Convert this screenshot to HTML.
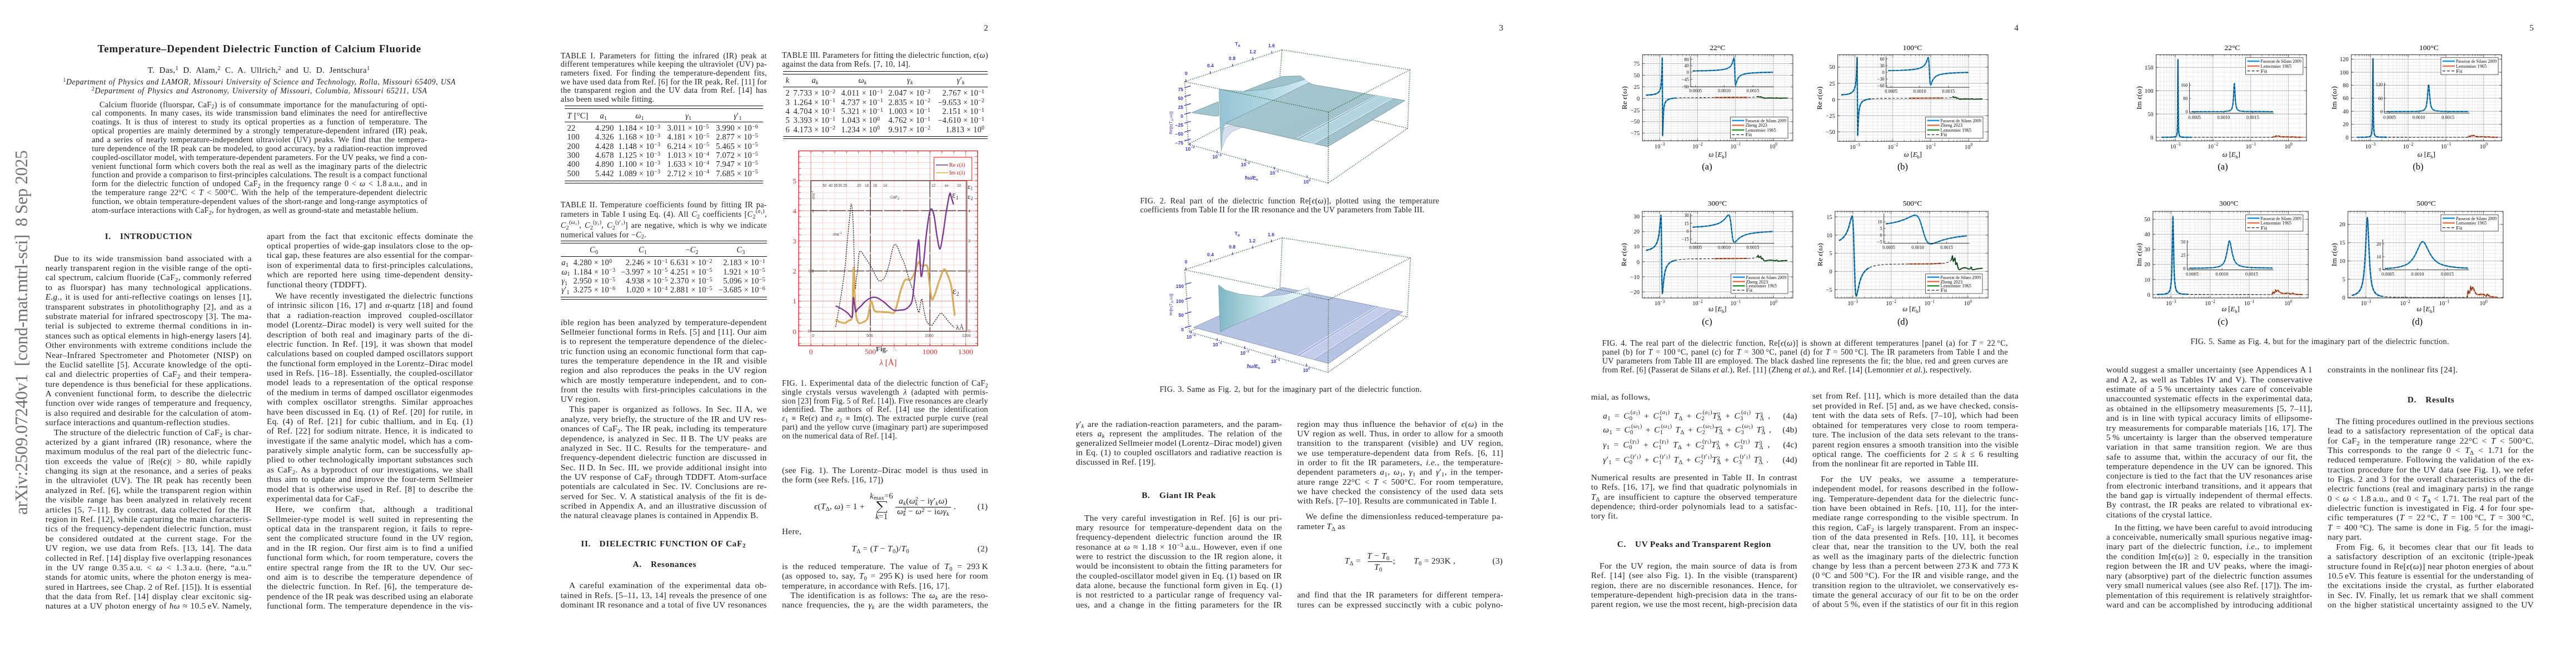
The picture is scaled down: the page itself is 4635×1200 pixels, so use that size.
<!DOCTYPE html><html><head><meta charset='utf-8'><style>
*{margin:0;padding:0}
html,body{width:4635px;height:1200px;overflow:hidden;background:#fff}
body{position:relative;font-family:"Liberation Serif",serif;color:#1e1e1e}
.x{position:absolute;white-space:nowrap;line-height:20px}
sub,sup{font-size:70%;line-height:0;position:relative;vertical-align:baseline}
sub{top:0.28em}
sup{top:-0.42em}
.ss{font-family:"Liberation Sans",sans-serif}
.b{font-size:15.3px;letter-spacing:0.3px}
.bi{font-size:15.3px;letter-spacing:0.3px;font-style:italic}
.c{font-size:14.3px;letter-spacing:0.27px}
.t{font-size:19px;font-weight:bold;letter-spacing:0.8px}
.h{font-size:15.3px;font-weight:bold;letter-spacing:0.65px}
.af{font-size:13.9px;font-style:italic;letter-spacing:0.55px}
.au{font-size:15.3px;letter-spacing:0.3px}
.tb{font-size:14.4px;letter-spacing:0.25px}
.pn{font-size:15.3px}
</style></head><body><div id='rw' style='position:absolute;left:0;top:0;width:4635px;height:1200px;will-change:transform'><div style="position:absolute;left:20.7px;top:925.6px;transform-origin:0 0;transform:rotate(-90deg);font-family:'Liberation Serif';font-size:31.5px;letter-spacing:-0.5px;line-height:normal;color:#727272;white-space:nowrap">arXiv:2509.07240v1&nbsp; [cond-mat.mtrl-sci]&nbsp; 8 Sep 2025</div>
<div style="position:absolute;left:1015.70px;top:190.15px;width:357.00px;height:0.90px;background:#111"></div>
<div style="position:absolute;left:1015.70px;top:194.75px;width:357.00px;height:0.90px;background:#111"></div>
<div style="position:absolute;left:1015.70px;top:219.15px;width:357.00px;height:0.90px;background:#111"></div>
<div style="position:absolute;left:1015.70px;top:324.65px;width:357.00px;height:0.90px;background:#111"></div>
<div style="position:absolute;left:1015.70px;top:329.05px;width:357.00px;height:0.90px;background:#111"></div>
<div style="position:absolute;left:1008.90px;top:433.15px;width:370.70px;height:0.90px;background:#111"></div>
<div style="position:absolute;left:1008.90px;top:436.95px;width:370.70px;height:0.90px;background:#111"></div>
<div style="position:absolute;left:1008.90px;top:460.75px;width:370.70px;height:0.90px;background:#111"></div>
<div style="position:absolute;left:1008.90px;top:534.45px;width:370.70px;height:0.90px;background:#111"></div>
<div style="position:absolute;left:1008.90px;top:538.45px;width:370.70px;height:0.90px;background:#111"></div>
<div style="position:absolute;left:1408.60px;top:128.35px;width:368.20px;height:0.90px;background:#111"></div>
<div style="position:absolute;left:1408.60px;top:132.55px;width:368.20px;height:0.90px;background:#111"></div>
<div style="position:absolute;left:1408.60px;top:155.75px;width:368.20px;height:0.90px;background:#111"></div>
<div style="position:absolute;left:1408.60px;top:244.85px;width:368.20px;height:0.90px;background:#111"></div>
<div style="position:absolute;left:1408.60px;top:249.25px;width:368.20px;height:0.90px;background:#111"></div>
<svg style="position:absolute;left:1420px;top:262px" width="350" height="410" viewBox="1420 262 350 410"><path d="M1437.6 271.5V622M1459.0 271.5V622M1480.4 271.5V622M1501.9 271.5V622M1523.3 271.5V622M1544.7 271.5V622M1566.2 271.5V622M1587.6 271.5V622M1609.0 271.5V622M1630.4 271.5V622M1651.9 271.5V622M1673.3 271.5V622M1694.7 271.5V622M1716.2 271.5V622M1737.6 271.5V622M1759.0 271.5V622M1437 617.7H1759M1437 606.8H1759M1437 596.0H1759M1437 585.2H1759M1437 574.3H1759M1437 563.5H1759M1437 552.6H1759M1437 541.8H1759M1437 531.0H1759M1437 520.1H1759M1437 509.3H1759M1437 498.4H1759M1437 487.6H1759M1437 476.8H1759M1437 465.9H1759M1437 455.1H1759M1437 444.2H1759M1437 433.4H1759M1437 422.6H1759M1437 411.7H1759M1437 400.9H1759M1437 390.0H1759M1437 379.2H1759M1437 368.4H1759M1437 357.5H1759M1437 346.7H1759M1437 335.8H1759M1437 325.0H1759M1437 314.2H1759M1437 303.3H1759M1437 292.5H1759M1437 281.6H1759" stroke="#f6cccc" stroke-width="0.8" fill="none"/><path d="M1437 596.0H1759M1437 541.8H1759M1437 487.6H1759M1437 433.4H1759M1437 379.2H1759M1437 325.0H1759M1459.0 271.5V622M1566.2 271.5V622M1673.3 271.5V622M1737.6 271.5V622" stroke="#ee9090" stroke-width="0.8" fill="none"/><path d="M1437 617.7h4M1759 617.7h-4M1437 606.8h4M1759 606.8h-4M1437 596.0h4M1759 596.0h-4M1437 585.2h4M1759 585.2h-4M1437 574.3h4M1759 574.3h-4M1437 563.5h4M1759 563.5h-4M1437 552.6h4M1759 552.6h-4M1437 541.8h4M1759 541.8h-4M1437 531.0h4M1759 531.0h-4M1437 520.1h4M1759 520.1h-4M1437 509.3h4M1759 509.3h-4M1437 498.4h4M1759 498.4h-4M1437 487.6h4M1759 487.6h-4M1437 476.8h4M1759 476.8h-4M1437 465.9h4M1759 465.9h-4M1437 455.1h4M1759 455.1h-4M1437 444.2h4M1759 444.2h-4M1437 433.4h4M1759 433.4h-4M1437 422.6h4M1759 422.6h-4M1437 411.7h4M1759 411.7h-4M1437 400.9h4M1759 400.9h-4M1437 390.0h4M1759 390.0h-4M1437 379.2h4M1759 379.2h-4M1437 368.4h4M1759 368.4h-4M1437 357.5h4M1759 357.5h-4M1437 346.7h4M1759 346.7h-4M1437 335.8h4M1759 335.8h-4M1437 325.0h4M1759 325.0h-4M1437 314.2h4M1759 314.2h-4M1437 303.3h4M1759 303.3h-4M1437 292.5h4M1759 292.5h-4M1437 281.6h4M1759 281.6h-4M1437.6 622v-4M1437.6 271.5v4M1459.0 622v-4M1459.0 271.5v4M1480.4 622v-4M1480.4 271.5v4M1501.9 622v-4M1501.9 271.5v4M1523.3 622v-4M1523.3 271.5v4M1544.7 622v-4M1544.7 271.5v4M1566.2 622v-4M1566.2 271.5v4M1587.6 622v-4M1587.6 271.5v4M1609.0 622v-4M1609.0 271.5v4M1630.4 622v-4M1630.4 271.5v4M1651.9 622v-4M1651.9 271.5v4M1673.3 622v-4M1673.3 271.5v4M1694.7 622v-4M1694.7 271.5v4M1716.2 622v-4M1716.2 271.5v4M1737.6 622v-4M1737.6 271.5v4M1759.0 622v-4M1759.0 271.5v4" stroke="#e03030" stroke-width="0.9" fill="none"/><rect x="1437" y="271.5" width="322" height="350.5" fill="none" stroke="#e02020" stroke-width="1.3"/><path d="M1459 325H1739.5V596H1459Z" fill="none" stroke="#6b4848" stroke-width="1.6"/><path d="M1459 379H1739.5M1459 487.5H1739.5M1566.1 325V596M1673.3 325V596" fill="none" stroke="#6b4848" stroke-width="1.5" stroke-dasharray="30 3"/><g font-family="Liberation Sans" font-size="6.5" fill="#444"><text x="1480" y="336">50</text><text x="1491" y="336">40</text><text x="1500" y="336">35</text><text x="1508" y="336">30</text><text x="1517" y="336">25</text><text x="1542" y="336">20</text><text x="1556" y="336">18</text><text x="1571" y="336">16</text><text x="1589" y="336">14</text><text x="1676" y="336">12</text><text x="1700" y="336">ev</text><text x="1722" y="336">10</text><text x="1602" y="357" font-size="7">CaF<tspan font-size="5" dy="2">2</tspan></text><text x="1497" y="424" font-size="7">-Imε<tspan font-size="5" dy="-3">-1</tspan></text><text transform="translate(1466 360) rotate(-90)" font-size="6.5">-Imε<tspan font-size="5" dy="-3">-1</tspan></text><text x="1461" y="382" font-size="7">1</text><text x="1455" y="490" font-size="7">0,5</text><text x="1454" y="598" font-size="7">0</text><text x="1461" y="606" font-size="7">0</text><text x="1559" y="606" font-size="7">500</text><text x="1664" y="606" font-size="7">1000</text><text x="1731" y="606" font-size="7">1300</text><text x="1742" y="382" font-size="7">4</text><text x="1742" y="436" font-size="7">3</text><text x="1742" y="490" font-size="7">2</text><text x="1742" y="544" font-size="7">1</text><text x="1742" y="598" font-size="7">0</text><text x="1741" y="340" font-size="13" font-family="Liberation Serif" fill="#333">ε<tspan font-size="8" dy="2">1</tspan></text><text x="1741" y="358" font-size="13" font-family="Liberation Serif" fill="#333">ε<tspan font-size="8" dy="2">2</tspan></text><text x="1713" y="356" font-size="16" font-family="Liberation Serif" fill="#333">ε<tspan font-size="10" dy="3">1</tspan></text><text x="1714" y="529" font-size="16" font-family="Liberation Serif" fill="#333">ε<tspan font-size="10" dy="3">2</tspan></text><text x="1720" y="593" font-size="12" font-family="Liberation Serif" fill="#333">λÅ</text></g><path d="M1503.6 588.1 C1505.0 580.1 1509.3 556.9 1512.0 540.0 C1514.7 523.1 1517.8 503.4 1519.8 486.7 C1521.8 470.0 1522.7 454.4 1524.0 440.0 C1525.3 425.6 1526.6 412.5 1527.9 400.3 C1529.2 388.1 1530.5 366.9 1531.7 366.9 C1532.9 366.9 1534.1 383.1 1535.0 400.3 C1535.9 417.5 1536.4 450.2 1537.0 470.0 C1537.6 489.8 1538.0 514.0 1538.7 519.0 C1539.4 524.0 1540.3 505.4 1541.0 500.0 C1541.7 494.6 1542.3 493.0 1543.0 486.7 C1543.7 480.4 1544.3 467.9 1545.0 462.0 C1545.7 456.1 1546.2 452.6 1547.4 451.6 C1548.6 450.6 1550.3 453.8 1552.0 456.0 C1553.7 458.2 1555.4 461.7 1557.6 465.0 C1559.8 468.3 1562.8 472.4 1565.0 476.0 C1567.2 479.6 1569.3 483.2 1571.1 486.7 C1572.9 490.2 1574.2 493.9 1576.0 497.0 C1577.8 500.1 1580.1 504.3 1581.9 505.5 C1583.7 506.7 1585.2 505.3 1587.0 504.0 C1588.8 502.7 1590.5 502.3 1592.7 497.5 C1594.9 492.7 1597.8 483.2 1600.0 475.0 C1602.2 466.8 1604.3 453.9 1606.0 448.0 C1607.7 442.1 1608.5 440.2 1610.0 439.7 C1611.5 439.2 1613.2 441.6 1615.0 445.0 C1616.8 448.4 1618.9 454.9 1621.0 460.0 C1623.1 465.1 1625.5 469.2 1627.8 475.9 C1630.1 482.6 1632.8 492.8 1635.0 500.0 C1637.2 507.2 1639.3 512.3 1641.3 519.0 C1643.3 525.7 1645.0 532.8 1647.0 540.0 C1649.0 547.2 1651.6 560.9 1653.1 562.2 C1654.6 563.5 1655.1 552.0 1656.0 548.0 C1656.9 544.0 1657.7 537.6 1658.5 537.9 C1659.3 538.2 1659.8 544.1 1661.0 550.0 C1662.2 555.9 1664.0 567.7 1665.5 573.0 C1667.0 578.3 1668.2 579.9 1670.0 582.0 C1671.8 584.1 1674.0 586.6 1676.3 585.4 C1678.6 584.2 1681.3 578.6 1684.0 575.0 C1686.7 571.4 1689.8 564.6 1692.5 563.8 C1695.2 563.0 1697.4 567.3 1700.0 570.0 C1702.6 572.7 1705.2 576.8 1708.0 580.0 C1710.8 583.2 1715.3 587.7 1716.8 589.2" fill="none" stroke="#2a2a2a" stroke-width="1.35" stroke-dasharray="2.4 1.7"/><path d="M1503.6 575.7 C1504.7 576.2 1507.3 578.1 1510.0 579.0 C1512.7 579.9 1517.0 581.4 1519.8 581.1 C1522.6 580.8 1524.8 578.8 1527.0 577.0 C1529.2 575.2 1532.0 578.1 1533.3 570.3 C1534.5 562.5 1534.0 544.8 1534.5 530.0 C1535.0 515.2 1535.5 483.0 1536.0 481.3 C1536.5 479.6 1536.9 506.5 1537.5 520.0 C1538.1 533.5 1539.0 553.0 1539.8 562.2 C1540.5 571.4 1541.1 571.9 1542.0 575.0 C1542.9 578.1 1543.5 580.3 1545.2 581.1 C1546.9 581.9 1549.5 581.2 1552.0 580.0 C1554.5 578.8 1558.3 577.8 1560.3 574.1 C1562.3 570.4 1562.9 563.4 1564.0 558.0 C1565.1 552.6 1565.8 543.4 1566.8 541.7 C1567.8 540.0 1568.8 545.0 1570.0 548.0 C1571.2 551.0 1571.3 557.3 1573.8 559.5 C1576.3 561.7 1580.6 560.6 1585.0 561.0 C1589.4 561.4 1596.0 561.8 1600.0 562.0 C1604.0 562.2 1606.4 565.0 1608.9 562.2 C1611.4 559.4 1613.2 551.2 1615.0 545.0 C1616.8 538.8 1617.9 531.8 1620.0 525.0 C1622.1 518.2 1625.6 508.2 1627.8 504.5 C1630.0 500.8 1631.2 503.3 1633.0 503.0 C1634.8 502.7 1636.6 504.7 1638.6 502.9 C1640.6 501.1 1642.8 497.1 1645.0 492.0 C1647.2 486.9 1650.3 474.8 1652.1 472.1 C1653.9 469.4 1654.7 474.9 1656.0 476.0 C1657.3 477.1 1658.2 478.2 1660.2 478.6 C1662.2 479.0 1666.3 474.2 1668.3 478.6 C1670.3 483.0 1670.7 495.1 1672.0 505.0 C1673.3 514.9 1674.6 533.7 1676.3 537.9 C1678.0 542.1 1679.7 535.5 1682.0 530.0 C1684.3 524.5 1687.3 512.4 1690.0 505.0 C1692.7 497.6 1695.7 488.1 1697.9 485.6 C1700.1 483.1 1700.8 485.3 1703.0 490.0 C1705.2 494.7 1709.6 506.1 1711.4 513.6 C1713.2 521.1 1712.9 526.0 1714.0 535.0 C1715.1 544.0 1717.2 562.2 1717.9 567.6" fill="none" stroke="#5a4a30" stroke-width="3.0" opacity="0.6"/><path d="M1503.6 575.7 C1504.7 576.2 1507.3 578.1 1510.0 579.0 C1512.7 579.9 1517.0 581.4 1519.8 581.1 C1522.6 580.8 1524.8 578.8 1527.0 577.0 C1529.2 575.2 1532.0 578.1 1533.3 570.3 C1534.5 562.5 1534.0 544.8 1534.5 530.0 C1535.0 515.2 1535.5 483.0 1536.0 481.3 C1536.5 479.6 1536.9 506.5 1537.5 520.0 C1538.1 533.5 1539.0 553.0 1539.8 562.2 C1540.5 571.4 1541.1 571.9 1542.0 575.0 C1542.9 578.1 1543.5 580.3 1545.2 581.1 C1546.9 581.9 1549.5 581.2 1552.0 580.0 C1554.5 578.8 1558.3 577.8 1560.3 574.1 C1562.3 570.4 1562.9 563.4 1564.0 558.0 C1565.1 552.6 1565.8 543.4 1566.8 541.7 C1567.8 540.0 1568.8 545.0 1570.0 548.0 C1571.2 551.0 1571.3 557.3 1573.8 559.5 C1576.3 561.7 1580.6 560.6 1585.0 561.0 C1589.4 561.4 1596.0 561.8 1600.0 562.0 C1604.0 562.2 1606.4 565.0 1608.9 562.2 C1611.4 559.4 1613.2 551.2 1615.0 545.0 C1616.8 538.8 1617.9 531.8 1620.0 525.0 C1622.1 518.2 1625.6 508.2 1627.8 504.5 C1630.0 500.8 1631.2 503.3 1633.0 503.0 C1634.8 502.7 1636.6 504.7 1638.6 502.9 C1640.6 501.1 1642.8 497.1 1645.0 492.0 C1647.2 486.9 1650.3 474.8 1652.1 472.1 C1653.9 469.4 1654.7 474.9 1656.0 476.0 C1657.3 477.1 1658.2 478.2 1660.2 478.6 C1662.2 479.0 1666.3 474.2 1668.3 478.6 C1670.3 483.0 1670.7 495.1 1672.0 505.0 C1673.3 514.9 1674.6 533.7 1676.3 537.9 C1678.0 542.1 1679.7 535.5 1682.0 530.0 C1684.3 524.5 1687.3 512.4 1690.0 505.0 C1692.7 497.6 1695.7 488.1 1697.9 485.6 C1700.1 483.1 1700.8 485.3 1703.0 490.0 C1705.2 494.7 1709.6 506.1 1711.4 513.6 C1713.2 521.1 1712.9 526.0 1714.0 535.0 C1715.1 544.0 1717.2 562.2 1717.9 567.6" fill="none" stroke="#e9b24a" stroke-width="2.2"/><path d="M1503.6 550.3 C1505.5 551.2 1511.4 553.9 1515.0 556.0 C1518.6 558.1 1522.0 560.6 1525.0 563.0 C1528.0 565.4 1531.7 572.5 1533.3 570.3 C1534.9 568.1 1534.1 555.9 1534.5 550.0 C1534.9 544.1 1535.0 535.5 1535.5 535.2 C1536.0 534.9 1536.8 543.7 1537.5 548.0 C1538.2 552.3 1538.9 559.8 1539.8 561.1 C1540.7 562.4 1541.6 557.6 1543.0 556.0 C1544.4 554.4 1546.2 553.6 1548.4 551.4 C1550.6 549.2 1553.1 545.5 1556.0 543.0 C1558.9 540.5 1562.3 537.6 1565.7 536.3 C1569.1 535.0 1572.5 534.1 1576.5 535.2 C1580.5 536.3 1586.1 540.2 1590.0 543.0 C1593.9 545.8 1596.8 549.4 1600.0 552.0 C1603.2 554.6 1605.9 557.4 1608.9 558.4 C1611.9 559.4 1614.8 558.3 1618.0 558.0 C1621.2 557.7 1625.0 557.8 1627.8 556.8 C1630.6 555.8 1632.8 554.7 1635.0 552.0 C1637.2 549.3 1639.5 549.3 1641.3 540.6 C1643.1 531.9 1644.5 514.3 1646.0 500.0 C1647.5 485.7 1648.8 466.4 1650.0 455.0 C1651.2 443.6 1652.3 430.8 1653.1 431.6 C1653.9 432.4 1654.3 449.0 1655.0 460.0 C1655.7 471.0 1656.3 495.8 1657.5 497.5 C1658.7 499.2 1660.4 482.9 1662.0 470.0 C1663.6 457.1 1665.1 435.2 1667.0 420.0 C1668.9 404.8 1671.4 384.5 1673.6 378.7 C1675.8 372.9 1677.9 377.3 1680.0 385.0 C1682.1 392.7 1684.1 414.5 1686.0 425.0 C1687.9 435.5 1689.6 448.6 1691.4 447.8 C1693.2 447.0 1695.2 430.5 1697.0 420.0 C1698.8 409.5 1700.0 396.8 1702.0 385.0 C1704.0 373.2 1707.0 353.8 1708.7 349.0 C1710.4 344.2 1710.8 352.9 1712.0 356.0 C1713.2 359.1 1715.1 365.9 1715.7 367.9" fill="none" stroke="#7b3b93" stroke-width="2.4"/><rect x="1680.4" y="283.1" width="68.3" height="41.3" fill="#fff" stroke="#e02020" stroke-width="1"/><path d="M1684 296.8h22" stroke="#7a3a90" stroke-width="1.6"/><path d="M1684 310.9h22" stroke="#f0b040" stroke-width="1.6"/><g font-family="Liberation Serif" font-size="10" fill="#d02020"><text x="1708" y="300">Re <tspan font-style="italic">ϵ</tspan>(<tspan font-style="italic">λ</tspan>)</text><text x="1708" y="314">Im <tspan font-style="italic">ϵ</tspan>(<tspan font-style="italic">λ</tspan>)</text></g><g font-family="Liberation Serif" font-size="13.5" fill="#d83030" text-anchor="end"><text x="1433" y="600.5">0</text><text x="1433" y="546.3">1</text><text x="1433" y="492.1">2</text><text x="1433" y="437.9">3</text><text x="1433" y="383.7">4</text><text x="1433" y="329.5">5</text></g><g font-family="Liberation Serif" font-size="13.5" fill="#d83030" text-anchor="middle"><text x="1459.0" y="637.3">0</text><text x="1566.2" y="637.3">500</text><text x="1673.3" y="637.3">1000</text><text x="1737.6" y="637.3">1300</text><text x="1598" y="656.5" font-size="15"><tspan font-style="italic">λ</tspan> [Å]</text></g><text x="1576" y="632" font-family="Liberation Serif" font-size="13" font-weight="bold" fill="#444">Fig.</text><text x="1606" y="632" font-family="Liberation Serif" font-size="13" fill="#bbb">5.</text></svg>
<svg style="position:absolute;left:1570px;top:896px" width="32" height="32" viewBox="1570 896 32 32"><path d="M1595.6 902.4H1577.4L1587 912.2L1577.2 921.8H1595.8" fill="none" stroke="#111" stroke-width="1.0"/><path d="M1577.9 902.4L1587.4 912.2" stroke="#111" stroke-width="2.1"/><path d="M1595.3 902V905M1595.6 922.3V918.5" stroke="#111" stroke-width="0.9"/></svg>
<div style="position:absolute;left:1611.40px;top:911.70px;width:99.40px;height:0.80px;background:#111"></div>
<svg style="position:absolute;left:2080px;top:60px" width="480" height="640" viewBox="2080 60 480 640"><defs><linearGradient id="gw" x1="0" y1="0" x2="1" y2="0"><stop offset="0" stop-color="#95c3d3"/><stop offset="0.5" stop-color="#aed5e1"/><stop offset="1" stop-color="#d2ecf3"/></linearGradient><linearGradient id="gw2" x1="0" y1="0" x2="1" y2="0"><stop offset="0" stop-color="#7fb7c4"/><stop offset="0.5" stop-color="#c5e2ea"/><stop offset="1" stop-color="#f2f8fb"/></linearGradient><linearGradient id="gs" x1="0" y1="0" x2="1" y2="1"><stop offset="0" stop-color="#a6c6d0"/><stop offset="1" stop-color="#a0c0ca"/></linearGradient></defs><line x1="2138.4" y1="259.5" x2="2300.0" y2="175.0" stroke="#325c32" stroke-width="1.5" stroke-dasharray="1.3 2.2"/><line x1="2300.0" y1="175.0" x2="2532.7" y2="230.9" stroke="#325c32" stroke-width="1.5" stroke-dasharray="1.3 2.2"/><line x1="2306.8" y1="89.7" x2="2300.0" y2="175.0" stroke="#325c32" stroke-width="1.5" stroke-dasharray="1.3 2.2"/><polygon points="2204.0,222.0 2388.7,264.0 2527.8,180.9 2362.6,152.2 2355.0,148.8 2300.0,176.0" fill="url(#gs)" stroke="#5d7f8a" stroke-width="0.7"/><polygon points="2144.3,202.6 2192.2,183.0 2193.0,208.0 2187.6,209.1" fill="#a2c6d1" stroke="#5d7f8a" stroke-width="0.7"/><polygon points="2237.6,164.4 2307.2,137.3 2340.0,136.5 2348.0,142.8 2312.0,153.6 2276.0,160.8" fill="#9fc3ce" stroke="#5d7f8a" stroke-width="0.6"/><polygon points="2193.2,160.8 2237.6,164.4 2276.0,160.8 2312.0,153.6 2348.0,142.8 2352.0,147.0 2355.0,148.8 2300.0,176.0 2250.0,200.0 2204.0,222.0 2199.0,240.0 2197.3,271.2 2195.0,215.0" fill="url(#gw)" stroke="#6a8c96" stroke-width="0.5"/><polygon points="2197.3,271.2 2199.0,245.0 2203.0,230.0 2210.0,226.0 2235.0,229.0 2218.0,236.0 2205.0,250.0" fill="#d6dfee" stroke="#7a92a0" stroke-width="0.5"/><polygon points="2339,251 2363,259 2505,177.3 2482,171.8" fill="#b3d6e1" opacity="0.9"/><g stroke="#e6f6fb" stroke-width="1.0" fill="none"><path d="M2333.5 249L2478.3 170.8M2338.5 250.8L2482 171.7M2363.2 258.9L2505.3 177.1"/></g><g stroke="#7d9aa5" stroke-width="0.5" fill="none"><path d="M2336 250L2480 171.2M2366 259.8L2507 178"/></g><line x1="2131.7" y1="146.8" x2="2306.8" y2="89.7" stroke="#325c32" stroke-width="1.5" stroke-dasharray="1.3 2.2"/><line x1="2306.8" y1="89.7" x2="2537.0" y2="125.6" stroke="#325c32" stroke-width="1.5" stroke-dasharray="1.3 2.2"/><line x1="2537.0" y1="125.6" x2="2390.4" y2="201.6" stroke="#325c32" stroke-width="1.5" stroke-dasharray="1.3 2.2"/><line x1="2131.7" y1="146.8" x2="2390.4" y2="201.6" stroke="#325c32" stroke-width="1.5" stroke-dasharray="1.3 2.2"/><line x1="2537.0" y1="125.6" x2="2532.7" y2="230.9" stroke="#325c32" stroke-width="1.5" stroke-dasharray="1.3 2.2"/><line x1="2390.4" y1="201.6" x2="2389.7" y2="329.5" stroke="#325c32" stroke-width="1.5" stroke-dasharray="1.3 2.2"/><line x1="2389.7" y1="329.5" x2="2532.7" y2="230.9" stroke="#325c32" stroke-width="1.5" stroke-dasharray="1.3 2.2"/><line x1="2138.4" y1="259.5" x2="2389.7" y2="329.5" stroke="#325c32" stroke-width="1.5" stroke-dasharray="1.3 2.2"/><line x1="2131.7" y1="146.8" x2="2138.4" y2="259.5" stroke="#325c32" stroke-width="1.5" stroke-dasharray="1.3 2.2"/><g stroke="#3a3ad0" stroke-width="1.4"><line x1="2131" y1="157.9" x2="2142.5" y2="154.6"/><line x1="2131" y1="173.8" x2="2142.5" y2="170.5"/><line x1="2131" y1="189.8" x2="2142.5" y2="186.5"/><line x1="2131" y1="205.7" x2="2142.5" y2="202.4"/><line x1="2131" y1="221.6" x2="2142.5" y2="218.3"/><line x1="2131" y1="237.6" x2="2142.5" y2="234.3"/><line x1="2131" y1="253.5" x2="2142.5" y2="250.2"/></g><g font-family="Liberation Sans" fill="#3a3ad0"><text x="2129.0" y="163.9" text-anchor="end" font-size="8.5" font-weight="bold">75</text><text x="2129.0" y="179.8" text-anchor="end" font-size="8.5" font-weight="bold">50</text><text x="2129.0" y="195.8" text-anchor="end" font-size="8.5" font-weight="bold">25</text><text x="2129.0" y="211.7" text-anchor="end" font-size="8.5" font-weight="bold">0</text><text x="2129.0" y="227.6" text-anchor="end" font-size="8.5" font-weight="bold">−25</text><text x="2129.0" y="243.6" text-anchor="end" font-size="8.5" font-weight="bold">−50</text><text x="2129.0" y="259.5" text-anchor="end" font-size="8.5" font-weight="bold">−75</text><text x="2134.3" y="134.8" text-anchor="middle" font-size="8.5" font-weight="bold">0</text><text x="2177.8" y="120.9" text-anchor="middle" font-size="8.5" font-weight="bold">0.4</text><text x="2217.0" y="107.8" text-anchor="middle" font-size="8.5" font-weight="bold">0.8</text><text x="2254.0" y="96.0" text-anchor="middle" font-size="8.5" font-weight="bold">1.2</text><text x="2287.8" y="85.2" text-anchor="middle" font-size="8.5" font-weight="bold">1.6</text><text x="2227.0" y="81.7" text-anchor="middle" font-size="8.5" font-weight="bold">T<tspan font-size="6" dy="2">Δ</tspan></text><text x="2140.9" y="270.9" text-anchor="middle" font-size="8.5" font-weight="bold">10<tspan font-size="6" dy="-4">−4</tspan></text><text x="2189.6" y="285.2" text-anchor="middle" font-size="8.5" font-weight="bold">10<tspan font-size="6" dy="-4">−3</tspan></text><text x="2240.9" y="299.1" text-anchor="middle" font-size="8.5" font-weight="bold">10<tspan font-size="6" dy="-4">−2</tspan></text><text x="2293.0" y="314.3" text-anchor="middle" font-size="8.5" font-weight="bold">10<tspan font-size="6" dy="-4">−1</tspan></text><text x="2351.7" y="329.6" text-anchor="middle" font-size="8.5" font-weight="bold">10<tspan font-size="6" dy="-4">0</tspan></text><text x="2251.7" y="323.0" text-anchor="middle" font-size="8.5" font-weight="bold"><tspan font-style="italic">ħω</tspan>/E<tspan font-size="6" dy="2">h</tspan></text><text transform="translate(2109 221) rotate(-90)" text-anchor="middle" font-size="8">Re[ε(T<tspan font-size="6" dy="2">Δ</tspan><tspan dy="-2">,ω)]</tspan></text></g><g stroke="#3a3ad0" stroke-width="1.3"><line x1="2133.5" y1="142.5" x2="2134.0" y2="147.5"/><line x1="2177.5" y1="128.0" x2="2178.0" y2="133.0"/><line x1="2217.5" y1="115.0" x2="2218.0" y2="120.0"/><line x1="2254.0" y1="103.0" x2="2254.5" y2="108.0"/><line x1="2288.0" y1="92.0" x2="2288.5" y2="97.0"/><line x1="2140.9" y1="257.0" x2="2140.9" y2="262.0"/><line x1="2190.0" y1="271.0" x2="2190.0" y2="276.0"/><line x1="2240.9" y1="285.5" x2="2240.9" y2="290.5"/><line x1="2293.0" y1="300.0" x2="2293.0" y2="305.0"/><line x1="2351.7" y1="315.5" x2="2351.7" y2="320.5"/></g><line x1="2139.8" y1="597.0" x2="2303.0" y2="520.0" stroke="#325c32" stroke-width="1.5" stroke-dasharray="1.3 2.2"/><line x1="2303.0" y1="520.0" x2="2532.0" y2="570.0" stroke="#325c32" stroke-width="1.5" stroke-dasharray="1.3 2.2"/><line x1="2307.2" y1="427.9" x2="2303.0" y2="520.0" stroke="#325c32" stroke-width="1.5" stroke-dasharray="1.3 2.2"/><polygon points="2147.5,589.0 2390.4,654.0 2524.4,561.0 2307.0,517.0" fill="#b6c2e2" stroke="#6f7fa6" stroke-width="0.7"/><polygon points="2192.5,512.5 2205.0,522.0 2230.0,529.0 2269.0,534.0 2310.0,530.0 2335.0,524.0 2350.0,519.0 2354.4,517.9 2357.0,526.0 2340.0,533.0 2205.0,592.0 2196.0,598.0 2194.0,560.0" fill="url(#gw2)" stroke="#6f8f9a" stroke-width="0.6"/><polygon points="2340,640 2363,646.2 2502.2,556.6 2482,552.2" fill="#c3cdea" opacity="0.9"/><g stroke="#eef2fb" stroke-width="1.0" fill="none"><path d="M2333.6 638.4L2475.9 551.7M2339.5 639.8L2481.7 552.1M2362.9 646.2L2502.2 556.6"/></g><g stroke="#8390b0" stroke-width="0.5" fill="none"><path d="M2336.5 639L2478.8 551.9M2365.5 647L2504.5 557.2"/></g><line x1="2131.7" y1="485.5" x2="2307.2" y2="427.9" stroke="#325c32" stroke-width="1.5" stroke-dasharray="1.3 2.2"/><line x1="2307.2" y1="427.9" x2="2538.0" y2="463.9" stroke="#325c32" stroke-width="1.5" stroke-dasharray="1.3 2.2"/><line x1="2538.0" y1="463.9" x2="2390.4" y2="539.4" stroke="#325c32" stroke-width="1.5" stroke-dasharray="1.3 2.2"/><line x1="2131.7" y1="485.5" x2="2390.4" y2="539.4" stroke="#325c32" stroke-width="1.5" stroke-dasharray="1.3 2.2"/><line x1="2538.0" y1="463.9" x2="2532.0" y2="570.0" stroke="#325c32" stroke-width="1.5" stroke-dasharray="1.3 2.2"/><line x1="2390.4" y1="539.4" x2="2389.5" y2="670.0" stroke="#325c32" stroke-width="1.5" stroke-dasharray="1.3 2.2"/><line x1="2389.5" y1="670.0" x2="2532.0" y2="570.0" stroke="#325c32" stroke-width="1.5" stroke-dasharray="1.3 2.2"/><line x1="2139.8" y1="597.0" x2="2389.5" y2="670.0" stroke="#325c32" stroke-width="1.5" stroke-dasharray="1.3 2.2"/><line x1="2131.7" y1="485.5" x2="2139.8" y2="597.0" stroke="#325c32" stroke-width="1.5" stroke-dasharray="1.3 2.2"/><g stroke="#3a3ad0" stroke-width="1.4"><line x1="2132" y1="511.7" x2="2143.5" y2="508.4"/><line x1="2132" y1="538.7" x2="2143.5" y2="535.4"/><line x1="2132" y1="564.3" x2="2143.5" y2="561.0"/><line x1="2132" y1="589.5" x2="2143.5" y2="586.2"/></g><g font-family="Liberation Sans" fill="#3a3ad0"><text x="2130.0" y="517.7" text-anchor="end" font-size="8.5" font-weight="bold">150</text><text x="2130.0" y="544.7" text-anchor="end" font-size="8.5" font-weight="bold">100</text><text x="2130.0" y="570.3" text-anchor="end" font-size="8.5" font-weight="bold">50</text><text x="2130.0" y="595.5" text-anchor="end" font-size="8.5" font-weight="bold">0</text><text x="2134.0" y="474.2" text-anchor="middle" font-size="8.5" font-weight="bold">0</text><text x="2178.0" y="460.7" text-anchor="middle" font-size="8.5" font-weight="bold">0.4</text><text x="2217.2" y="447.2" text-anchor="middle" font-size="8.5" font-weight="bold">0.8</text><text x="2253.2" y="436.0" text-anchor="middle" font-size="8.5" font-weight="bold">1.2</text><text x="2287.0" y="424.7" text-anchor="middle" font-size="8.5" font-weight="bold">1.6</text><text x="2226.2" y="422.5" text-anchor="middle" font-size="8.5" font-weight="bold">T<tspan font-size="6" dy="2">Δ</tspan></text><text x="2143.0" y="609.2" text-anchor="middle" font-size="8.5" font-weight="bold">10<tspan font-size="6" dy="-4">−4</tspan></text><text x="2190.2" y="622.7" text-anchor="middle" font-size="8.5" font-weight="bold">10<tspan font-size="6" dy="-4">−3</tspan></text><text x="2239.7" y="637.5" text-anchor="middle" font-size="8.5" font-weight="bold">10<tspan font-size="6" dy="-4">−2</tspan></text><text x="2295.0" y="652.8" text-anchor="middle" font-size="8.5" font-weight="bold">10<tspan font-size="6" dy="-4">−1</tspan></text><text x="2350.8" y="669.0" text-anchor="middle" font-size="8.5" font-weight="bold">10<tspan font-size="6" dy="-4">0</tspan></text><text x="2255.4" y="661.8" text-anchor="middle" font-size="8.5" font-weight="bold"><tspan font-style="italic">ħω</tspan>/E<tspan font-size="6" dy="2">h</tspan></text><text transform="translate(2109 548) rotate(-90)" text-anchor="middle" font-size="8">Im[ε(T<tspan font-size="6" dy="2">Δ</tspan><tspan dy="-2">,ω)]</tspan></text></g><g stroke="#3a3ad0" stroke-width="1.3"><line x1="2133.5" y1="481.0" x2="2134.0" y2="486.0"/><line x1="2177.5" y1="467.0" x2="2178.0" y2="472.0"/><line x1="2217.5" y1="454.0" x2="2218.0" y2="459.0"/><line x1="2253.5" y1="442.5" x2="2254.0" y2="447.5"/><line x1="2287.5" y1="431.0" x2="2288.0" y2="436.0"/><line x1="2143.0" y1="595.0" x2="2143.0" y2="600.0"/><line x1="2190.0" y1="608.5" x2="2190.0" y2="613.5"/><line x1="2239.7" y1="623.0" x2="2239.7" y2="628.0"/><line x1="2295.0" y1="638.5" x2="2295.0" y2="643.5"/><line x1="2350.8" y1="654.5" x2="2350.8" y2="659.5"/></g></svg>
<div style="position:absolute;left:2460.50px;top:1009.90px;width:44.00px;height:0.80px;background:#111"></div>
<svg style="position:absolute;left:2860px;top:70px" width="760" height="530" viewBox="2860 70 760 530"><clipPath id="clp1"><rect x="2955.3" y="98.4" width="270.6" height="154.9"/></clipPath><path d="M2959.2 98.4V253.3M2965.8 98.4V253.3M2971.2 98.4V253.3M2975.7 98.4V253.3M2979.7 98.4V253.3M2983.2 98.4V253.3M3006.8 98.4V253.3M3018.8 98.4V253.3M3027.4 98.4V253.3M3034.0 98.4V253.3M3039.4 98.4V253.3M3043.9 98.4V253.3M3047.9 98.4V253.3M3051.4 98.4V253.3M3075.0 98.4V253.3M3087.0 98.4V253.3M3095.6 98.4V253.3M3102.2 98.4V253.3M3107.6 98.4V253.3M3112.1 98.4V253.3M3116.1 98.4V253.3M3119.6 98.4V253.3M3143.2 98.4V253.3M3155.2 98.4V253.3M3163.8 98.4V253.3M3170.4 98.4V253.3M3175.8 98.4V253.3M3180.3 98.4V253.3M3184.3 98.4V253.3M3187.8 98.4V253.3M3211.4 98.4V253.3M3223.4 98.4V253.3M2955.3 252.2H3225.9M2955.3 248.0H3225.9M2955.3 243.8H3225.9M2955.3 239.6H3225.9M2955.3 235.5H3225.9M2955.3 231.3H3225.9M2955.3 227.1H3225.9M2955.3 223.0H3225.9M2955.3 218.8H3225.9M2955.3 214.6H3225.9M2955.3 210.5H3225.9M2955.3 206.3H3225.9M2955.3 202.1H3225.9M2955.3 197.9H3225.9M2955.3 193.8H3225.9M2955.3 189.6H3225.9M2955.3 185.4H3225.9M2955.3 181.3H3225.9M2955.3 177.1H3225.9M2955.3 172.9H3225.9M2955.3 168.8H3225.9M2955.3 164.6H3225.9M2955.3 160.4H3225.9M2955.3 156.2H3225.9M2955.3 152.1H3225.9M2955.3 147.9H3225.9M2955.3 143.7H3225.9M2955.3 139.6H3225.9M2955.3 135.4H3225.9M2955.3 131.2H3225.9M2955.3 127.1H3225.9M2955.3 122.9H3225.9M2955.3 118.7H3225.9M2955.3 114.5H3225.9M2955.3 110.4H3225.9M2955.3 106.2H3225.9M2955.3 102.0H3225.9" stroke="#e2e2e2" stroke-width="0.7" fill="none"/><path d="M2986.3 98.4V253.3M3054.5 98.4V253.3M3122.7 98.4V253.3M3190.9 98.4V253.3M2955.3 239.6H3225.9M2955.3 218.8H3225.9M2955.3 197.9H3225.9M2955.3 177.1H3225.9M2955.3 156.2H3225.9M2955.3 135.4H3225.9M2955.3 114.5H3225.9" stroke="#b4b4b4" stroke-width="0.9" fill="none"/><path d="M2959.2 253.3v-2.2M2959.2 98.4v2.2M2965.8 253.3v-2.2M2965.8 98.4v2.2M2971.2 253.3v-2.2M2971.2 98.4v2.2M2975.7 253.3v-2.2M2975.7 98.4v2.2M2979.7 253.3v-2.2M2979.7 98.4v2.2M2983.2 253.3v-2.2M2983.2 98.4v2.2M2986.3 253.3v-4.0M2986.3 98.4v4.0M3006.8 253.3v-2.2M3006.8 98.4v2.2M3018.8 253.3v-2.2M3018.8 98.4v2.2M3027.4 253.3v-2.2M3027.4 98.4v2.2M3034.0 253.3v-2.2M3034.0 98.4v2.2M3039.4 253.3v-2.2M3039.4 98.4v2.2M3043.9 253.3v-2.2M3043.9 98.4v2.2M3047.9 253.3v-2.2M3047.9 98.4v2.2M3051.4 253.3v-2.2M3051.4 98.4v2.2M3054.5 253.3v-4.0M3054.5 98.4v4.0M3075.0 253.3v-2.2M3075.0 98.4v2.2M3087.0 253.3v-2.2M3087.0 98.4v2.2M3095.6 253.3v-2.2M3095.6 98.4v2.2M3102.2 253.3v-2.2M3102.2 98.4v2.2M3107.6 253.3v-2.2M3107.6 98.4v2.2M3112.1 253.3v-2.2M3112.1 98.4v2.2M3116.1 253.3v-2.2M3116.1 98.4v2.2M3119.6 253.3v-2.2M3119.6 98.4v2.2M3122.7 253.3v-4.0M3122.7 98.4v4.0M3143.2 253.3v-2.2M3143.2 98.4v2.2M3155.2 253.3v-2.2M3155.2 98.4v2.2M3163.8 253.3v-2.2M3163.8 98.4v2.2M3170.4 253.3v-2.2M3170.4 98.4v2.2M3175.8 253.3v-2.2M3175.8 98.4v2.2M3180.3 253.3v-2.2M3180.3 98.4v2.2M3184.3 253.3v-2.2M3184.3 98.4v2.2M3187.8 253.3v-2.2M3187.8 98.4v2.2M3190.9 253.3v-4.0M3190.9 98.4v4.0M3211.4 253.3v-2.2M3211.4 98.4v2.2M3223.4 253.3v-2.2M3223.4 98.4v2.2M2955.3 239.6h4M3225.9 239.6h-4M2955.3 218.8h4M3225.9 218.8h-4M2955.3 197.9h4M3225.9 197.9h-4M2955.3 177.1h4M3225.9 177.1h-4M2955.3 156.2h4M3225.9 156.2h-4M2955.3 135.4h4M3225.9 135.4h-4M2955.3 114.5h4M3225.9 114.5h-4" stroke="#333" stroke-width="0.7" fill="none"/><rect x="2955.3" y="98.4" width="270.6" height="154.9" fill="none" stroke="#222" stroke-width="0.9"/><g font-family="Liberation Serif" font-size="10.5" fill="#111"><text x="2950.3" y="243.2" text-anchor="end">−75</text><text x="2950.3" y="222.4" text-anchor="end">−50</text><text x="2950.3" y="201.5" text-anchor="end">−25</text><text x="2950.3" y="180.7" text-anchor="end">0</text><text x="2950.3" y="159.8" text-anchor="end">25</text><text x="2950.3" y="139.0" text-anchor="end">50</text><text x="2950.3" y="118.1" text-anchor="end">75</text><text x="2986.3" y="266.5" text-anchor="middle">10<tspan font-size="7.5" dy="-4.5">−3</tspan></text><text x="3054.5" y="266.5" text-anchor="middle">10<tspan font-size="7.5" dy="-4.5">−2</tspan></text><text x="3122.7" y="266.5" text-anchor="middle">10<tspan font-size="7.5" dy="-4.5">−1</tspan></text><text x="3190.9" y="266.5" text-anchor="middle">10<tspan font-size="7.5" dy="-4.5">0</tspan></text></g><text x="3090.3" y="89.5" text-anchor="middle" font-family="Liberation Serif" font-size="13.5">22°C</text><text transform="translate(2927.0 175.9) rotate(-90)" text-anchor="middle" font-family="Liberation Serif" font-size="13.3">Re <tspan font-style="italic">ϵ</tspan>(<tspan font-style="italic">ω</tspan>)</text><text x="3090.6" y="281.9" text-anchor="middle" font-family="Liberation Serif" font-size="12.5"><tspan font-style="italic">ω</tspan> [<tspan font-style="italic">E</tspan><tspan font-size="8.5" dy="3">h</tspan><tspan dy="-3">]</tspan></text><text x="3071.5" y="304.5" text-anchor="middle" font-family="Liberation Serif" font-size="16.5">(a)</text><g clip-path="url(#clp1)" fill="none" stroke-linejoin="round"><path d="M2961.7 171.2 2972.6 170.4 2979.3 168.9 2981.7 167.9 2983.7 166.5 2985.2 164.8 2986.5 162.6 2987.6 159.4 2988.3 156.0 2989.4 146.5 2990.2 131.9 2990.9 104.1 2991.6 243.9 2993.1 202.0 2994.2 191.7 2995.7 185.8 2996.8 183.4 2998.0 181.6 2999.7 180.1 3001.7 178.9 3007.2 177.2 3015.6 176.2" stroke="#1f98e0" stroke-width="2.6"/><path d="M3084.4 175.4 3144.5 175.3" stroke="#e5774f" stroke-width="2.4"/><path d="M3161.4 174.4 3163.4 173.5 3164.8 174.8 3168.0 174.0 3169.2 175.5 3171.3 175.1 3173.8 176.4 3175.3 176.7 3185.0 176.2 3193.8 176.6 3196.7 176.1 3199.3 176.7 3215.8 176.4" stroke="#319a3c" stroke-width="2.2"/><path d="M3161.4 174.4 3163.4 173.5 3164.8 174.8 3168.0 174.0 3169.2 175.5 3171.3 175.1 3173.8 176.4 3175.3 176.7 3185.0 176.2 3193.8 176.6 3196.7 176.1 3199.3 176.7 3215.8 176.4" stroke="#222" stroke-width="0.9"/><path d="M2961.7 171.2 2972.6 170.4 2979.3 168.9 2981.7 167.9 2983.7 166.5 2985.2 164.8 2986.5 162.6 2987.6 159.4 2988.3 156.0 2989.4 146.5 2990.2 131.9 2990.9 104.1 2991.6 243.9 2992.7 208.5 2993.5 197.5 2994.4 190.7 2995.7 185.8 2997.7 182.0 3000.4 179.6 3004.3 177.9 3012.5 176.5 3026.3 175.8 3148.3 175.2 3159.5 174.7 3161.7 174.3 3163.4 173.5 3164.7 174.8 3168.0 174.0 3169.2 175.5 3171.3 175.1 3173.6 176.4 3175.1 176.7 3185.0 176.2 3193.8 176.6 3196.7 176.1 3199.3 176.7 3218.2 176.4" stroke="#222" stroke-width="1.1" stroke-dasharray="4.5 2.8"/></g><path d="M3045.6 127.7 3070.5 127.2 3087.3 126.5 3098.6 125.4 3106.2 123.8 3111.1 121.6 3113.1 119.9 3114.6 118.2 3116.9 113.8 3119.8 104.4 3120.3 106.2 3120.6 109.6 3122.1 146.9 3122.4 150.8 3122.9 153.1 3125.8 143.9 3127.9 139.8 3129.3 138.0 3131.3 136.2 3136.0 133.9 3142.9 132.3 3153.1 131.2 3168.1 130.5 3190.1 130.0" fill="none" stroke="#1f98e0" stroke-width="2.4"/><path d="M3045.6 127.7 3070.5 127.2 3087.3 126.5 3098.6 125.4 3106.2 123.8 3111.1 121.6 3113.1 119.9 3114.6 118.2 3116.9 113.8 3119.8 104.4 3120.3 106.2 3120.6 109.6 3122.1 146.9 3122.4 150.8 3122.9 153.1 3125.8 143.9 3127.9 139.8 3129.3 138.0 3131.3 136.2 3136.0 133.9 3142.9 132.3 3153.1 131.2 3168.1 130.5 3190.1 130.0" fill="none" stroke="#222" stroke-width="1.0" stroke-dasharray="4.5 2.8"/><path d="M3041.9 101.5V156.2H3191.5" fill="none" stroke="#222" stroke-width="0.9"/><path d="M3041.9 106.6h3M3041.9 118.1h3M3041.9 129.7h3M3041.9 142.7h3M3041.9 155.7h3M3050.8 156.2v-3M3102.4 156.2v-3M3154.0 156.2v-3" stroke="#222" stroke-width="0.7"/><g font-family="Liberation Serif" font-size="8.3" fill="#111"><text x="3038.9" y="109.6" text-anchor="end">80</text><text x="3038.9" y="121.1" text-anchor="end">40</text><text x="3038.9" y="132.7" text-anchor="end">0</text><text x="3038.9" y="145.7" text-anchor="end">−45</text><text x="3038.9" y="158.7" text-anchor="end">−90</text><text x="3050.8" y="166.2" text-anchor="middle">0.0005</text><text x="3102.4" y="166.2" text-anchor="middle">0.0010</text><text x="3154.0" y="166.2" text-anchor="middle">0.0015</text></g><rect x="3113.4" y="210.6" width="103.6" height="38.1" fill="#fff" stroke="#333" stroke-width="0.8"/><path d="M3116.4 216.9h22" stroke="#1f98e0" stroke-width="2.6"/><text x="3140.4" y="219.9" font-family="Liberation Serif" font-size="8.6" fill="#111" textLength="73.6" lengthAdjust="spacingAndGlyphs">Passerat de Silans 2009</text><path d="M3116.4 225.4h22" stroke="#e5774f" stroke-width="2.6"/><text x="3140.4" y="228.4" font-family="Liberation Serif" font-size="8.6" fill="#111" textLength="39.5" lengthAdjust="spacingAndGlyphs">Zheng 2023</text><path d="M3116.4 233.9h22" stroke="#319a3c" stroke-width="2.6"/><text x="3140.4" y="236.9" font-family="Liberation Serif" font-size="8.6" fill="#111" textLength="55.3" lengthAdjust="spacingAndGlyphs">Lemonnier 1965</text><path d="M3116.4 242.4h22" stroke="#222" stroke-width="1.3" stroke-dasharray="5 3"/><text x="3140.4" y="245.4" font-family="Liberation Serif" font-size="8.6" fill="#111" textLength="11.9" lengthAdjust="spacingAndGlyphs">Fit</text><clipPath id="clp2"><rect x="3306.7" y="98.5" width="270.4" height="155.8"/></clipPath><path d="M3310.4 98.5V254.3M3317.0 98.5V254.3M3322.4 98.5V254.3M3326.9 98.5V254.3M3330.9 98.5V254.3M3334.4 98.5V254.3M3358.0 98.5V254.3M3370.0 98.5V254.3M3378.6 98.5V254.3M3385.2 98.5V254.3M3390.6 98.5V254.3M3395.1 98.5V254.3M3399.1 98.5V254.3M3402.6 98.5V254.3M3426.2 98.5V254.3M3438.2 98.5V254.3M3446.8 98.5V254.3M3453.4 98.5V254.3M3458.8 98.5V254.3M3463.3 98.5V254.3M3467.3 98.5V254.3M3470.8 98.5V254.3M3494.4 98.5V254.3M3506.4 98.5V254.3M3515.0 98.5V254.3M3521.6 98.5V254.3M3527.0 98.5V254.3M3531.5 98.5V254.3M3535.5 98.5V254.3M3539.0 98.5V254.3M3562.6 98.5V254.3M3574.6 98.5V254.3M3306.7 248.8H3577.1M3306.7 243.0H3577.1M3306.7 237.2H3577.1M3306.7 231.4H3577.1M3306.7 225.6H3577.1M3306.7 219.7H3577.1M3306.7 213.9H3577.1M3306.7 208.1H3577.1M3306.7 202.3H3577.1M3306.7 196.5H3577.1M3306.7 190.6H3577.1M3306.7 184.8H3577.1M3306.7 179.0H3577.1M3306.7 173.2H3577.1M3306.7 167.4H3577.1M3306.7 161.5H3577.1M3306.7 155.7H3577.1M3306.7 149.9H3577.1M3306.7 144.1H3577.1M3306.7 138.3H3577.1M3306.7 132.4H3577.1M3306.7 126.6H3577.1M3306.7 120.8H3577.1M3306.7 115.0H3577.1M3306.7 109.2H3577.1M3306.7 103.3H3577.1" stroke="#e2e2e2" stroke-width="0.7" fill="none"/><path d="M3337.5 98.5V254.3M3405.7 98.5V254.3M3473.9 98.5V254.3M3542.1 98.5V254.3M3306.7 237.2H3577.1M3306.7 208.1H3577.1M3306.7 179.0H3577.1M3306.7 149.9H3577.1M3306.7 120.8H3577.1" stroke="#b4b4b4" stroke-width="0.9" fill="none"/><path d="M3310.4 254.3v-2.2M3310.4 98.5v2.2M3317.0 254.3v-2.2M3317.0 98.5v2.2M3322.4 254.3v-2.2M3322.4 98.5v2.2M3326.9 254.3v-2.2M3326.9 98.5v2.2M3330.9 254.3v-2.2M3330.9 98.5v2.2M3334.4 254.3v-2.2M3334.4 98.5v2.2M3337.5 254.3v-4.0M3337.5 98.5v4.0M3358.0 254.3v-2.2M3358.0 98.5v2.2M3370.0 254.3v-2.2M3370.0 98.5v2.2M3378.6 254.3v-2.2M3378.6 98.5v2.2M3385.2 254.3v-2.2M3385.2 98.5v2.2M3390.6 254.3v-2.2M3390.6 98.5v2.2M3395.1 254.3v-2.2M3395.1 98.5v2.2M3399.1 254.3v-2.2M3399.1 98.5v2.2M3402.6 254.3v-2.2M3402.6 98.5v2.2M3405.7 254.3v-4.0M3405.7 98.5v4.0M3426.2 254.3v-2.2M3426.2 98.5v2.2M3438.2 254.3v-2.2M3438.2 98.5v2.2M3446.8 254.3v-2.2M3446.8 98.5v2.2M3453.4 254.3v-2.2M3453.4 98.5v2.2M3458.8 254.3v-2.2M3458.8 98.5v2.2M3463.3 254.3v-2.2M3463.3 98.5v2.2M3467.3 254.3v-2.2M3467.3 98.5v2.2M3470.8 254.3v-2.2M3470.8 98.5v2.2M3473.9 254.3v-4.0M3473.9 98.5v4.0M3494.4 254.3v-2.2M3494.4 98.5v2.2M3506.4 254.3v-2.2M3506.4 98.5v2.2M3515.0 254.3v-2.2M3515.0 98.5v2.2M3521.6 254.3v-2.2M3521.6 98.5v2.2M3527.0 254.3v-2.2M3527.0 98.5v2.2M3531.5 254.3v-2.2M3531.5 98.5v2.2M3535.5 254.3v-2.2M3535.5 98.5v2.2M3539.0 254.3v-2.2M3539.0 98.5v2.2M3542.1 254.3v-4.0M3542.1 98.5v4.0M3562.6 254.3v-2.2M3562.6 98.5v2.2M3574.6 254.3v-2.2M3574.6 98.5v2.2M3306.7 237.2h4M3577.1 237.2h-4M3306.7 208.1h4M3577.1 208.1h-4M3306.7 179.0h4M3577.1 179.0h-4M3306.7 149.9h4M3577.1 149.9h-4M3306.7 120.8h4M3577.1 120.8h-4" stroke="#333" stroke-width="0.7" fill="none"/><rect x="3306.7" y="98.5" width="270.4" height="155.8" fill="none" stroke="#222" stroke-width="0.9"/><g font-family="Liberation Serif" font-size="10.5" fill="#111"><text x="3301.7" y="240.8" text-anchor="end">−50</text><text x="3301.7" y="211.7" text-anchor="end">−25</text><text x="3301.7" y="182.6" text-anchor="end">0</text><text x="3301.7" y="153.5" text-anchor="end">25</text><text x="3301.7" y="124.4" text-anchor="end">50</text><text x="3337.5" y="267.5" text-anchor="middle">10<tspan font-size="7.5" dy="-4.5">−3</tspan></text><text x="3405.7" y="267.5" text-anchor="middle">10<tspan font-size="7.5" dy="-4.5">−2</tspan></text><text x="3473.9" y="267.5" text-anchor="middle">10<tspan font-size="7.5" dy="-4.5">−1</tspan></text><text x="3542.1" y="267.5" text-anchor="middle">10<tspan font-size="7.5" dy="-4.5">0</tspan></text></g><text x="3441.0" y="89.5" text-anchor="middle" font-family="Liberation Serif" font-size="13.5">100°C</text><text transform="translate(3278.0 176.4) rotate(-90)" text-anchor="middle" font-family="Liberation Serif" font-size="13.3">Re <tspan font-style="italic">ϵ</tspan>(<tspan font-style="italic">ω</tspan>)</text><text x="3441.9" y="281.9" text-anchor="middle" font-family="Liberation Serif" font-size="12.5"><tspan font-style="italic">ω</tspan> [<tspan font-style="italic">E</tspan><tspan font-size="8.5" dy="3">h</tspan><tspan dy="-3">]</tspan></text><text x="3423.5" y="304.5" text-anchor="middle" font-family="Liberation Serif" font-size="16.5">(b)</text><g clip-path="url(#clp2)" fill="none" stroke-linejoin="round"><path d="M3312.9 170.8 3322.8 169.7 3326.5 168.9 3329.4 167.9 3331.8 166.6 3333.7 165.0 3335.3 163.0 3336.6 160.5 3338.4 154.1 3339.7 144.2 3340.6 129.1 3341.5 103.4 3342.6 244.0 3343.7 215.2 3344.5 204.0 3345.6 195.1 3347.2 188.6 3348.3 186.2 3349.8 184.0 3351.4 182.3 3353.5 181.0 3358.8 179.0 3366.8 177.8" stroke="#1f98e0" stroke-width="2.6"/><path d="M3435.6 176.6 3495.7 176.4" stroke="#e5774f" stroke-width="2.4"/><path d="M3512.6 175.3 3514.6 174.0 3516.0 175.8 3519.2 174.7 3520.4 176.8 3522.5 176.3 3525.0 178.1 3526.5 178.4 3536.2 177.8 3545.0 178.3 3547.9 177.6 3550.5 178.5 3567.0 178.0" stroke="#319a3c" stroke-width="2.2"/><path d="M3512.6 175.3 3514.6 174.0 3516.0 175.8 3519.2 174.7 3520.4 176.8 3522.5 176.3 3525.0 178.1 3526.5 178.4 3536.2 177.8 3545.0 178.3 3547.9 177.6 3550.5 178.5 3567.0 178.0" stroke="#222" stroke-width="0.9"/><path d="M3312.9 170.8 3322.8 169.7 3326.5 168.9 3329.4 167.9 3331.8 166.6 3333.7 165.0 3335.3 163.0 3336.6 160.5 3338.4 154.1 3339.7 144.2 3340.6 129.1 3341.5 103.4 3342.6 244.0 3344.1 208.8 3345.0 198.8 3346.1 192.4 3347.8 187.3 3350.0 183.7 3353.1 181.2 3357.3 179.4 3361.7 178.4 3367.4 177.7 3384.6 176.9 3503.0 176.3 3511.5 175.6 3513.1 175.1 3514.6 174.0 3515.9 175.7 3519.2 174.7 3520.4 176.8 3522.5 176.3 3524.8 178.0 3526.3 178.4 3536.2 177.8 3545.0 178.3 3547.9 177.6 3550.5 178.5 3569.4 178.0" stroke="#222" stroke-width="1.1" stroke-dasharray="4.5 2.8"/></g><path d="M3397.4 127.1 3419.4 126.6 3435.1 125.8 3446.1 124.5 3453.9 122.8 3459.1 120.4 3462.9 117.1 3465.5 113.1 3468.7 104.7 3469.2 103.7 3469.5 103.7 3470.1 105.5 3470.7 111.4 3472.4 145.3 3473.0 150.8 3473.6 152.6 3473.9 152.6 3474.5 151.7 3477.6 143.9 3480.2 140.1 3484.0 136.9 3488.9 134.7 3496.2 133.0 3506.6 131.8 3521.4 130.9 3541.9 130.3" fill="none" stroke="#1f98e0" stroke-width="2.4"/><path d="M3397.4 127.1 3419.4 126.6 3435.1 125.8 3446.1 124.5 3453.9 122.8 3459.1 120.4 3462.9 117.1 3465.5 113.1 3468.7 104.7 3469.2 103.7 3469.5 103.7 3470.1 105.5 3470.7 111.4 3472.4 145.3 3473.0 150.8 3473.6 152.6 3473.9 152.6 3474.5 151.7 3477.6 143.9 3480.2 140.1 3484.0 136.9 3488.9 134.7 3496.2 133.0 3506.6 131.8 3521.4 130.9 3541.9 130.3" fill="none" stroke="#222" stroke-width="1.0" stroke-dasharray="4.5 2.8"/><path d="M3393.7 101.7V157.2H3543.5" fill="none" stroke="#222" stroke-width="0.9"/><path d="M3393.7 105.7h3M3393.7 117.8h3M3393.7 130.0h3M3393.7 142.2h3M3393.7 154.3h3M3402.6 157.2v-3M3454.2 157.2v-3M3505.8 157.2v-3" stroke="#222" stroke-width="0.7"/><g font-family="Liberation Serif" font-size="8.3" fill="#111"><text x="3390.7" y="108.7" text-anchor="end">60</text><text x="3390.7" y="120.8" text-anchor="end">30</text><text x="3390.7" y="133.0" text-anchor="end">0</text><text x="3390.7" y="145.2" text-anchor="end">−30</text><text x="3390.7" y="157.3" text-anchor="end">−60</text><text x="3402.6" y="167.2" text-anchor="middle">0.0005</text><text x="3454.2" y="167.2" text-anchor="middle">0.0010</text><text x="3505.8" y="167.2" text-anchor="middle">0.0015</text></g><rect x="3464.6" y="210.6" width="103.4" height="38.1" fill="#fff" stroke="#333" stroke-width="0.8"/><path d="M3467.6 216.9h22" stroke="#1f98e0" stroke-width="2.6"/><text x="3491.6" y="219.9" font-family="Liberation Serif" font-size="8.6" fill="#111" textLength="73.4" lengthAdjust="spacingAndGlyphs">Passerat de Silans 2009</text><path d="M3467.6 225.4h22" stroke="#e5774f" stroke-width="2.6"/><text x="3491.6" y="228.4" font-family="Liberation Serif" font-size="8.6" fill="#111" textLength="39.5" lengthAdjust="spacingAndGlyphs">Zheng 2023</text><path d="M3467.6 233.9h22" stroke="#319a3c" stroke-width="2.6"/><text x="3491.6" y="236.9" font-family="Liberation Serif" font-size="8.6" fill="#111" textLength="55.3" lengthAdjust="spacingAndGlyphs">Lemonnier 1965</text><path d="M3467.6 242.4h22" stroke="#222" stroke-width="1.3" stroke-dasharray="5 3"/><text x="3491.6" y="245.4" font-family="Liberation Serif" font-size="8.6" fill="#111" textLength="11.9" lengthAdjust="spacingAndGlyphs">Fit</text><clipPath id="clp3"><rect x="2955.0" y="380.2" width="270.9" height="155.9"/></clipPath><path d="M2959.2 380.2V536.1M2965.8 380.2V536.1M2971.2 380.2V536.1M2975.7 380.2V536.1M2979.7 380.2V536.1M2983.2 380.2V536.1M3006.8 380.2V536.1M3018.8 380.2V536.1M3027.4 380.2V536.1M3034.0 380.2V536.1M3039.4 380.2V536.1M3043.9 380.2V536.1M3047.9 380.2V536.1M3051.4 380.2V536.1M3075.0 380.2V536.1M3087.0 380.2V536.1M3095.6 380.2V536.1M3102.2 380.2V536.1M3107.6 380.2V536.1M3112.1 380.2V536.1M3116.1 380.2V536.1M3119.6 380.2V536.1M3143.2 380.2V536.1M3155.2 380.2V536.1M3163.8 380.2V536.1M3170.4 380.2V536.1M3175.8 380.2V536.1M3180.3 380.2V536.1M3184.3 380.2V536.1M3187.8 380.2V536.1M3211.4 380.2V536.1M3223.4 380.2V536.1M2955.0 535.9H3225.9M2955.0 530.5H3225.9M2955.0 525.1H3225.9M2955.0 519.7H3225.9M2955.0 514.3H3225.9M2955.0 508.8H3225.9M2955.0 503.4H3225.9M2955.0 498.0H3225.9M2955.0 492.6H3225.9M2955.0 487.2H3225.9M2955.0 481.7H3225.9M2955.0 476.3H3225.9M2955.0 470.9H3225.9M2955.0 465.5H3225.9M2955.0 460.1H3225.9M2955.0 454.6H3225.9M2955.0 449.2H3225.9M2955.0 443.8H3225.9M2955.0 438.4H3225.9M2955.0 433.0H3225.9M2955.0 427.5H3225.9M2955.0 422.1H3225.9M2955.0 416.7H3225.9M2955.0 411.3H3225.9M2955.0 405.9H3225.9M2955.0 400.4H3225.9M2955.0 395.0H3225.9M2955.0 389.6H3225.9M2955.0 384.2H3225.9" stroke="#e2e2e2" stroke-width="0.7" fill="none"/><path d="M2986.3 380.2V536.1M3054.5 380.2V536.1M3122.7 380.2V536.1M3190.9 380.2V536.1M2955.0 525.1H3225.9M2955.0 498.0H3225.9M2955.0 470.9H3225.9M2955.0 443.8H3225.9M2955.0 416.7H3225.9M2955.0 389.6H3225.9" stroke="#b4b4b4" stroke-width="0.9" fill="none"/><path d="M2959.2 536.1v-2.2M2959.2 380.2v2.2M2965.8 536.1v-2.2M2965.8 380.2v2.2M2971.2 536.1v-2.2M2971.2 380.2v2.2M2975.7 536.1v-2.2M2975.7 380.2v2.2M2979.7 536.1v-2.2M2979.7 380.2v2.2M2983.2 536.1v-2.2M2983.2 380.2v2.2M2986.3 536.1v-4.0M2986.3 380.2v4.0M3006.8 536.1v-2.2M3006.8 380.2v2.2M3018.8 536.1v-2.2M3018.8 380.2v2.2M3027.4 536.1v-2.2M3027.4 380.2v2.2M3034.0 536.1v-2.2M3034.0 380.2v2.2M3039.4 536.1v-2.2M3039.4 380.2v2.2M3043.9 536.1v-2.2M3043.9 380.2v2.2M3047.9 536.1v-2.2M3047.9 380.2v2.2M3051.4 536.1v-2.2M3051.4 380.2v2.2M3054.5 536.1v-4.0M3054.5 380.2v4.0M3075.0 536.1v-2.2M3075.0 380.2v2.2M3087.0 536.1v-2.2M3087.0 380.2v2.2M3095.6 536.1v-2.2M3095.6 380.2v2.2M3102.2 536.1v-2.2M3102.2 380.2v2.2M3107.6 536.1v-2.2M3107.6 380.2v2.2M3112.1 536.1v-2.2M3112.1 380.2v2.2M3116.1 536.1v-2.2M3116.1 380.2v2.2M3119.6 536.1v-2.2M3119.6 380.2v2.2M3122.7 536.1v-4.0M3122.7 380.2v4.0M3143.2 536.1v-2.2M3143.2 380.2v2.2M3155.2 536.1v-2.2M3155.2 380.2v2.2M3163.8 536.1v-2.2M3163.8 380.2v2.2M3170.4 536.1v-2.2M3170.4 380.2v2.2M3175.8 536.1v-2.2M3175.8 380.2v2.2M3180.3 536.1v-2.2M3180.3 380.2v2.2M3184.3 536.1v-2.2M3184.3 380.2v2.2M3187.8 536.1v-2.2M3187.8 380.2v2.2M3190.9 536.1v-4.0M3190.9 380.2v4.0M3211.4 536.1v-2.2M3211.4 380.2v2.2M3223.4 536.1v-2.2M3223.4 380.2v2.2M2955.0 525.1h4M3225.9 525.1h-4M2955.0 498.0h4M3225.9 498.0h-4M2955.0 470.9h4M3225.9 470.9h-4M2955.0 443.8h4M3225.9 443.8h-4M2955.0 416.7h4M3225.9 416.7h-4M2955.0 389.6h4M3225.9 389.6h-4" stroke="#333" stroke-width="0.7" fill="none"/><rect x="2955.0" y="380.2" width="270.9" height="155.9" fill="none" stroke="#222" stroke-width="0.9"/><g font-family="Liberation Serif" font-size="10.5" fill="#111"><text x="2950.0" y="528.7" text-anchor="end">−20</text><text x="2950.0" y="501.6" text-anchor="end">−10</text><text x="2950.0" y="474.5" text-anchor="end">0</text><text x="2950.0" y="447.4" text-anchor="end">10</text><text x="2950.0" y="420.3" text-anchor="end">20</text><text x="2950.0" y="393.2" text-anchor="end">30</text><text x="2986.3" y="549.3" text-anchor="middle">10<tspan font-size="7.5" dy="-4.5">−3</tspan></text><text x="3054.5" y="549.3" text-anchor="middle">10<tspan font-size="7.5" dy="-4.5">−2</tspan></text><text x="3122.7" y="549.3" text-anchor="middle">10<tspan font-size="7.5" dy="-4.5">−1</tspan></text><text x="3190.9" y="549.3" text-anchor="middle">10<tspan font-size="7.5" dy="-4.5">0</tspan></text></g><text x="3090.0" y="370.4" text-anchor="middle" font-family="Liberation Serif" font-size="13.5">300°C</text><text transform="translate(2926.0 458.1) rotate(-90)" text-anchor="middle" font-family="Liberation Serif" font-size="13.3">Re <tspan font-style="italic">ϵ</tspan>(<tspan font-style="italic">ω</tspan>)</text><text x="3090.4" y="560.4" text-anchor="middle" font-family="Liberation Serif" font-size="12.5"><tspan font-style="italic">ω</tspan> [<tspan font-style="italic">E</tspan><tspan font-size="8.5" dy="3">h</tspan><tspan dy="-3">]</tspan></text><text x="3071.5" y="583.5" text-anchor="middle" font-family="Liberation Serif" font-size="16.5">(c)</text><g clip-path="url(#clp3)" fill="none" stroke-linejoin="round"><path d="M2961.7 450.4 2969.1 448.5 2974.4 445.8 2976.6 444.0 2978.4 441.9 2981.4 436.6 2983.6 429.6 2985.2 420.7 2988.5 387.3 2988.9 391.6 2989.2 407.5 2990.3 506.7 2991.1 528.1 2991.6 525.2 2993.1 507.7 2994.4 496.9 2996.0 488.1 2998.0 481.7 3000.8 476.6 3004.5 472.7 3009.2 469.9 3015.6 468.0" stroke="#1f98e0" stroke-width="2.6"/><path d="M3084.4 465.3 3144.5 464.9" stroke="#e5774f" stroke-width="2.4"/><path d="M3161.4 462.3 3162.3 461.3 3163.4 459.3 3163.7 459.7 3164.5 463.0 3164.8 463.4 3168.0 460.9 3169.2 465.7 3169.6 465.7 3170.7 464.5 3171.3 464.5 3173.8 468.8 3175.3 469.6 3181.5 468.4 3185.0 468.1 3187.8 468.2 3193.8 469.2 3195.1 468.8 3196.7 467.7 3198.2 469.3 3199.3 469.8 3215.8 468.6" stroke="#319a3c" stroke-width="2.2"/><path d="M3161.4 462.3 3162.3 461.3 3163.4 459.3 3163.7 459.7 3164.5 463.0 3164.8 463.4 3168.0 460.9 3169.2 465.7 3169.6 465.7 3170.7 464.5 3171.3 464.5 3173.8 468.8 3175.3 469.6 3181.5 468.4 3185.0 468.1 3187.8 468.2 3193.8 469.2 3195.1 468.8 3196.7 467.7 3198.2 469.3 3199.3 469.8 3215.8 468.6" stroke="#222" stroke-width="0.9"/><path d="M2961.7 450.4 2969.1 448.5 2974.4 445.8 2976.6 444.0 2978.4 441.9 2981.4 436.6 2983.6 429.6 2985.2 420.7 2988.5 387.3 2988.9 391.6 2989.2 407.5 2990.3 506.7 2991.1 528.1 2991.6 525.2 2993.1 507.7 2994.4 496.9 2995.8 488.9 2997.7 482.6 3000.2 477.4 3003.5 473.5 3007.9 470.5 3013.6 468.5 3018.6 467.4 3024.6 466.7 3041.3 465.7 3129.5 465.2 3149.6 464.7 3155.9 464.1 3159.7 463.2 3161.7 462.0 3163.6 459.3 3164.7 463.3 3165.4 463.2 3168.0 460.9 3169.2 465.7 3169.6 465.7 3170.7 464.5 3171.3 464.5 3173.6 468.5 3175.1 469.5 3185.0 468.1 3187.8 468.2 3193.8 469.2 3195.1 468.8 3196.7 467.7 3198.2 469.3 3199.3 469.8 3208.5 468.9 3218.2 468.5" stroke="#222" stroke-width="1.1" stroke-dasharray="4.5 2.8"/></g><path d="M3045.6 408.7 3060.7 407.8 3072.6 406.6 3081.8 405.0 3089.4 403.0 3094.9 400.7 3099.5 397.7 3103.3 394.2 3108.8 387.4 3110.2 386.6 3111.1 387.0 3111.7 387.8 3112.8 391.7 3114.0 399.1 3117.4 428.2 3118.9 434.0 3119.5 435.2 3120.3 435.9 3121.2 435.9 3122.4 435.2 3128.4 429.3 3132.8 426.1 3137.7 423.6 3143.5 421.6 3151.6 419.9 3161.5 418.5 3174.2 417.4 3190.1 416.5" fill="none" stroke="#1f98e0" stroke-width="2.4"/><path d="M3045.6 408.7 3060.7 407.8 3072.6 406.6 3081.8 405.0 3089.4 403.0 3094.9 400.7 3099.5 397.7 3103.3 394.2 3108.8 387.4 3110.2 386.6 3111.1 387.0 3111.7 387.8 3112.8 391.7 3114.0 399.1 3117.4 428.2 3118.9 434.0 3119.5 435.2 3120.3 435.9 3121.2 435.9 3122.4 435.2 3128.4 429.3 3132.8 426.1 3137.7 423.6 3143.5 421.6 3151.6 419.9 3161.5 418.5 3174.2 417.4 3190.1 416.5" fill="none" stroke="#222" stroke-width="1.0" stroke-dasharray="4.5 2.8"/><path d="M3041.7 383.5V437.7H3192.3" fill="none" stroke="#222" stroke-width="0.9"/><path d="M3041.7 387.4h3M3041.7 401.6h3M3041.7 415.9h3M3041.7 430.1h3M3050.8 437.7v-3M3102.4 437.7v-3M3154.0 437.7v-3" stroke="#222" stroke-width="0.7"/><g font-family="Liberation Serif" font-size="8.3" fill="#111"><text x="3038.7" y="390.4" text-anchor="end">30</text><text x="3038.7" y="404.6" text-anchor="end">15</text><text x="3038.7" y="418.9" text-anchor="end">0</text><text x="3038.7" y="433.1" text-anchor="end">−15</text><text x="3050.8" y="447.7" text-anchor="middle">0.0005</text><text x="3102.4" y="447.7" text-anchor="middle">0.0010</text><text x="3154.0" y="447.7" text-anchor="middle">0.0015</text></g><rect x="3114.6" y="492.8" width="102.4" height="35.2" fill="#fff" stroke="#333" stroke-width="0.8"/><path d="M3117.6 498.7h22" stroke="#1f98e0" stroke-width="2.6"/><text x="3141.6" y="501.7" font-family="Liberation Serif" font-size="8.6" fill="#111" textLength="72.4" lengthAdjust="spacingAndGlyphs">Passerat de Silans 2009</text><path d="M3117.6 506.5h22" stroke="#e5774f" stroke-width="2.6"/><text x="3141.6" y="509.5" font-family="Liberation Serif" font-size="8.6" fill="#111" textLength="39.5" lengthAdjust="spacingAndGlyphs">Zheng 2023</text><path d="M3117.6 514.3h22" stroke="#319a3c" stroke-width="2.6"/><text x="3141.6" y="517.3" font-family="Liberation Serif" font-size="8.6" fill="#111" textLength="55.3" lengthAdjust="spacingAndGlyphs">Lemonnier 1965</text><path d="M3117.6 522.1h22" stroke="#222" stroke-width="1.3" stroke-dasharray="5 3"/><text x="3141.6" y="525.1" font-family="Liberation Serif" font-size="8.6" fill="#111" textLength="11.9" lengthAdjust="spacingAndGlyphs">Fit</text><clipPath id="clp4"><rect x="3301.8" y="380.2" width="275.3" height="155.9"/></clipPath><path d="M3306.3 380.2V536.1M3313.0 380.2V536.1M3318.5 380.2V536.1M3323.1 380.2V536.1M3327.1 380.2V536.1M3330.6 380.2V536.1M3354.6 380.2V536.1M3366.7 380.2V536.1M3375.3 380.2V536.1M3382.0 380.2V536.1M3387.5 380.2V536.1M3392.1 380.2V536.1M3396.1 380.2V536.1M3399.6 380.2V536.1M3423.6 380.2V536.1M3435.7 380.2V536.1M3444.3 380.2V536.1M3451.0 380.2V536.1M3456.5 380.2V536.1M3461.1 380.2V536.1M3465.1 380.2V536.1M3468.6 380.2V536.1M3492.6 380.2V536.1M3504.7 380.2V536.1M3513.3 380.2V536.1M3520.0 380.2V536.1M3525.5 380.2V536.1M3530.1 380.2V536.1M3534.1 380.2V536.1M3537.6 380.2V536.1M3561.6 380.2V536.1M3573.7 380.2V536.1M3301.8 534.1H3577.1M3301.8 527.5H3577.1M3301.8 521.0H3577.1M3301.8 514.5H3577.1M3301.8 507.9H3577.1M3301.8 501.4H3577.1M3301.8 494.8H3577.1M3301.8 488.3H3577.1M3301.8 481.8H3577.1M3301.8 475.2H3577.1M3301.8 468.7H3577.1M3301.8 462.1H3577.1M3301.8 455.6H3577.1M3301.8 449.1H3577.1M3301.8 442.5H3577.1M3301.8 436.0H3577.1M3301.8 429.4H3577.1M3301.8 422.9H3577.1M3301.8 416.4H3577.1M3301.8 409.8H3577.1M3301.8 403.3H3577.1M3301.8 396.7H3577.1M3301.8 390.2H3577.1M3301.8 383.7H3577.1" stroke="#e2e2e2" stroke-width="0.7" fill="none"/><path d="M3333.8 380.2V536.1M3402.8 380.2V536.1M3471.8 380.2V536.1M3540.8 380.2V536.1M3301.8 521.0H3577.1M3301.8 488.3H3577.1M3301.8 455.6H3577.1M3301.8 422.9H3577.1M3301.8 390.2H3577.1" stroke="#b4b4b4" stroke-width="0.9" fill="none"/><path d="M3306.3 536.1v-2.2M3306.3 380.2v2.2M3313.0 536.1v-2.2M3313.0 380.2v2.2M3318.5 536.1v-2.2M3318.5 380.2v2.2M3323.1 536.1v-2.2M3323.1 380.2v2.2M3327.1 536.1v-2.2M3327.1 380.2v2.2M3330.6 536.1v-2.2M3330.6 380.2v2.2M3333.8 536.1v-4.0M3333.8 380.2v4.0M3354.6 536.1v-2.2M3354.6 380.2v2.2M3366.7 536.1v-2.2M3366.7 380.2v2.2M3375.3 536.1v-2.2M3375.3 380.2v2.2M3382.0 536.1v-2.2M3382.0 380.2v2.2M3387.5 536.1v-2.2M3387.5 380.2v2.2M3392.1 536.1v-2.2M3392.1 380.2v2.2M3396.1 536.1v-2.2M3396.1 380.2v2.2M3399.6 536.1v-2.2M3399.6 380.2v2.2M3402.8 536.1v-4.0M3402.8 380.2v4.0M3423.6 536.1v-2.2M3423.6 380.2v2.2M3435.7 536.1v-2.2M3435.7 380.2v2.2M3444.3 536.1v-2.2M3444.3 380.2v2.2M3451.0 536.1v-2.2M3451.0 380.2v2.2M3456.5 536.1v-2.2M3456.5 380.2v2.2M3461.1 536.1v-2.2M3461.1 380.2v2.2M3465.1 536.1v-2.2M3465.1 380.2v2.2M3468.6 536.1v-2.2M3468.6 380.2v2.2M3471.8 536.1v-4.0M3471.8 380.2v4.0M3492.6 536.1v-2.2M3492.6 380.2v2.2M3504.7 536.1v-2.2M3504.7 380.2v2.2M3513.3 536.1v-2.2M3513.3 380.2v2.2M3520.0 536.1v-2.2M3520.0 380.2v2.2M3525.5 536.1v-2.2M3525.5 380.2v2.2M3530.1 536.1v-2.2M3530.1 380.2v2.2M3534.1 536.1v-2.2M3534.1 380.2v2.2M3537.6 536.1v-2.2M3537.6 380.2v2.2M3540.8 536.1v-4.0M3540.8 380.2v4.0M3561.6 536.1v-2.2M3561.6 380.2v2.2M3573.7 536.1v-2.2M3573.7 380.2v2.2M3301.8 521.0h4M3577.1 521.0h-4M3301.8 488.3h4M3577.1 488.3h-4M3301.8 455.6h4M3577.1 455.6h-4M3301.8 422.9h4M3577.1 422.9h-4M3301.8 390.2h4M3577.1 390.2h-4" stroke="#333" stroke-width="0.7" fill="none"/><rect x="3301.8" y="380.2" width="275.3" height="155.9" fill="none" stroke="#222" stroke-width="0.9"/><g font-family="Liberation Serif" font-size="10.5" fill="#111"><text x="3296.8" y="524.6" text-anchor="end">−5</text><text x="3296.8" y="491.9" text-anchor="end">0</text><text x="3296.8" y="459.2" text-anchor="end">5</text><text x="3296.8" y="426.5" text-anchor="end">10</text><text x="3296.8" y="393.8" text-anchor="end">15</text><text x="3333.8" y="549.3" text-anchor="middle">10<tspan font-size="7.5" dy="-4.5">−3</tspan></text><text x="3402.8" y="549.3" text-anchor="middle">10<tspan font-size="7.5" dy="-4.5">−2</tspan></text><text x="3471.8" y="549.3" text-anchor="middle">10<tspan font-size="7.5" dy="-4.5">−1</tspan></text><text x="3540.8" y="549.3" text-anchor="middle">10<tspan font-size="7.5" dy="-4.5">0</tspan></text></g><text x="3441.0" y="370.4" text-anchor="middle" font-family="Liberation Serif" font-size="13.5">500°C</text><text transform="translate(3279.0 458.1) rotate(-90)" text-anchor="middle" font-family="Liberation Serif" font-size="13.3">Re <tspan font-style="italic">ϵ</tspan>(<tspan font-style="italic">ω</tspan>)</text><text x="3439.4" y="560.4" text-anchor="middle" font-family="Liberation Serif" font-size="12.5"><tspan font-style="italic">ω</tspan> [<tspan font-style="italic">E</tspan><tspan font-size="8.5" dy="3">h</tspan><tspan dy="-3">]</tspan></text><text x="3423.5" y="583.5" text-anchor="middle" font-family="Liberation Serif" font-size="16.5">(d)</text><g clip-path="url(#clp4)" fill="none" stroke-linejoin="round"><path d="M3309.0 432.9 3312.9 430.6 3316.2 427.8 3319.2 424.4 3321.8 420.4 3324.2 415.3 3326.2 409.7 3331.4 390.3 3332.1 388.8 3332.5 388.8 3332.9 389.4 3334.0 397.8 3334.9 415.9 3337.9 514.0 3338.8 528.4 3339.7 532.9 3340.3 532.6 3341.0 530.5 3346.2 507.1 3348.1 501.3 3350.1 496.3 3352.7 491.6 3355.9 487.4 3359.4 484.2 3363.5 481.6" stroke="#1f98e0" stroke-width="2.6"/><path d="M3433.0 474.9 3474.6 474.6 3493.9 473.8" stroke="#e5774f" stroke-width="2.4"/><path d="M3510.9 467.5 3511.8 465.1 3513.0 460.2 3513.3 461.3 3514.1 469.3 3514.4 470.2 3515.2 469.4 3517.0 464.7 3517.6 464.1 3518.9 475.7 3519.1 475.9 3519.3 475.6 3520.4 472.8 3520.9 472.9 3523.5 483.1 3524.3 484.6 3525.0 485.1 3526.1 484.9 3531.3 482.3 3534.8 481.6 3537.6 481.9 3542.1 484.0 3543.7 484.2 3545.0 483.3 3546.7 480.5 3547.1 480.9 3548.2 484.6 3549.3 485.5 3557.8 483.7 3566.0 482.7" stroke="#319a3c" stroke-width="2.2"/><path d="M3510.9 467.5 3511.8 465.1 3513.0 460.2 3513.3 461.3 3514.1 469.3 3514.4 470.2 3515.2 469.4 3517.0 464.7 3517.6 464.1 3518.9 475.7 3519.1 475.9 3519.3 475.6 3520.4 472.8 3520.9 472.9 3523.5 483.1 3524.3 484.6 3525.0 485.1 3526.1 484.9 3531.3 482.3 3534.8 481.6 3537.6 481.9 3542.1 484.0 3543.7 484.2 3545.0 483.3 3546.7 480.5 3547.1 480.9 3548.2 484.6 3549.3 485.5 3557.8 483.7 3566.0 482.7" stroke="#222" stroke-width="0.9"/><path d="M3309.0 432.9 3312.9 430.6 3316.2 427.8 3319.2 424.4 3321.8 420.4 3324.2 415.3 3326.2 409.7 3331.4 390.3 3332.1 388.8 3332.5 388.8 3332.9 389.4 3333.8 395.5 3334.7 411.3 3338.1 517.9 3339.0 529.9 3339.4 532.0 3339.9 533.0 3340.5 532.3 3341.2 529.7 3344.6 513.8 3346.8 505.2 3349.4 498.0 3352.4 492.1 3356.2 487.0 3361.1 483.0 3366.8 480.1 3374.1 477.9 3384.6 476.3 3399.1 475.4 3476.4 474.6 3489.2 474.1 3497.9 473.4 3504.8 472.0 3507.2 471.0 3509.1 469.8 3510.4 468.4 3511.3 466.7 3513.1 460.2 3514.2 470.0 3514.6 470.2 3515.0 469.7 3517.0 464.7 3517.6 464.1 3518.9 475.7 3519.1 475.9 3519.3 475.6 3520.4 472.8 3520.9 472.9 3521.7 475.0 3523.3 482.6 3524.1 484.3 3524.8 485.0 3526.1 484.9 3531.5 482.3 3534.8 481.6 3537.6 481.9 3542.1 484.0 3543.7 484.2 3545.0 483.3 3546.7 480.5 3547.1 480.9 3548.2 484.6 3549.3 485.5 3558.6 483.5 3568.4 482.6" stroke="#222" stroke-width="1.1" stroke-dasharray="4.5 2.8"/></g><path d="M3393.4 402.7 3405.4 400.9 3415.9 398.5 3426.7 394.8 3442.4 387.6 3445.6 387.0 3448.3 387.6 3450.0 388.8 3451.5 390.5 3454.4 396.3 3457.0 404.2 3462.6 423.6 3465.8 431.9 3467.5 434.9 3469.3 437.0 3471.0 438.1 3473.1 438.8 3475.4 438.8 3478.3 438.2 3494.9 432.1 3507.2 428.9 3521.5 426.3 3539.0 424.3" fill="none" stroke="#1f98e0" stroke-width="2.4"/><path d="M3393.4 402.7 3405.4 400.9 3415.9 398.5 3426.7 394.8 3442.4 387.6 3445.6 387.0 3448.3 387.6 3450.0 388.8 3451.5 390.5 3454.4 396.3 3457.0 404.2 3462.6 423.6 3465.8 431.9 3467.5 434.9 3469.3 437.0 3471.0 438.1 3473.1 438.8 3475.4 438.8 3478.3 438.2 3494.9 432.1 3507.2 428.9 3521.5 426.3 3539.0 424.3" fill="none" stroke="#222" stroke-width="1.0" stroke-dasharray="4.5 2.8"/><path d="M3389.7 384.3V437.7H3543.5" fill="none" stroke="#222" stroke-width="0.9"/><path d="M3389.7 399.3h3M3389.7 411.1h3M3389.7 422.8h3M3389.7 434.6h3M3398.6 437.7v-3M3450.6 437.7v-3M3502.6 437.7v-3" stroke="#222" stroke-width="0.7"/><g font-family="Liberation Serif" font-size="8.3" fill="#111"><text x="3386.7" y="402.3" text-anchor="end">10</text><text x="3386.7" y="414.1" text-anchor="end">5</text><text x="3386.7" y="425.8" text-anchor="end">0</text><text x="3386.7" y="437.6" text-anchor="end">−5</text><text x="3398.6" y="447.7" text-anchor="middle">0.0005</text><text x="3450.6" y="447.7" text-anchor="middle">0.0010</text><text x="3502.6" y="447.7" text-anchor="middle">0.0015</text></g><rect x="3464.6" y="492.8" width="102.4" height="35.2" fill="#fff" stroke="#333" stroke-width="0.8"/><path d="M3467.6 498.7h22" stroke="#1f98e0" stroke-width="2.6"/><text x="3491.6" y="501.7" font-family="Liberation Serif" font-size="8.6" fill="#111" textLength="72.4" lengthAdjust="spacingAndGlyphs">Passerat de Silans 2009</text><path d="M3467.6 506.5h22" stroke="#e5774f" stroke-width="2.6"/><text x="3491.6" y="509.5" font-family="Liberation Serif" font-size="8.6" fill="#111" textLength="39.5" lengthAdjust="spacingAndGlyphs">Zheng 2023</text><path d="M3467.6 514.3h22" stroke="#319a3c" stroke-width="2.6"/><text x="3491.6" y="517.3" font-family="Liberation Serif" font-size="8.6" fill="#111" textLength="55.3" lengthAdjust="spacingAndGlyphs">Lemonnier 1965</text><path d="M3467.6 522.1h22" stroke="#222" stroke-width="1.3" stroke-dasharray="5 3"/><text x="3491.6" y="525.1" font-family="Liberation Serif" font-size="8.6" fill="#111" textLength="11.9" lengthAdjust="spacingAndGlyphs">Fit</text></svg>
<svg style="position:absolute;left:3790px;top:70px" width="760" height="530" viewBox="3790 70 760 530"><clipPath id="clp5"><rect x="3879.5" y="98.5" width="270.5" height="155.0"/></clipPath><path d="M3886.9 98.5V253.5M3893.5 98.5V253.5M3898.8 98.5V253.5M3903.4 98.5V253.5M3907.3 98.5V253.5M3910.8 98.5V253.5M3934.3 98.5V253.5M3946.3 98.5V253.5M3954.8 98.5V253.5M3961.4 98.5V253.5M3966.7 98.5V253.5M3971.3 98.5V253.5M3975.2 98.5V253.5M3978.7 98.5V253.5M4002.2 98.5V253.5M4014.2 98.5V253.5M4022.7 98.5V253.5M4029.3 98.5V253.5M4034.6 98.5V253.5M4039.2 98.5V253.5M4043.1 98.5V253.5M4046.6 98.5V253.5M4070.1 98.5V253.5M4082.1 98.5V253.5M4090.6 98.5V253.5M4097.2 98.5V253.5M4102.5 98.5V253.5M4107.1 98.5V253.5M4111.0 98.5V253.5M4114.5 98.5V253.5M4138.0 98.5V253.5M4150.0 98.5V253.5M3879.5 247.0H4150.0M3879.5 238.6H4150.0M3879.5 230.2H4150.0M3879.5 221.9H4150.0M3879.5 213.5H4150.0M3879.5 205.1H4150.0M3879.5 196.7H4150.0M3879.5 188.3H4150.0M3879.5 180.0H4150.0M3879.5 171.6H4150.0M3879.5 163.2H4150.0M3879.5 154.8H4150.0M3879.5 146.4H4150.0M3879.5 138.1H4150.0M3879.5 129.7H4150.0M3879.5 121.3H4150.0M3879.5 112.9H4150.0M3879.5 104.5H4150.0" stroke="#e2e2e2" stroke-width="0.7" fill="none"/><path d="M3913.9 98.5V253.5M3981.8 98.5V253.5M4049.7 98.5V253.5M4117.6 98.5V253.5M3879.5 247.0H4150.0M3879.5 205.1H4150.0M3879.5 163.2H4150.0M3879.5 121.3H4150.0" stroke="#b4b4b4" stroke-width="0.9" fill="none"/><path d="M3886.9 253.5v-2.2M3886.9 98.5v2.2M3893.5 253.5v-2.2M3893.5 98.5v2.2M3898.8 253.5v-2.2M3898.8 98.5v2.2M3903.4 253.5v-2.2M3903.4 98.5v2.2M3907.3 253.5v-2.2M3907.3 98.5v2.2M3910.8 253.5v-2.2M3910.8 98.5v2.2M3913.9 253.5v-4.0M3913.9 98.5v4.0M3934.3 253.5v-2.2M3934.3 98.5v2.2M3946.3 253.5v-2.2M3946.3 98.5v2.2M3954.8 253.5v-2.2M3954.8 98.5v2.2M3961.4 253.5v-2.2M3961.4 98.5v2.2M3966.7 253.5v-2.2M3966.7 98.5v2.2M3971.3 253.5v-2.2M3971.3 98.5v2.2M3975.2 253.5v-2.2M3975.2 98.5v2.2M3978.7 253.5v-2.2M3978.7 98.5v2.2M3981.8 253.5v-4.0M3981.8 98.5v4.0M4002.2 253.5v-2.2M4002.2 98.5v2.2M4014.2 253.5v-2.2M4014.2 98.5v2.2M4022.7 253.5v-2.2M4022.7 98.5v2.2M4029.3 253.5v-2.2M4029.3 98.5v2.2M4034.6 253.5v-2.2M4034.6 98.5v2.2M4039.2 253.5v-2.2M4039.2 98.5v2.2M4043.1 253.5v-2.2M4043.1 98.5v2.2M4046.6 253.5v-2.2M4046.6 98.5v2.2M4049.7 253.5v-4.0M4049.7 98.5v4.0M4070.1 253.5v-2.2M4070.1 98.5v2.2M4082.1 253.5v-2.2M4082.1 98.5v2.2M4090.6 253.5v-2.2M4090.6 98.5v2.2M4097.2 253.5v-2.2M4097.2 98.5v2.2M4102.5 253.5v-2.2M4102.5 98.5v2.2M4107.1 253.5v-2.2M4107.1 98.5v2.2M4111.0 253.5v-2.2M4111.0 98.5v2.2M4114.5 253.5v-2.2M4114.5 98.5v2.2M4117.6 253.5v-4.0M4117.6 98.5v4.0M4138.0 253.5v-2.2M4138.0 98.5v2.2M4150.0 253.5v-2.2M4150.0 98.5v2.2M3879.5 247.0h4M4150.0 247.0h-4M3879.5 205.1h4M4150.0 205.1h-4M3879.5 163.2h4M4150.0 163.2h-4M3879.5 121.3h4M4150.0 121.3h-4" stroke="#333" stroke-width="0.7" fill="none"/><rect x="3879.5" y="98.5" width="270.5" height="155.0" fill="none" stroke="#222" stroke-width="0.9"/><g font-family="Liberation Serif" font-size="10.5" fill="#111"><text x="3874.5" y="250.6" text-anchor="end">0</text><text x="3874.5" y="208.7" text-anchor="end">50</text><text x="3874.5" y="166.8" text-anchor="end">100</text><text x="3874.5" y="124.9" text-anchor="end">150</text><text x="3913.9" y="266.7" text-anchor="middle">10<tspan font-size="7.5" dy="-4.5">−3</tspan></text><text x="3981.8" y="266.7" text-anchor="middle">10<tspan font-size="7.5" dy="-4.5">−2</tspan></text><text x="4049.7" y="266.7" text-anchor="middle">10<tspan font-size="7.5" dy="-4.5">−1</tspan></text><text x="4117.6" y="266.7" text-anchor="middle">10<tspan font-size="7.5" dy="-4.5">0</tspan></text></g><text x="4016.4" y="89.5" text-anchor="middle" font-family="Liberation Serif" font-size="13.5">22°C</text><text transform="translate(3853.0 176.0) rotate(-90)" text-anchor="middle" font-family="Liberation Serif" font-size="13.3">Im <tspan font-style="italic">ϵ</tspan>(<tspan font-style="italic">ω</tspan>)</text><text x="4014.8" y="281.9" text-anchor="middle" font-family="Liberation Serif" font-size="12.5"><tspan font-style="italic">ω</tspan> [<tspan font-style="italic">E</tspan><tspan font-size="8.5" dy="3">h</tspan><tspan dy="-3">]</tspan></text><text x="3999.5" y="304.5" text-anchor="middle" font-family="Liberation Serif" font-size="16.5">(a)</text><g clip-path="url(#clp5)" fill="none" stroke-linejoin="round"><path d="M3889.5 247.0 3906.4 246.8 3912.6 246.4 3914.3 246.0 3915.4 245.3 3916.3 243.9 3916.8 242.2 3917.6 236.1 3918.1 219.6 3918.8 107.4 3919.6 215.1 3919.9 231.5 3920.7 241.3 3921.8 244.8 3922.7 245.8 3924.1 246.4 3929.1 246.9 3943.1 247.0" stroke="#1f98e0" stroke-width="2.6"/><path d="M4088.2 247.0 4089.6 246.8 4090.9 245.4 4092.2 246.2 4093.7 246.0 4095.5 244.4 4096.6 245.2 4099.7 244.6 4102.8 245.7 4106.8 246.3 4117.4 246.1 4122.5 246.7 4124.1 246.2 4125.8 246.2 4130.9 247.0 4138.4 246.7 4142.4 247.0" stroke="#e5774f" stroke-width="2.4"/><path d="M3889.5 247.0 3906.4 246.8 3912.6 246.4 3914.3 246.0 3915.4 245.3 3916.3 243.9 3916.8 242.2 3917.6 236.1 3918.1 219.6 3918.8 107.4 3919.7 225.3 3920.1 235.4 3920.7 241.3 3921.4 244.1 3922.9 245.9 3926.3 246.7 3935.4 247.0 4087.5 247.0 4089.6 246.8 4090.9 245.3 4092.2 246.0 4093.7 245.9 4095.5 244.4 4096.8 245.4 4099.5 244.6 4103.2 245.8 4106.8 246.2 4117.0 246.3 4122.3 246.7 4124.3 246.1 4129.8 246.8 4144.8 247.0" stroke="#222" stroke-width="1.1" stroke-dasharray="4.5 2.8"/></g><path d="M3943.4 200.9 4001.3 200.6 4009.2 199.9 4011.6 199.3 4013.3 198.5 4014.8 197.1 4016.0 194.9 4017.5 188.9 4018.6 176.8 4019.8 154.6 4020.1 151.1 4020.4 150.8 4022.2 180.1 4023.0 188.5 4024.5 194.7 4025.7 196.9 4027.2 198.3 4028.9 199.2 4031.3 199.9 4038.6 200.5 4090.1 200.9" fill="none" stroke="#1f98e0" stroke-width="2.4"/><path d="M3943.4 200.9 4001.3 200.6 4009.2 199.9 4011.6 199.3 4013.3 198.5 4014.8 197.1 4016.0 194.9 4017.5 188.9 4018.6 176.8 4019.8 154.6 4020.1 151.1 4020.4 150.8 4022.2 180.1 4023.0 188.5 4024.5 194.7 4025.7 196.9 4027.2 198.3 4028.9 199.2 4031.3 199.9 4038.6 200.5 4090.1 200.9" fill="none" stroke="#222" stroke-width="1.0" stroke-dasharray="4.5 2.8"/><path d="M3939.4 148.3V203.7H4091.3" fill="none" stroke="#222" stroke-width="0.9"/><path d="M3939.4 153.1h3M3939.4 177.0h3M3939.4 200.9h3M3948.6 203.7v-3M4001.0 203.7v-3M4053.4 203.7v-3" stroke="#222" stroke-width="0.7"/><g font-family="Liberation Serif" font-size="8.3" fill="#111"><text x="3936.4" y="156.1" text-anchor="end">160</text><text x="3936.4" y="180.0" text-anchor="end">80</text><text x="3936.4" y="203.9" text-anchor="end">0</text><text x="3948.6" y="213.7" text-anchor="middle">0.0005</text><text x="4001.0" y="213.7" text-anchor="middle">0.0010</text><text x="4053.4" y="213.7" text-anchor="middle">0.0015</text></g><rect x="4040.6" y="103.7" width="103.3" height="30.4" fill="#fff" stroke="#333" stroke-width="0.8"/><path d="M4043.6 110.1h22" stroke="#1f98e0" stroke-width="2.6"/><text x="4067.6" y="113.1" font-family="Liberation Serif" font-size="8.6" fill="#111" textLength="73.3" lengthAdjust="spacingAndGlyphs">Passerat de Silans 2009</text><path d="M4043.6 118.9h22" stroke="#e5774f" stroke-width="2.6"/><text x="4067.6" y="121.9" font-family="Liberation Serif" font-size="8.6" fill="#111" textLength="55.3" lengthAdjust="spacingAndGlyphs">Lemonnier 1965</text><path d="M4043.6 127.7h22" stroke="#222" stroke-width="1.3" stroke-dasharray="5 3"/><text x="4067.6" y="130.7" font-family="Liberation Serif" font-size="8.6" fill="#111" textLength="11.9" lengthAdjust="spacingAndGlyphs">Fit</text><clipPath id="clp6"><rect x="4230.7" y="98.5" width="270.5" height="155.0"/></clipPath><path d="M4238.1 98.5V253.5M4244.7 98.5V253.5M4250.0 98.5V253.5M4254.6 98.5V253.5M4258.5 98.5V253.5M4262.0 98.5V253.5M4285.5 98.5V253.5M4297.5 98.5V253.5M4306.0 98.5V253.5M4312.6 98.5V253.5M4317.9 98.5V253.5M4322.5 98.5V253.5M4326.4 98.5V253.5M4329.9 98.5V253.5M4353.4 98.5V253.5M4365.4 98.5V253.5M4373.9 98.5V253.5M4380.5 98.5V253.5M4385.8 98.5V253.5M4390.4 98.5V253.5M4394.3 98.5V253.5M4397.8 98.5V253.5M4421.3 98.5V253.5M4433.3 98.5V253.5M4441.8 98.5V253.5M4448.4 98.5V253.5M4453.7 98.5V253.5M4458.3 98.5V253.5M4462.2 98.5V253.5M4465.7 98.5V253.5M4489.2 98.5V253.5M4501.2 98.5V253.5M4230.7 252.8H4501.2M4230.7 247.0H4501.2M4230.7 241.2H4501.2M4230.7 235.3H4501.2M4230.7 229.4H4501.2M4230.7 223.6H4501.2M4230.7 217.8H4501.2M4230.7 211.9H4501.2M4230.7 206.1H4501.2M4230.7 200.2H4501.2M4230.7 194.3H4501.2M4230.7 188.5H4501.2M4230.7 182.7H4501.2M4230.7 176.8H4501.2M4230.7 170.9H4501.2M4230.7 165.1H4501.2M4230.7 159.2H4501.2M4230.7 153.4H4501.2M4230.7 147.6H4501.2M4230.7 141.7H4501.2M4230.7 135.9H4501.2M4230.7 130.0H4501.2M4230.7 124.2H4501.2M4230.7 118.3H4501.2M4230.7 112.5H4501.2M4230.7 106.6H4501.2M4230.7 100.8H4501.2" stroke="#e2e2e2" stroke-width="0.7" fill="none"/><path d="M4265.1 98.5V253.5M4333.0 98.5V253.5M4400.9 98.5V253.5M4468.8 98.5V253.5M4230.7 247.0H4501.2M4230.7 223.6H4501.2M4230.7 200.2H4501.2M4230.7 176.8H4501.2M4230.7 153.4H4501.2M4230.7 130.0H4501.2M4230.7 106.6H4501.2" stroke="#b4b4b4" stroke-width="0.9" fill="none"/><path d="M4238.1 253.5v-2.2M4238.1 98.5v2.2M4244.7 253.5v-2.2M4244.7 98.5v2.2M4250.0 253.5v-2.2M4250.0 98.5v2.2M4254.6 253.5v-2.2M4254.6 98.5v2.2M4258.5 253.5v-2.2M4258.5 98.5v2.2M4262.0 253.5v-2.2M4262.0 98.5v2.2M4265.1 253.5v-4.0M4265.1 98.5v4.0M4285.5 253.5v-2.2M4285.5 98.5v2.2M4297.5 253.5v-2.2M4297.5 98.5v2.2M4306.0 253.5v-2.2M4306.0 98.5v2.2M4312.6 253.5v-2.2M4312.6 98.5v2.2M4317.9 253.5v-2.2M4317.9 98.5v2.2M4322.5 253.5v-2.2M4322.5 98.5v2.2M4326.4 253.5v-2.2M4326.4 98.5v2.2M4329.9 253.5v-2.2M4329.9 98.5v2.2M4333.0 253.5v-4.0M4333.0 98.5v4.0M4353.4 253.5v-2.2M4353.4 98.5v2.2M4365.4 253.5v-2.2M4365.4 98.5v2.2M4373.9 253.5v-2.2M4373.9 98.5v2.2M4380.5 253.5v-2.2M4380.5 98.5v2.2M4385.8 253.5v-2.2M4385.8 98.5v2.2M4390.4 253.5v-2.2M4390.4 98.5v2.2M4394.3 253.5v-2.2M4394.3 98.5v2.2M4397.8 253.5v-2.2M4397.8 98.5v2.2M4400.9 253.5v-4.0M4400.9 98.5v4.0M4421.3 253.5v-2.2M4421.3 98.5v2.2M4433.3 253.5v-2.2M4433.3 98.5v2.2M4441.8 253.5v-2.2M4441.8 98.5v2.2M4448.4 253.5v-2.2M4448.4 98.5v2.2M4453.7 253.5v-2.2M4453.7 98.5v2.2M4458.3 253.5v-2.2M4458.3 98.5v2.2M4462.2 253.5v-2.2M4462.2 98.5v2.2M4465.7 253.5v-2.2M4465.7 98.5v2.2M4468.8 253.5v-4.0M4468.8 98.5v4.0M4489.2 253.5v-2.2M4489.2 98.5v2.2M4501.2 253.5v-2.2M4501.2 98.5v2.2M4230.7 247.0h4M4501.2 247.0h-4M4230.7 223.6h4M4501.2 223.6h-4M4230.7 200.2h4M4501.2 200.2h-4M4230.7 176.8h4M4501.2 176.8h-4M4230.7 153.4h4M4501.2 153.4h-4M4230.7 130.0h4M4501.2 130.0h-4M4230.7 106.6h4M4501.2 106.6h-4" stroke="#333" stroke-width="0.7" fill="none"/><rect x="4230.7" y="98.5" width="270.5" height="155.0" fill="none" stroke="#222" stroke-width="0.9"/><g font-family="Liberation Serif" font-size="10.5" fill="#111"><text x="4225.7" y="250.6" text-anchor="end">0</text><text x="4225.7" y="227.2" text-anchor="end">20</text><text x="4225.7" y="203.8" text-anchor="end">40</text><text x="4225.7" y="180.4" text-anchor="end">60</text><text x="4225.7" y="157.0" text-anchor="end">80</text><text x="4225.7" y="133.6" text-anchor="end">100</text><text x="4225.7" y="110.2" text-anchor="end">120</text><text x="4265.1" y="266.7" text-anchor="middle">10<tspan font-size="7.5" dy="-4.5">−3</tspan></text><text x="4333.0" y="266.7" text-anchor="middle">10<tspan font-size="7.5" dy="-4.5">−2</tspan></text><text x="4400.9" y="266.7" text-anchor="middle">10<tspan font-size="7.5" dy="-4.5">−1</tspan></text><text x="4468.8" y="266.7" text-anchor="middle">10<tspan font-size="7.5" dy="-4.5">0</tspan></text></g><text x="4370.4" y="89.5" text-anchor="middle" font-family="Liberation Serif" font-size="13.5">100°C</text><text transform="translate(4204.0 176.0) rotate(-90)" text-anchor="middle" font-family="Liberation Serif" font-size="13.3">Im <tspan font-style="italic">ϵ</tspan>(<tspan font-style="italic">ω</tspan>)</text><text x="4365.9" y="281.9" text-anchor="middle" font-family="Liberation Serif" font-size="12.5"><tspan font-style="italic">ω</tspan> [<tspan font-style="italic">E</tspan><tspan font-size="8.5" dy="3">h</tspan><tspan dy="-3">]</tspan></text><text x="4350.9" y="304.5" text-anchor="middle" font-family="Liberation Serif" font-size="16.5">(b)</text><g clip-path="url(#clp6)" fill="none" stroke-linejoin="round"><path d="M4240.7 247.0 4256.9 246.8 4262.9 246.2 4264.6 245.6 4265.8 244.5 4266.8 242.7 4267.3 240.6 4268.2 231.1 4268.8 212.4 4269.7 105.6 4270.6 210.7 4271.1 230.2 4272.0 240.1 4272.6 242.3 4273.5 244.2 4274.6 245.3 4276.1 246.0 4281.4 246.7 4294.3 246.9" stroke="#1f98e0" stroke-width="2.6"/><path d="M4439.4 246.9 4441.0 246.4 4442.1 244.6 4444.1 245.9 4444.9 245.8 4446.7 243.5 4448.1 244.6 4449.8 243.9 4451.2 243.7 4454.4 245.4 4456.7 246.0 4461.5 245.9 4463.7 246.1 4465.5 245.8 4469.3 245.9 4471.1 246.5 4473.7 246.7 4475.9 245.8 4480.8 246.9 4481.9 246.7 4484.8 247.0 4487.0 246.7 4490.5 247.1 4493.6 247.0" stroke="#e5774f" stroke-width="2.4"/><path d="M4240.7 247.0 4256.9 246.8 4262.9 246.2 4264.6 245.6 4265.8 244.5 4266.8 242.7 4267.3 240.6 4268.2 231.1 4268.8 212.4 4269.7 105.6 4270.4 197.3 4270.9 225.8 4271.3 233.4 4272.0 240.1 4273.1 243.6 4274.8 245.4 4276.6 246.1 4279.3 246.5 4290.8 246.9 4438.7 247.0 4440.8 246.7 4442.1 244.7 4443.4 245.6 4444.9 245.5 4446.7 243.4 4448.0 244.7 4450.7 243.7 4454.4 245.3 4458.0 245.9 4468.2 246.0 4473.5 246.6 4475.5 245.8 4478.1 246.4 4481.0 246.7 4496.0 247.0" stroke="#222" stroke-width="1.1" stroke-dasharray="4.5 2.8"/></g><path d="M4294.2 200.9 4348.3 200.5 4356.5 199.8 4359.2 199.1 4361.2 198.1 4363.0 196.5 4364.2 194.7 4365.4 191.5 4366.3 187.6 4367.4 178.3 4369.2 155.1 4369.8 152.0 4370.4 155.4 4372.2 178.0 4373.3 187.0 4374.2 190.9 4375.4 194.1 4376.6 195.9 4378.4 197.6 4380.4 198.7 4383.1 199.4 4391.3 200.3 4407.3 200.7 4441.5 200.8" fill="none" stroke="#1f98e0" stroke-width="2.4"/><path d="M4294.2 200.9 4348.3 200.5 4356.5 199.8 4359.2 199.1 4361.2 198.1 4363.0 196.5 4364.2 194.7 4365.4 191.5 4366.3 187.6 4367.4 178.3 4369.2 155.1 4369.8 152.0 4370.4 155.4 4372.2 178.0 4373.3 187.0 4374.2 190.9 4375.4 194.1 4376.6 195.9 4378.4 197.6 4380.4 198.7 4383.1 199.4 4391.3 200.3 4407.3 200.7 4441.5 200.8" fill="none" stroke="#222" stroke-width="1.0" stroke-dasharray="4.5 2.8"/><path d="M4290.2 148.3V203.7H4443.3" fill="none" stroke="#222" stroke-width="0.9"/><path d="M4290.2 152.3h3M4290.2 176.6h3M4290.2 200.9h3M4299.5 203.7v-3M4352.1 203.7v-3M4404.7 203.7v-3" stroke="#222" stroke-width="0.7"/><g font-family="Liberation Serif" font-size="8.3" fill="#111"><text x="4287.2" y="155.3" text-anchor="end">120</text><text x="4287.2" y="179.6" text-anchor="end">60</text><text x="4287.2" y="203.9" text-anchor="end">0</text><text x="4299.5" y="213.7" text-anchor="middle">0.0005</text><text x="4352.1" y="213.7" text-anchor="middle">0.0010</text><text x="4404.7" y="213.7" text-anchor="middle">0.0015</text></g><rect x="4391.9" y="103.7" width="103.2" height="30.4" fill="#fff" stroke="#333" stroke-width="0.8"/><path d="M4394.9 110.1h22" stroke="#1f98e0" stroke-width="2.6"/><text x="4418.9" y="113.1" font-family="Liberation Serif" font-size="8.6" fill="#111" textLength="73.2" lengthAdjust="spacingAndGlyphs">Passerat de Silans 2009</text><path d="M4394.9 118.9h22" stroke="#e5774f" stroke-width="2.6"/><text x="4418.9" y="121.9" font-family="Liberation Serif" font-size="8.6" fill="#111" textLength="55.3" lengthAdjust="spacingAndGlyphs">Lemonnier 1965</text><path d="M4394.9 127.7h22" stroke="#222" stroke-width="1.3" stroke-dasharray="5 3"/><text x="4418.9" y="130.7" font-family="Liberation Serif" font-size="8.6" fill="#111" textLength="11.9" lengthAdjust="spacingAndGlyphs">Fit</text><clipPath id="clp7"><rect x="3873.8" y="380.2" width="279.4" height="155.9"/></clipPath><path d="M3878.2 380.2V536.1M3885.0 380.2V536.1M3890.6 380.2V536.1M3895.3 380.2V536.1M3899.4 380.2V536.1M3903.0 380.2V536.1M3927.4 380.2V536.1M3939.8 380.2V536.1M3948.6 380.2V536.1M3955.4 380.2V536.1M3961.0 380.2V536.1M3965.7 380.2V536.1M3969.8 380.2V536.1M3973.4 380.2V536.1M3997.8 380.2V536.1M4010.2 380.2V536.1M4019.0 380.2V536.1M4025.8 380.2V536.1M4031.4 380.2V536.1M4036.1 380.2V536.1M4040.2 380.2V536.1M4043.8 380.2V536.1M4068.2 380.2V536.1M4080.6 380.2V536.1M4089.4 380.2V536.1M4096.2 380.2V536.1M4101.8 380.2V536.1M4106.5 380.2V536.1M4110.6 380.2V536.1M4114.2 380.2V536.1M4138.6 380.2V536.1M4151.0 380.2V536.1M3873.8 535.4H4153.2M3873.8 530.0H4153.2M3873.8 524.6H4153.2M3873.8 519.2H4153.2M3873.8 513.7H4153.2M3873.8 508.3H4153.2M3873.8 502.9H4153.2M3873.8 497.5H4153.2M3873.8 492.1H4153.2M3873.8 486.6H4153.2M3873.8 481.2H4153.2M3873.8 475.8H4153.2M3873.8 470.4H4153.2M3873.8 465.0H4153.2M3873.8 459.5H4153.2M3873.8 454.1H4153.2M3873.8 448.7H4153.2M3873.8 443.3H4153.2M3873.8 437.9H4153.2M3873.8 432.4H4153.2M3873.8 427.0H4153.2M3873.8 421.6H4153.2M3873.8 416.2H4153.2M3873.8 410.8H4153.2M3873.8 405.3H4153.2M3873.8 399.9H4153.2M3873.8 394.5H4153.2M3873.8 389.1H4153.2M3873.8 383.7H4153.2" stroke="#e2e2e2" stroke-width="0.7" fill="none"/><path d="M3906.2 380.2V536.1M3976.6 380.2V536.1M4047.0 380.2V536.1M4117.4 380.2V536.1M3873.8 530.0H4153.2M3873.8 502.9H4153.2M3873.8 475.8H4153.2M3873.8 448.7H4153.2M3873.8 421.6H4153.2M3873.8 394.5H4153.2" stroke="#b4b4b4" stroke-width="0.9" fill="none"/><path d="M3878.2 536.1v-2.2M3878.2 380.2v2.2M3885.0 536.1v-2.2M3885.0 380.2v2.2M3890.6 536.1v-2.2M3890.6 380.2v2.2M3895.3 536.1v-2.2M3895.3 380.2v2.2M3899.4 536.1v-2.2M3899.4 380.2v2.2M3903.0 536.1v-2.2M3903.0 380.2v2.2M3906.2 536.1v-4.0M3906.2 380.2v4.0M3927.4 536.1v-2.2M3927.4 380.2v2.2M3939.8 536.1v-2.2M3939.8 380.2v2.2M3948.6 536.1v-2.2M3948.6 380.2v2.2M3955.4 536.1v-2.2M3955.4 380.2v2.2M3961.0 536.1v-2.2M3961.0 380.2v2.2M3965.7 536.1v-2.2M3965.7 380.2v2.2M3969.8 536.1v-2.2M3969.8 380.2v2.2M3973.4 536.1v-2.2M3973.4 380.2v2.2M3976.6 536.1v-4.0M3976.6 380.2v4.0M3997.8 536.1v-2.2M3997.8 380.2v2.2M4010.2 536.1v-2.2M4010.2 380.2v2.2M4019.0 536.1v-2.2M4019.0 380.2v2.2M4025.8 536.1v-2.2M4025.8 380.2v2.2M4031.4 536.1v-2.2M4031.4 380.2v2.2M4036.1 536.1v-2.2M4036.1 380.2v2.2M4040.2 536.1v-2.2M4040.2 380.2v2.2M4043.8 536.1v-2.2M4043.8 380.2v2.2M4047.0 536.1v-4.0M4047.0 380.2v4.0M4068.2 536.1v-2.2M4068.2 380.2v2.2M4080.6 536.1v-2.2M4080.6 380.2v2.2M4089.4 536.1v-2.2M4089.4 380.2v2.2M4096.2 536.1v-2.2M4096.2 380.2v2.2M4101.8 536.1v-2.2M4101.8 380.2v2.2M4106.5 536.1v-2.2M4106.5 380.2v2.2M4110.6 536.1v-2.2M4110.6 380.2v2.2M4114.2 536.1v-2.2M4114.2 380.2v2.2M4117.4 536.1v-4.0M4117.4 380.2v4.0M4138.6 536.1v-2.2M4138.6 380.2v2.2M4151.0 536.1v-2.2M4151.0 380.2v2.2M3873.8 530.0h4M4153.2 530.0h-4M3873.8 502.9h4M4153.2 502.9h-4M3873.8 475.8h4M4153.2 475.8h-4M3873.8 448.7h4M4153.2 448.7h-4M3873.8 421.6h4M4153.2 421.6h-4M3873.8 394.5h4M4153.2 394.5h-4" stroke="#333" stroke-width="0.7" fill="none"/><rect x="3873.8" y="380.2" width="279.4" height="155.9" fill="none" stroke="#222" stroke-width="0.9"/><g font-family="Liberation Serif" font-size="10.5" fill="#111"><text x="3868.8" y="533.6" text-anchor="end">0</text><text x="3868.8" y="506.5" text-anchor="end">10</text><text x="3868.8" y="479.4" text-anchor="end">20</text><text x="3868.8" y="452.3" text-anchor="end">30</text><text x="3868.8" y="425.2" text-anchor="end">40</text><text x="3868.8" y="398.1" text-anchor="end">50</text><text x="3906.2" y="549.3" text-anchor="middle">10<tspan font-size="7.5" dy="-4.5">−3</tspan></text><text x="3976.6" y="549.3" text-anchor="middle">10<tspan font-size="7.5" dy="-4.5">−2</tspan></text><text x="4047.0" y="549.3" text-anchor="middle">10<tspan font-size="7.5" dy="-4.5">−1</tspan></text><text x="4117.4" y="549.3" text-anchor="middle">10<tspan font-size="7.5" dy="-4.5">0</tspan></text></g><text x="4010.3" y="370.4" text-anchor="middle" font-family="Liberation Serif" font-size="13.5">300°C</text><text transform="translate(3853.0 458.1) rotate(-90)" text-anchor="middle" font-family="Liberation Serif" font-size="13.3">Im <tspan font-style="italic">ϵ</tspan>(<tspan font-style="italic">ω</tspan>)</text><text x="4013.5" y="560.4" text-anchor="middle" font-family="Liberation Serif" font-size="12.5"><tspan font-style="italic">ω</tspan> [<tspan font-style="italic">E</tspan><tspan font-size="8.5" dy="3">h</tspan><tspan dy="-3">]</tspan></text><text x="3999.5" y="583.5" text-anchor="middle" font-family="Liberation Serif" font-size="16.5">(c)</text><g clip-path="url(#clp7)" fill="none" stroke-linejoin="round"><path d="M3880.9 529.8 3893.3 529.2 3896.9 528.6 3899.6 527.8 3901.7 526.4 3903.2 524.6 3904.3 522.2 3905.3 518.8 3906.8 506.7 3907.7 488.1 3909.8 389.2 3911.9 486.1 3912.8 504.9 3914.2 516.4 3915.1 520.5 3916.2 523.3 3917.8 525.4 3919.6 526.9 3922.1 527.9 3925.5 528.7 3936.5 529.5" stroke="#1f98e0" stroke-width="2.6"/><path d="M4086.9 529.6 4087.9 529.5 4088.6 528.9 4089.7 524.6 4091.3 527.2 4091.8 527.5 4092.6 527.2 4094.5 521.4 4095.4 524.4 4096.0 524.9 4096.4 524.9 4098.1 522.4 4098.8 522.4 4101.7 525.7 4102.8 526.4 4103.7 526.3 4105.4 527.6 4107.5 527.4 4108.7 528.0 4110.4 527.8 4110.9 528.2 4116.0 527.2 4117.6 527.5 4118.3 528.1 4118.9 527.9 4120.6 528.7 4122.5 529.2 4123.2 529.0 4124.2 527.5 4124.4 527.7 4124.9 527.4 4128.5 529.1 4129.5 529.3 4130.6 529.0 4132.1 529.8 4133.5 529.4 4135.3 530.1 4137.4 529.5 4139.1 530.2 4139.9 529.8 4141.2 530.1 4143.1 529.8" stroke="#e5774f" stroke-width="2.4"/><path d="M3880.9 529.8 3893.3 529.2 3896.9 528.6 3899.6 527.8 3901.7 526.4 3903.2 524.6 3904.3 522.2 3905.3 518.8 3906.8 506.7 3907.7 488.1 3909.8 389.2 3911.5 473.2 3912.8 504.9 3913.8 514.1 3915.1 520.5 3916.8 524.2 3917.9 525.6 3919.5 526.8 3922.5 528.1 3926.8 528.9 3942.9 529.6 4086.1 530.0 4087.7 529.8 4088.4 529.2 4089.7 524.6 4091.1 526.8 4091.8 527.0 4092.6 526.6 4093.3 525.3 4094.5 521.7 4095.8 524.7 4096.4 524.5 4097.9 522.6 4098.6 522.3 4102.4 526.1 4104.1 527.0 4106.2 527.6 4109.4 527.8 4116.8 527.6 4122.3 529.0 4123.0 528.7 4124.4 527.2 4127.0 528.7 4130.0 529.4 4145.6 529.9" stroke="#222" stroke-width="1.1" stroke-dasharray="4.5 2.8"/></g><path d="M3939.2 482.6 3966.5 482.3 3981.5 481.6 3990.8 480.2 3994.1 479.1 3996.8 477.6 3999.2 475.5 4001.0 473.2 4002.5 470.4 4004.0 466.5 4006.4 456.9 4010.0 436.6 4010.9 433.8 4011.5 433.4 4012.1 434.1 4013.0 437.1 4016.6 456.1 4019.3 465.9 4020.8 469.3 4022.6 472.3 4024.7 474.7 4027.1 476.6 4030.1 478.1 4033.7 479.2 4038.2 480.1 4044.2 480.9 4060.7 481.7 4088.9 482.2" fill="none" stroke="#1f98e0" stroke-width="2.4"/><path d="M3939.2 482.6 3966.5 482.3 3981.5 481.6 3990.8 480.2 3994.1 479.1 3996.8 477.6 3999.2 475.5 4001.0 473.2 4002.5 470.4 4004.0 466.5 4006.4 456.9 4010.0 436.6 4010.9 433.8 4011.5 433.4 4012.1 434.1 4013.0 437.1 4016.6 456.1 4019.3 465.9 4020.8 469.3 4022.6 472.3 4024.7 474.7 4027.1 476.6 4030.1 478.1 4033.7 479.2 4038.2 480.1 4044.2 480.9 4060.7 481.7 4088.9 482.2" fill="none" stroke="#222" stroke-width="1.0" stroke-dasharray="4.5 2.8"/><path d="M3935.4 432.0V485.5H4090.4" fill="none" stroke="#222" stroke-width="0.9"/><path d="M3935.4 435.2h3M3935.4 458.9h3M3935.4 482.7h3M3944.5 485.5v-3M3998.0 485.5v-3M4051.5 485.5v-3" stroke="#222" stroke-width="0.7"/><g font-family="Liberation Serif" font-size="8.3" fill="#111"><text x="3932.4" y="438.2" text-anchor="end">50</text><text x="3932.4" y="461.9" text-anchor="end">25</text><text x="3932.4" y="485.7" text-anchor="end">0</text><text x="3944.5" y="495.5" text-anchor="middle">0.0005</text><text x="3998.0" y="495.5" text-anchor="middle">0.0010</text><text x="4051.5" y="495.5" text-anchor="middle">0.0015</text></g><rect x="4040.6" y="386.3" width="103.3" height="29.6" fill="#fff" stroke="#333" stroke-width="0.8"/><path d="M4043.6 392.6h22" stroke="#1f98e0" stroke-width="2.6"/><text x="4067.6" y="395.6" font-family="Liberation Serif" font-size="8.6" fill="#111" textLength="73.3" lengthAdjust="spacingAndGlyphs">Passerat de Silans 2009</text><path d="M4043.6 401.1h22" stroke="#e5774f" stroke-width="2.6"/><text x="4067.6" y="404.1" font-family="Liberation Serif" font-size="8.6" fill="#111" textLength="55.3" lengthAdjust="spacingAndGlyphs">Lemonnier 1965</text><path d="M4043.6 409.6h22" stroke="#222" stroke-width="1.3" stroke-dasharray="5 3"/><text x="4067.6" y="412.6" font-family="Liberation Serif" font-size="8.6" fill="#111" textLength="11.9" lengthAdjust="spacingAndGlyphs">Fit</text><clipPath id="clp8"><rect x="4224.7" y="380.2" width="279.3" height="155.9"/></clipPath><path d="M4228.9 380.2V536.1M4235.8 380.2V536.1M4241.4 380.2V536.1M4246.1 380.2V536.1M4250.2 380.2V536.1M4253.8 380.2V536.1M4278.2 380.2V536.1M4290.6 380.2V536.1M4299.4 380.2V536.1M4306.3 380.2V536.1M4311.9 380.2V536.1M4316.6 380.2V536.1M4320.7 380.2V536.1M4324.3 380.2V536.1M4348.7 380.2V536.1M4361.1 380.2V536.1M4369.9 380.2V536.1M4376.8 380.2V536.1M4382.4 380.2V536.1M4387.1 380.2V536.1M4391.2 380.2V536.1M4394.8 380.2V536.1M4419.2 380.2V536.1M4431.6 380.2V536.1M4440.4 380.2V536.1M4447.3 380.2V536.1M4452.9 380.2V536.1M4457.6 380.2V536.1M4461.7 380.2V536.1M4465.3 380.2V536.1M4489.7 380.2V536.1M4502.1 380.2V536.1M4224.7 535.3H4504.0M4224.7 528.7H4504.0M4224.7 522.1H4504.0M4224.7 515.6H4504.0M4224.7 509.0H4504.0M4224.7 502.4H4504.0M4224.7 495.8H4504.0M4224.7 489.2H4504.0M4224.7 482.7H4504.0M4224.7 476.1H4504.0M4224.7 469.5H4504.0M4224.7 462.9H4504.0M4224.7 456.3H4504.0M4224.7 449.8H4504.0M4224.7 443.2H4504.0M4224.7 436.6H4504.0M4224.7 430.0H4504.0M4224.7 423.4H4504.0M4224.7 416.9H4504.0M4224.7 410.3H4504.0M4224.7 403.7H4504.0M4224.7 397.1H4504.0M4224.7 390.5H4504.0M4224.7 384.0H4504.0" stroke="#e2e2e2" stroke-width="0.7" fill="none"/><path d="M4257.0 380.2V536.1M4327.5 380.2V536.1M4398.0 380.2V536.1M4468.5 380.2V536.1M4224.7 535.3H4504.0M4224.7 502.4H4504.0M4224.7 469.5H4504.0M4224.7 436.6H4504.0M4224.7 403.7H4504.0" stroke="#b4b4b4" stroke-width="0.9" fill="none"/><path d="M4228.9 536.1v-2.2M4228.9 380.2v2.2M4235.8 536.1v-2.2M4235.8 380.2v2.2M4241.4 536.1v-2.2M4241.4 380.2v2.2M4246.1 536.1v-2.2M4246.1 380.2v2.2M4250.2 536.1v-2.2M4250.2 380.2v2.2M4253.8 536.1v-2.2M4253.8 380.2v2.2M4257.0 536.1v-4.0M4257.0 380.2v4.0M4278.2 536.1v-2.2M4278.2 380.2v2.2M4290.6 536.1v-2.2M4290.6 380.2v2.2M4299.4 536.1v-2.2M4299.4 380.2v2.2M4306.3 536.1v-2.2M4306.3 380.2v2.2M4311.9 536.1v-2.2M4311.9 380.2v2.2M4316.6 536.1v-2.2M4316.6 380.2v2.2M4320.7 536.1v-2.2M4320.7 380.2v2.2M4324.3 536.1v-2.2M4324.3 380.2v2.2M4327.5 536.1v-4.0M4327.5 380.2v4.0M4348.7 536.1v-2.2M4348.7 380.2v2.2M4361.1 536.1v-2.2M4361.1 380.2v2.2M4369.9 536.1v-2.2M4369.9 380.2v2.2M4376.8 536.1v-2.2M4376.8 380.2v2.2M4382.4 536.1v-2.2M4382.4 380.2v2.2M4387.1 536.1v-2.2M4387.1 380.2v2.2M4391.2 536.1v-2.2M4391.2 380.2v2.2M4394.8 536.1v-2.2M4394.8 380.2v2.2M4398.0 536.1v-4.0M4398.0 380.2v4.0M4419.2 536.1v-2.2M4419.2 380.2v2.2M4431.6 536.1v-2.2M4431.6 380.2v2.2M4440.4 536.1v-2.2M4440.4 380.2v2.2M4447.3 536.1v-2.2M4447.3 380.2v2.2M4452.9 536.1v-2.2M4452.9 380.2v2.2M4457.6 536.1v-2.2M4457.6 380.2v2.2M4461.7 536.1v-2.2M4461.7 380.2v2.2M4465.3 536.1v-2.2M4465.3 380.2v2.2M4468.5 536.1v-4.0M4468.5 380.2v4.0M4489.7 536.1v-2.2M4489.7 380.2v2.2M4502.1 536.1v-2.2M4502.1 380.2v2.2M4224.7 535.3h4M4504.0 535.3h-4M4224.7 502.4h4M4504.0 502.4h-4M4224.7 469.5h4M4504.0 469.5h-4M4224.7 436.6h4M4504.0 436.6h-4M4224.7 403.7h4M4504.0 403.7h-4" stroke="#333" stroke-width="0.7" fill="none"/><rect x="4224.7" y="380.2" width="279.3" height="155.9" fill="none" stroke="#222" stroke-width="0.9"/><g font-family="Liberation Serif" font-size="10.5" fill="#111"><text x="4219.7" y="538.9" text-anchor="end">0</text><text x="4219.7" y="506.0" text-anchor="end">5</text><text x="4219.7" y="473.1" text-anchor="end">10</text><text x="4219.7" y="440.2" text-anchor="end">15</text><text x="4219.7" y="407.3" text-anchor="end">20</text><text x="4257.0" y="549.3" text-anchor="middle">10<tspan font-size="7.5" dy="-4.5">−3</tspan></text><text x="4327.5" y="549.3" text-anchor="middle">10<tspan font-size="7.5" dy="-4.5">−2</tspan></text><text x="4398.0" y="549.3" text-anchor="middle">10<tspan font-size="7.5" dy="-4.5">−1</tspan></text><text x="4468.5" y="549.3" text-anchor="middle">10<tspan font-size="7.5" dy="-4.5">0</tspan></text></g><text x="4365.5" y="370.4" text-anchor="middle" font-family="Liberation Serif" font-size="13.5">500°C</text><text transform="translate(4204.0 458.1) rotate(-90)" text-anchor="middle" font-family="Liberation Serif" font-size="13.3">Im <tspan font-style="italic">ϵ</tspan>(<tspan font-style="italic">ω</tspan>)</text><text x="4364.4" y="560.4" text-anchor="middle" font-family="Liberation Serif" font-size="12.5"><tspan font-style="italic">ω</tspan> [<tspan font-style="italic">E</tspan><tspan font-size="8.5" dy="3">h</tspan><tspan dy="-3">]</tspan></text><text x="4349.5" y="583.5" text-anchor="middle" font-family="Liberation Serif" font-size="16.5">(d)</text><g clip-path="url(#clp8)" fill="none" stroke-linejoin="round"><path d="M4231.6 531.5 4236.0 530.2 4239.4 528.7 4242.2 526.8 4244.7 524.3 4246.8 521.2 4248.5 517.5 4249.8 513.4 4251.1 507.8 4253.0 495.4 4254.7 476.6 4256.1 454.0 4258.3 403.5 4258.9 394.8 4259.5 391.4 4260.0 394.2 4260.6 402.6 4262.9 456.0 4264.2 480.2 4265.7 498.1 4267.6 511.3 4268.8 516.3 4270.3 521.0 4272.0 524.6 4274.1 527.4 4276.5 529.6 4279.4 531.2 4283.0 532.4 4287.3 533.3" stroke="#1f98e0" stroke-width="2.6"/><path d="M4438.0 535.1 4438.5 534.3 4438.9 534.4 4439.5 533.1 4440.8 522.5 4441.6 526.3 4442.3 527.9 4442.9 528.1 4443.6 527.1 4444.8 521.3 4445.5 515.0 4446.9 522.3 4447.4 522.0 4448.8 517.5 4449.5 516.8 4450.7 518.9 4451.4 521.4 4451.8 521.6 4452.0 522.7 4452.7 523.8 4453.5 526.2 4453.9 526.3 4454.3 527.8 4455.4 529.4 4456.3 529.1 4456.9 530.0 4458.2 530.1 4458.4 529.7 4459.6 530.4 4460.7 529.5 4461.6 530.5 4462.0 530.1 4462.4 530.5 4462.8 529.0 4463.4 528.5 4464.5 530.4 4465.1 530.4 4465.8 529.1 4467.3 530.3 4468.1 529.8 4468.3 529.2 4469.8 530.2 4470.0 531.0 4470.7 530.6 4471.3 531.3 4471.7 531.2 4472.8 533.5 4473.0 533.2 4473.2 533.5 4474.0 532.8 4474.9 529.2 4475.5 528.7 4477.2 531.3 4477.4 531.2 4478.1 531.9 4478.5 531.9 4479.5 533.2 4479.8 532.6 4480.2 533.3 4480.6 532.8 4481.7 534.2 4481.9 533.8 4482.3 534.1 4482.9 533.4 4483.6 534.1 4484.0 533.9 4484.8 534.6 4485.9 533.6 4486.1 533.8 4486.5 533.6 4487.6 534.9 4487.8 534.6 4488.0 534.9 4488.4 534.9 4489.1 534.4 4489.5 534.6 4489.9 534.4 4490.4 534.6 4491.0 535.6 4491.6 535.9 4491.8 535.4 4492.2 536.0 4493.1 534.9 4493.5 535.3 4494.2 534.9" stroke="#e5774f" stroke-width="2.4"/><path d="M4231.6 531.5 4236.0 530.2 4239.4 528.7 4242.2 526.8 4244.7 524.3 4246.8 521.2 4248.5 517.5 4249.8 513.4 4251.1 507.8 4253.0 495.4 4254.7 476.6 4256.1 454.0 4258.3 403.5 4258.9 394.8 4259.5 391.4 4260.0 394.2 4260.6 402.6 4263.8 474.2 4265.0 490.2 4266.3 502.9 4268.2 514.0 4270.5 521.5 4273.3 526.5 4275.2 528.5 4277.3 530.1 4281.5 531.9 4287.1 533.2 4294.7 534.1 4305.7 534.6 4348.1 535.2 4437.4 535.2 4438.7 534.8 4439.5 533.4 4440.8 522.2 4442.1 527.6 4442.9 528.1 4443.6 527.0 4444.4 523.9 4445.5 515.1 4446.9 522.4 4447.4 522.0 4449.0 517.3 4449.7 516.6 4450.5 517.8 4452.2 522.9 4453.5 525.9 4455.2 528.1 4457.3 529.4 4460.5 529.9 4466.0 529.3 4467.9 529.4 4469.6 530.1 4473.4 532.9 4474.2 532.2 4475.5 528.5 4478.1 532.1 4481.2 533.7 4486.7 534.7 4496.7 535.1" stroke="#222" stroke-width="1.1" stroke-dasharray="4.5 2.8"/></g><path d="M4291.1 483.3 4306.5 482.1 4317.9 480.2 4326.6 477.5 4330.2 475.8 4333.5 473.7 4338.3 469.5 4342.5 464.1 4346.7 456.6 4354.8 438.8 4356.9 435.8 4358.1 434.9 4359.0 434.6 4359.9 434.8 4361.1 435.5 4363.2 438.2 4371.9 455.7 4376.7 463.4 4381.8 469.0 4387.5 473.2 4391.4 475.2 4395.9 476.9 4406.7 479.5 4421.1 481.3 4440.9 482.5" fill="none" stroke="#1f98e0" stroke-width="2.4"/><path d="M4291.1 483.3 4306.5 482.1 4317.9 480.2 4326.6 477.5 4330.2 475.8 4333.5 473.7 4338.3 469.5 4342.5 464.1 4346.7 456.6 4354.8 438.8 4356.9 435.8 4358.1 434.9 4359.0 434.6 4359.9 434.8 4361.1 435.5 4363.2 438.2 4371.9 455.7 4376.7 463.4 4381.8 469.0 4387.5 473.2 4391.4 475.2 4395.9 476.9 4406.7 479.5 4421.1 481.3 4440.9 482.5" fill="none" stroke="#222" stroke-width="1.0" stroke-dasharray="4.5 2.8"/><path d="M4287.4 430.9V485.5H4442.1" fill="none" stroke="#222" stroke-width="0.9"/><path d="M4287.4 438.9h3M4287.4 461.8h3M4287.4 484.7h3M4296.5 485.5v-3M4350.0 485.5v-3M4403.5 485.5v-3" stroke="#222" stroke-width="0.7"/><g font-family="Liberation Serif" font-size="8.3" fill="#111"><text x="4284.4" y="441.9" text-anchor="end">20</text><text x="4284.4" y="464.8" text-anchor="end">10</text><text x="4284.4" y="487.7" text-anchor="end">0</text><text x="4296.5" y="495.5" text-anchor="middle">0.0005</text><text x="4350.0" y="495.5" text-anchor="middle">0.0010</text><text x="4403.5" y="495.5" text-anchor="middle">0.0015</text></g><rect x="4391.9" y="386.3" width="103.2" height="29.6" fill="#fff" stroke="#333" stroke-width="0.8"/><path d="M4394.9 392.6h22" stroke="#1f98e0" stroke-width="2.6"/><text x="4418.9" y="395.6" font-family="Liberation Serif" font-size="8.6" fill="#111" textLength="73.2" lengthAdjust="spacingAndGlyphs">Passerat de Silans 2009</text><path d="M4394.9 401.1h22" stroke="#e5774f" stroke-width="2.6"/><text x="4418.9" y="404.1" font-family="Liberation Serif" font-size="8.6" fill="#111" textLength="55.3" lengthAdjust="spacingAndGlyphs">Lemonnier 1965</text><path d="M4394.9 409.6h22" stroke="#222" stroke-width="1.3" stroke-dasharray="5 3"/><text x="4418.9" y="412.6" font-family="Liberation Serif" font-size="8.6" fill="#111" textLength="11.9" lengthAdjust="spacingAndGlyphs">Fit</text></svg></div>
<div id='tx' style='position:absolute;left:0;top:0;width:4635px;height:1200px;will-change:transform'><div class="x t" style="left:175.60px;top:78.00px;width:582.40px;word-spacing:0.439px"><span id="s0">Temperature–Dependent Dielectric Function of Calcium Fluoride</span></div>
<div class="x au" style="left:265.80px;top:115.70px;width:399.90px;word-spacing:4.032px"><span id="s1">T. Das,<sup>1</sup> D. Alam,<sup>2</sup> C. A. Ullrich,<sup>2</sup> and U. D. Jentschura<sup>1</sup></span></div>
<div class="x af" style="left:113.60px;top:137.50px;width:706.40px;word-spacing:0.692px"><span id="s2"><sup style="font-style:normal">1</sup>Department of Physics and LAMOR, Missouri University of Science and Technology, Rolla, Missouri 65409, USA</span></div>
<div class="x af" style="left:165.00px;top:153.50px;width:603.60px;word-spacing:1.462px"><span id="s3"><sup style="font-style:normal">2</sup>Department of Physics and Astronomy, University of Missouri, Columbia, Missouri 65211, USA</span></div>
<div class="x c" style="left:165.30px;top:177.60px;width:603.70px;padding-left:13.80px;width:589.90px;word-spacing:1.733px"><span id="s4">Calcium fluoride (fluorspar, CaF<sub>2</sub>) is of consummate importance for the manufacturing of opti-</span></div>
<div class="x c" style="left:165.30px;top:193.46px;width:603.70px;word-spacing:2.146px"><span id="s5">cal components. In many cases, its wide transmission band eliminates the need for antireflective</span></div>
<div class="x c" style="left:165.30px;top:209.32px;width:603.70px;word-spacing:3.090px"><span id="s6">coatings. It is thus of interest to study its optical properties as a function of temperature. The</span></div>
<div class="x c" style="left:165.30px;top:225.18px;width:603.70px;word-spacing:2.001px"><span id="s7">optical properties are mainly determined by a strongly temperature-dependent infrared (IR) peak,</span></div>
<div class="x c" style="left:165.30px;top:241.04px;width:603.70px;word-spacing:1.924px"><span id="s8">and a series of nearly temperature-independent ultraviolet (UV) peaks. We find that the tempera-</span></div>
<div class="x c" style="left:165.30px;top:256.90px;width:603.70px;word-spacing:0.480px"><span id="s9">ture dependence of the IR peak can be modeled, to good accuracy, by a radiation-reaction improved</span></div>
<div class="x c" style="left:165.30px;top:272.76px;width:603.70px;word-spacing:0.276px"><span id="s10">coupled-oscillator model, with temperature-dependent parameters. For the UV peaks, we find a con-</span></div>
<div class="x c" style="left:165.30px;top:288.62px;width:603.70px;word-spacing:1.323px"><span id="s11">venient functional form which covers both the real as well as the imaginary parts of the dielectric</span></div>
<div class="x c" style="left:165.30px;top:304.48px;width:603.70px;word-spacing:0.118px"><span id="s12">function and provide a comparison to first-principles calculations. The result is a compact functional</span></div>
<div class="x c" style="left:165.30px;top:320.34px;width:603.70px;word-spacing:1.839px"><span id="s13">form for the dielectric function of undoped CaF<sub>2</sub> in the frequency range 0 &lt; <i>ω</i> &lt; 1.8 a.u., and in</span></div>
<div class="x c" style="left:165.30px;top:336.20px;width:603.70px;word-spacing:2.356px"><span id="s14">the temperature range 22°C &lt; <i>T</i> &lt; 500°C. With the help of the temperature-dependent dielectric</span></div>
<div class="x c" style="left:165.30px;top:352.06px;width:603.70px;word-spacing:0.818px"><span id="s15">function, we obtain temperature-dependent values of the short-range and long-range asymptotics of</span></div>
<div class="x c" style="left:165.30px;top:367.92px;width:603.70px"><span id="s16">atom-surface interactions with CaF<sub>2</sub>, for hydrogen, as well as ground-state and metastable helium.</span></div>
<div class="x h" style="left:188.80px;top:414.90px;width:157.40px"><span id="s17"><span style="display:inline-block;width:27.1px">I.</span>INTRODUCTION</span></div>
<div class="x b" style="left:81.80px;top:454.70px;width:371.00px;padding-left:15.30px;width:355.70px;word-spacing:3.039px"><span id="s18">Due to its wide transmission band associated with a</span></div>
<div class="x b" style="left:81.80px;top:472.08px;width:371.00px;word-spacing:0.884px"><span id="s19">nearly transparent region in the visible range of the opti-</span></div>
<div class="x b" style="left:81.80px;top:489.46px;width:371.00px;word-spacing:0.565px"><span id="s20">cal spectrum, calcium fluoride (CaF<sub>2</sub>, commonly referred</span></div>
<div class="x b" style="left:81.80px;top:506.84px;width:371.00px;word-spacing:5.445px"><span id="s21">to as fluorspar) has many technological applications.</span></div>
<div class="x b" style="left:81.80px;top:524.22px;width:371.00px;word-spacing:1.604px"><span id="s22"><i>E.g.</i>, it is used for anti-reflective coatings on lenses [1],</span></div>
<div class="x b" style="left:81.80px;top:541.60px;width:371.00px;word-spacing:2.656px"><span id="s23">transparent substrates in photolithography [2], and as a</span></div>
<div class="x b" style="left:81.80px;top:558.99px;width:371.00px;word-spacing:1.083px"><span id="s24">substrate material for infrared spectroscopy [3]. The ma-</span></div>
<div class="x b" style="left:81.80px;top:576.37px;width:371.00px;word-spacing:2.963px"><span id="s25">terial is subjected to extreme thermal conditions in in-</span></div>
<div class="x b" style="left:81.80px;top:593.75px;width:371.00px;word-spacing:-0.033px"><span id="s26">stances such as optical elements in high-energy lasers [4].</span></div>
<div class="x b" style="left:81.80px;top:611.13px;width:371.00px;word-spacing:1.641px"><span id="s27">Other environments with extreme conditions include the</span></div>
<div class="x b" style="left:81.80px;top:628.51px;width:371.00px;word-spacing:3.431px"><span id="s28">Near–Infrared Spectrometer and Photometer (NISP) on</span></div>
<div class="x b" style="left:81.80px;top:645.89px;width:371.00px;word-spacing:1.707px"><span id="s29">the Euclid satellite [5]. Accurate knowledge of the opti-</span></div>
<div class="x b" style="left:81.80px;top:663.27px;width:371.00px;word-spacing:2.191px"><span id="s30">cal and dielectric properties of CaF<sub>2</sub> and their tempera-</span></div>
<div class="x b" style="left:81.80px;top:680.65px;width:371.00px;word-spacing:1.121px"><span id="s31">ture dependence is thus beneficial for these applications.</span></div>
<div class="x b" style="left:81.80px;top:698.03px;width:371.00px;word-spacing:2.297px"><span id="s32">A convenient functional form, to describe the dielectric</span></div>
<div class="x b" style="left:81.80px;top:715.41px;width:371.00px;word-spacing:1.152px"><span id="s33">function over wide ranges of temperature and frequency,</span></div>
<div class="x b" style="left:81.80px;top:732.80px;width:371.00px;word-spacing:0.413px"><span id="s34">is also required and desirable for the calculation of atom-</span></div>
<div class="x b" style="left:81.80px;top:750.18px;width:371.00px"><span id="s35">surface interactions and quantum-reflection studies.</span></div>
<div class="x b" style="left:81.80px;top:767.56px;width:371.00px;padding-left:15.30px;width:355.70px;word-spacing:0.295px"><span id="s36">The structure of the dielectric function of CaF<sub>2</sub> is char-</span></div>
<div class="x b" style="left:81.80px;top:784.94px;width:371.00px;word-spacing:2.639px"><span id="s37">acterized by a giant infrared (IR) resonance, where the</span></div>
<div class="x b" style="left:81.80px;top:802.32px;width:371.00px;word-spacing:0.701px"><span id="s38">maximum modulus of the real part of the dielectric func-</span></div>
<div class="x b" style="left:81.80px;top:819.70px;width:371.00px;word-spacing:4.375px"><span id="s39">tion exceeds the value of |Re(<i>ϵ</i>)| &gt; 80, while rapidly</span></div>
<div class="x b" style="left:81.80px;top:837.08px;width:371.00px;word-spacing:1.366px"><span id="s40">changing its sign at the resonance, and a series of peaks</span></div>
<div class="x b" style="left:81.80px;top:854.46px;width:371.00px;word-spacing:2.734px"><span id="s41">in the ultraviolet (UV). The IR peak has recently been</span></div>
<div class="x b" style="left:81.80px;top:871.84px;width:371.00px;word-spacing:1.334px"><span id="s42">analyzed in Ref. [6], while the transparent region within</span></div>
<div class="x b" style="left:81.80px;top:889.22px;width:371.00px;word-spacing:2.439px"><span id="s43">the visible range has been analyzed in relatively recent</span></div>
<div class="x b" style="left:81.80px;top:906.61px;width:371.00px;word-spacing:1.877px"><span id="s44">articles [5, 7–11]. By contrast, data collected for the IR</span></div>
<div class="x b" style="left:81.80px;top:923.99px;width:371.00px;word-spacing:0.557px"><span id="s45">region in Ref. [12], while capturing the main characteris-</span></div>
<div class="x b" style="left:81.80px;top:941.37px;width:371.00px;word-spacing:1.286px"><span id="s46">tics of the frequency-dependent dielectric function, must</span></div>
<div class="x b" style="left:81.80px;top:958.75px;width:371.00px;word-spacing:5.400px"><span id="s47">be considered outdated at the current stage. For the</span></div>
<div class="x b" style="left:81.80px;top:976.13px;width:371.00px;word-spacing:2.972px"><span id="s48">UV region, we use data from Refs. [13, 14]. The data</span></div>
<div class="x b" style="left:81.80px;top:993.51px;width:371.00px;word-spacing:0.027px"><span id="s49">collected in Ref. [14] display five overlapping resonances</span></div>
<div class="x b" style="left:81.80px;top:1010.89px;width:371.00px;word-spacing:3.502px"><span id="s50">in the UV range 0.35 a.u. &lt; <i>ω</i> &lt; 1.3 a.u. (here, “a.u.”</span></div>
<div class="x b" style="left:81.80px;top:1028.27px;width:371.00px;word-spacing:0.870px"><span id="s51">stands for atomic units, where the photon energy is mea-</span></div>
<div class="x b" style="left:81.80px;top:1045.65px;width:371.00px;word-spacing:0.126px"><span id="s52">sured in Hartrees, see Chap. 2 of Ref. [15]). It is essential</span></div>
<div class="x b" style="left:81.80px;top:1063.03px;width:371.00px;word-spacing:2.036px"><span id="s53">that the data from Ref. [14] display clear excitonic sig-</span></div>
<div class="x b" style="left:81.80px;top:1080.42px;width:371.00px;word-spacing:0.852px"><span id="s54">natures at a UV photon energy of <i>ħω</i> ≈ 10.5 eV. Namely,</span></div>
<div class="x b" style="left:480.00px;top:414.70px;width:371.00px;word-spacing:3.361px"><span id="s55">apart from the fact that excitonic effects dominate the</span></div>
<div class="x b" style="left:480.00px;top:432.08px;width:371.00px;word-spacing:1.082px"><span id="s56">optical properties of wide-gap insulators close to the op-</span></div>
<div class="x b" style="left:480.00px;top:449.46px;width:371.00px;word-spacing:0.370px"><span id="s57">tical gap, these features are also essential for the compar-</span></div>
<div class="x b" style="left:480.00px;top:466.84px;width:371.00px;word-spacing:1.326px"><span id="s58">ison of experimental data to first-principles calculations,</span></div>
<div class="x b" style="left:480.00px;top:484.22px;width:371.00px;word-spacing:3.539px"><span id="s59">which are reported here using time-dependent density-</span></div>
<div class="x b" style="left:480.00px;top:501.60px;width:371.00px"><span id="s60">functional theory (TDDFT).</span></div>
<div class="x b" style="left:480.00px;top:521.98px;width:371.00px;padding-left:15.30px;width:355.70px;word-spacing:1.997px"><span id="s61">We have recently investigated the dielectric functions</span></div>
<div class="x b" style="left:480.00px;top:539.36px;width:371.00px;word-spacing:1.609px"><span id="s62">of intrinsic silicon [16, 17] and <i>α</i>-quartz [18] and found</span></div>
<div class="x b" style="left:480.00px;top:556.74px;width:371.00px;word-spacing:8.070px"><span id="s63">that a radiation-reaction improved coupled-oscillator</span></div>
<div class="x b" style="left:480.00px;top:574.12px;width:371.00px;word-spacing:1.410px"><span id="s64">model (Lorentz–Dirac model) is very well suited for the</span></div>
<div class="x b" style="left:480.00px;top:591.50px;width:371.00px;word-spacing:2.998px"><span id="s65">description of both real and imaginary parts of the di-</span></div>
<div class="x b" style="left:480.00px;top:608.88px;width:371.00px;word-spacing:2.068px"><span id="s66">electric function. In Ref. [19], it was shown that model</span></div>
<div class="x b" style="left:480.00px;top:626.26px;width:371.00px;word-spacing:0.409px"><span id="s67">calculations based on coupled damped oscillators support</span></div>
<div class="x b" style="left:480.00px;top:643.64px;width:371.00px;word-spacing:-0.150px"><span id="s68">the functional form employed in the Lorentz–Dirac model</span></div>
<div class="x b" style="left:480.00px;top:661.02px;width:371.00px;word-spacing:1.253px"><span id="s69">used in Refs. [16–18]. Essentially, the coupled-oscillator</span></div>
<div class="x b" style="left:480.00px;top:678.40px;width:371.00px;word-spacing:2.791px"><span id="s70">model leads to a representation of the optical response</span></div>
<div class="x b" style="left:480.00px;top:695.78px;width:371.00px;word-spacing:0.699px"><span id="s71">of the medium in terms of damped oscillator eigenmodes</span></div>
<div class="x b" style="left:480.00px;top:713.16px;width:371.00px;word-spacing:5.256px"><span id="s72">with complex oscillator strengths. Similar approaches</span></div>
<div class="x b" style="left:480.00px;top:730.54px;width:371.00px;word-spacing:1.328px"><span id="s73">have been discussed in Eq. (1) of Ref. [20] for rutile, in</span></div>
<div class="x b" style="left:480.00px;top:747.92px;width:371.00px;word-spacing:2.839px"><span id="s74">Eq. (4) of Ref. [21] for cubic thallium, and in Eq. (1)</span></div>
<div class="x b" style="left:480.00px;top:765.30px;width:371.00px;word-spacing:1.587px"><span id="s75">of Ref. [22] for sodium nitrate. Hence, it is indicated to</span></div>
<div class="x b" style="left:480.00px;top:782.68px;width:371.00px;word-spacing:0.842px"><span id="s76">investigate if the same analytic model, which has a com-</span></div>
<div class="x b" style="left:480.00px;top:800.06px;width:371.00px;word-spacing:1.933px"><span id="s77">paratively simple analytic form, can be successfully ap-</span></div>
<div class="x b" style="left:480.00px;top:817.44px;width:371.00px;word-spacing:1.682px"><span id="s78">plied to other technologically important substances such</span></div>
<div class="x b" style="left:480.00px;top:834.82px;width:371.00px;word-spacing:2.113px"><span id="s79">as CaF<sub>2</sub>. As a byproduct of our investigations, we shall</span></div>
<div class="x b" style="left:480.00px;top:852.20px;width:371.00px;word-spacing:1.803px"><span id="s80">thus aim to update and improve the four-term Sellmeier</span></div>
<div class="x b" style="left:480.00px;top:869.58px;width:371.00px;word-spacing:1.988px"><span id="s81">model that is otherwise used in Ref. [8] to describe the</span></div>
<div class="x b" style="left:480.00px;top:886.96px;width:371.00px"><span id="s82">experimental data for CaF<sub>2</sub>.</span></div>
<div class="x b" style="left:480.00px;top:906.34px;width:371.00px;padding-left:15.30px;width:355.70px;word-spacing:11.583px"><span id="s83">Here, we confirm that, although a traditional</span></div>
<div class="x b" style="left:480.00px;top:923.72px;width:371.00px;word-spacing:2.926px"><span id="s84">Sellmeier-type model is well suited in representing the</span></div>
<div class="x b" style="left:480.00px;top:941.10px;width:371.00px;word-spacing:3.043px"><span id="s85">optical data in the transparent region, it fails to repre-</span></div>
<div class="x b" style="left:480.00px;top:958.48px;width:371.00px;word-spacing:2.701px"><span id="s86">sent the complicated structure found in the UV region,</span></div>
<div class="x b" style="left:480.00px;top:975.86px;width:371.00px;word-spacing:2.434px"><span id="s87">and in the IR region. Our first aim is to find a unified</span></div>
<div class="x b" style="left:480.00px;top:993.24px;width:371.00px;word-spacing:1.308px"><span id="s88">functional form which, for room temperature, covers the</span></div>
<div class="x b" style="left:480.00px;top:1010.62px;width:371.00px;word-spacing:3.383px"><span id="s89">entire spectral range from the IR to the UV. Our sec-</span></div>
<div class="x b" style="left:480.00px;top:1028.00px;width:371.00px;word-spacing:3.648px"><span id="s90">ond aim is to describe the temperature dependence of</span></div>
<div class="x b" style="left:480.00px;top:1045.38px;width:371.00px;word-spacing:2.666px"><span id="s91">the dielectric function. In Ref. [6], the temperature de-</span></div>
<div class="x b" style="left:480.00px;top:1062.76px;width:371.00px;word-spacing:0.043px"><span id="s92">pendence of the IR peak was described using an elaborate</span></div>
<div class="x b" style="left:480.00px;top:1080.14px;width:371.00px;word-spacing:1.411px"><span id="s93">functional form. The temperature dependence in the vis-</span></div>
<div class="x pn" style="left:1478.00px;top:39.70px;width:300.00px;text-align:right"><span id="s94">2</span></div>
<div class="x c" style="left:1008.80px;top:89.60px;width:371.00px;word-spacing:3.469px"><span id="s95">TABLE I. Parameters for fitting the infrared (IR) peak at</span></div>
<div class="x c" style="left:1008.80px;top:105.32px;width:371.00px;word-spacing:0.721px"><span id="s96">different temperatures while keeping the ultraviolet (UV) pa-</span></div>
<div class="x c" style="left:1008.80px;top:121.04px;width:371.00px;word-spacing:3.201px"><span id="s97">rameters fixed. For finding the temperature-dependent fits,</span></div>
<div class="x c" style="left:1008.80px;top:136.76px;width:371.00px;word-spacing:0.174px"><span id="s98">we have used data from Ref. [6] for the IR peak, Ref. [11] for</span></div>
<div class="x c" style="left:1008.80px;top:152.48px;width:371.00px;word-spacing:2.516px"><span id="s99">the transparent region and the UV data from Ref. [14] has</span></div>
<div class="x c" style="left:1008.80px;top:168.20px;width:371.00px"><span id="s100">also been used while fitting.</span></div>
<div class="x tb" style="left:1020.60px;top:198.30px;width:300.00px"><span id="s101"><i>T</i> [°C]</span></div>
<div class="x tb" style="left:1055.80px;top:198.30px;width:60.00px;text-align:center"><span id="s102"><i>a</i><sub>1</sub></span></div>
<div class="x tb" style="left:1121.00px;top:198.30px;width:60.00px;text-align:center"><span id="s103"><i>ω</i><sub>1</sub></span></div>
<div class="x tb" style="left:1208.80px;top:198.30px;width:60.00px;text-align:center"><span id="s104"><i>γ</i><sub>1</sub></span></div>
<div class="x tb" style="left:1297.50px;top:198.30px;width:60.00px;text-align:center"><span id="s105"><i>γ</i>′<sub>1</sub></span></div>
<div class="x tb" style="left:1020.60px;top:220.10px;width:300.00px"><span id="s106">22</span></div>
<div class="x tb" style="left:1071.00px;top:220.10px;width:300.00px"><span id="s107">4.290</span></div>
<div class="x tb" style="left:1112.40px;top:220.10px;width:300.00px"><span id="s108">1.184 × 10<sup>−3</sup></span></div>
<div class="x tb" style="left:1200.60px;top:220.10px;width:300.00px"><span id="s109">3.011 × 10<sup>−5</sup></span></div>
<div class="x tb" style="left:1288.30px;top:220.10px;width:300.00px"><span id="s110">3.990 × 10<sup>−6</sup></span></div>
<div class="x tb" style="left:1020.60px;top:236.40px;width:300.00px"><span id="s111">100</span></div>
<div class="x tb" style="left:1071.00px;top:236.40px;width:300.00px"><span id="s112">4.326</span></div>
<div class="x tb" style="left:1112.40px;top:236.40px;width:300.00px"><span id="s113">1.168 × 10<sup>−3</sup></span></div>
<div class="x tb" style="left:1200.60px;top:236.40px;width:300.00px"><span id="s114">4.181 × 10<sup>−5</sup></span></div>
<div class="x tb" style="left:1288.30px;top:236.40px;width:300.00px"><span id="s115">2.877 × 10<sup>−5</sup></span></div>
<div class="x tb" style="left:1020.60px;top:252.70px;width:300.00px"><span id="s116">200</span></div>
<div class="x tb" style="left:1071.00px;top:252.70px;width:300.00px"><span id="s117">4.428</span></div>
<div class="x tb" style="left:1112.40px;top:252.70px;width:300.00px"><span id="s118">1.148 × 10<sup>−3</sup></span></div>
<div class="x tb" style="left:1200.60px;top:252.70px;width:300.00px"><span id="s119">6.214 × 10<sup>−5</sup></span></div>
<div class="x tb" style="left:1288.30px;top:252.70px;width:300.00px"><span id="s120">5.465 × 10<sup>−5</sup></span></div>
<div class="x tb" style="left:1020.60px;top:269.00px;width:300.00px"><span id="s121">300</span></div>
<div class="x tb" style="left:1071.00px;top:269.00px;width:300.00px"><span id="s122">4.678</span></div>
<div class="x tb" style="left:1112.40px;top:269.00px;width:300.00px"><span id="s123">1.125 × 10<sup>−3</sup></span></div>
<div class="x tb" style="left:1200.60px;top:269.00px;width:300.00px"><span id="s124">1.013 × 10<sup>−4</sup></span></div>
<div class="x tb" style="left:1288.30px;top:269.00px;width:300.00px"><span id="s125">7.072 × 10<sup>−5</sup></span></div>
<div class="x tb" style="left:1020.60px;top:285.30px;width:300.00px"><span id="s126">400</span></div>
<div class="x tb" style="left:1071.00px;top:285.30px;width:300.00px"><span id="s127">4.890</span></div>
<div class="x tb" style="left:1112.40px;top:285.30px;width:300.00px"><span id="s128">1.100 × 10<sup>−3</sup></span></div>
<div class="x tb" style="left:1200.60px;top:285.30px;width:300.00px"><span id="s129">1.633 × 10<sup>−4</sup></span></div>
<div class="x tb" style="left:1288.30px;top:285.30px;width:300.00px"><span id="s130">7.947 × 10<sup>−5</sup></span></div>
<div class="x tb" style="left:1020.60px;top:301.60px;width:300.00px"><span id="s131">500</span></div>
<div class="x tb" style="left:1071.00px;top:301.60px;width:300.00px"><span id="s132">5.442</span></div>
<div class="x tb" style="left:1112.40px;top:301.60px;width:300.00px"><span id="s133">1.089 × 10<sup>−3</sup></span></div>
<div class="x tb" style="left:1200.60px;top:301.60px;width:300.00px"><span id="s134">2.712 × 10<sup>−4</sup></span></div>
<div class="x tb" style="left:1288.30px;top:301.60px;width:300.00px"><span id="s135">7.685 × 10<sup>−5</sup></span></div>
<div class="x c" style="left:1008.80px;top:357.60px;width:371.00px;word-spacing:1.924px"><span id="s136">TABLE II. Temperature coefficients found by fitting IR pa-</span></div>
<div class="x c" style="left:1008.80px;top:375.10px;width:371.00px;word-spacing:1.461px"><span id="s137">rameters in Table I using Eq. (4). All <i>C</i><sub>2</sub> coefficients [<i>C</i><sub>2</sub><sup style="top:-0.75em">(<i>a</i><sub>1</sub>)</sup>,</span></div>
<div class="x c" style="left:1008.80px;top:395.40px;width:371.00px;word-spacing:2.000px"><span id="s138"><i>C</i><sub>2</sub><sup style="top:-0.75em">(<i>ω</i><sub>1</sub>)</sup>, <i>C</i><sub>2</sub><sup style="top:-0.75em">(<i>γ</i><sub>1</sub>)</sup>, <i>C</i><sub>2</sub><sup style="top:-0.75em">(<i>γ</i>′<sub>1</sub>)</sup>] are negative, which is why we indicate</span></div>
<div class="x c" style="left:1008.80px;top:411.70px;width:371.00px"><span id="s139">numerical values for −<i>C</i><sub>2</sub>.</span></div>
<div class="x tb" style="left:1038.70px;top:438.90px;width:60.00px;text-align:center"><span id="s140"><i>C</i><sub>0</sub></span></div>
<div class="x tb" style="left:1126.50px;top:438.90px;width:60.00px;text-align:center"><span id="s141"><i>C</i><sub>1</sub></span></div>
<div class="x tb" style="left:1215.10px;top:438.90px;width:60.00px;text-align:center"><span id="s142">−<i>C</i><sub>2</sub></span></div>
<div class="x tb" style="left:1302.90px;top:438.90px;width:60.00px;text-align:center"><span id="s143"><i>C</i><sub>3</sub></span></div>
<div class="x tb" style="left:1010.20px;top:462.00px;width:300.00px"><span id="s144"><i>a</i><sub>1</sub></span></div>
<div class="x tb" style="left:1031.40px;top:462.00px;width:300.00px"><span id="s145">4.280 × 10<sup>0</sup></span></div>
<div class="x tb" style="left:1101.50px;top:462.00px;width:100.00px;text-align:right"><span id="s146">2.246 × 10<sup>−1</sup></span></div>
<div class="x tb" style="left:1206.00px;top:462.00px;width:300.00px"><span id="s147">6.631 × 10<sup>−2</sup></span></div>
<div class="x tb" style="left:1277.00px;top:462.00px;width:100.00px;text-align:right"><span id="s148">2.183 × 10<sup>−1</sup></span></div>
<div class="x tb" style="left:1010.20px;top:478.60px;width:300.00px"><span id="s149"><i>ω</i><sub>1</sub></span></div>
<div class="x tb" style="left:1031.40px;top:478.60px;width:300.00px"><span id="s150">1.184 × 10<sup>−3</sup></span></div>
<div class="x tb" style="left:1101.50px;top:478.60px;width:100.00px;text-align:right"><span id="s151">−3.997 × 10<sup>−5</sup></span></div>
<div class="x tb" style="left:1206.00px;top:478.60px;width:300.00px"><span id="s152">4.251 × 10<sup>−5</sup></span></div>
<div class="x tb" style="left:1277.00px;top:478.60px;width:100.00px;text-align:right"><span id="s153">1.921 × 10<sup>−5</sup></span></div>
<div class="x tb" style="left:1010.20px;top:494.90px;width:300.00px"><span id="s154"><i>γ</i><sub>1</sub></span></div>
<div class="x tb" style="left:1031.40px;top:494.90px;width:300.00px"><span id="s155">2.950 × 10<sup>−5</sup></span></div>
<div class="x tb" style="left:1101.50px;top:494.90px;width:100.00px;text-align:right"><span id="s156">4.938 × 10<sup>−5</sup></span></div>
<div class="x tb" style="left:1206.00px;top:494.90px;width:300.00px"><span id="s157">2.370 × 10<sup>−5</sup></span></div>
<div class="x tb" style="left:1277.00px;top:494.90px;width:100.00px;text-align:right"><span id="s158">5.096 × 10<sup>−5</sup></span></div>
<div class="x tb" style="left:1010.20px;top:510.80px;width:300.00px"><span id="s159"><i>γ</i>′<sub>1</sub></span></div>
<div class="x tb" style="left:1031.40px;top:510.80px;width:300.00px"><span id="s160">3.275 × 10<sup>−6</sup></span></div>
<div class="x tb" style="left:1101.50px;top:510.80px;width:100.00px;text-align:right"><span id="s161">1.020 × 10<sup>−4</sup></span></div>
<div class="x tb" style="left:1206.00px;top:510.80px;width:300.00px"><span id="s162">2.881 × 10<sup>−5</sup></span></div>
<div class="x tb" style="left:1277.00px;top:510.80px;width:100.00px;text-align:right"><span id="s163">−3.685 × 10<sup>−6</sup></span></div>
<div class="x b" style="left:1008.80px;top:569.60px;width:371.00px;word-spacing:1.654px"><span id="s164">ible region has been analyzed by temperature-dependent</span></div>
<div class="x b" style="left:1008.80px;top:586.96px;width:371.00px;word-spacing:0.444px"><span id="s165">Sellmeier functional forms in Refs. [5] and [11]. Our aim</span></div>
<div class="x b" style="left:1008.80px;top:604.32px;width:371.00px;word-spacing:1.023px"><span id="s166">is to represent the temperature dependence of the dielec-</span></div>
<div class="x b" style="left:1008.80px;top:621.68px;width:371.00px;word-spacing:0.484px"><span id="s167">tric function using an economic functional form that cap-</span></div>
<div class="x b" style="left:1008.80px;top:639.04px;width:371.00px;word-spacing:2.723px"><span id="s168">tures the temperature dependence in the IR and visible</span></div>
<div class="x b" style="left:1008.80px;top:656.40px;width:371.00px;word-spacing:2.530px"><span id="s169">region and also reproduces the peaks in the UV region</span></div>
<div class="x b" style="left:1008.80px;top:673.76px;width:371.00px;word-spacing:2.547px"><span id="s170">which are mostly temperature independent, and to con-</span></div>
<div class="x b" style="left:1008.80px;top:691.12px;width:371.00px;word-spacing:2.467px"><span id="s171">front the results with first-principles calculations in the</span></div>
<div class="x b" style="left:1008.80px;top:708.48px;width:371.00px"><span id="s172">UV region.</span></div>
<div class="x b" style="left:1008.80px;top:726.44px;width:371.00px;padding-left:15.30px;width:355.70px;word-spacing:3.024px"><span id="s173">This paper is organized as follows. In Sec. II A, we</span></div>
<div class="x b" style="left:1008.80px;top:743.80px;width:371.00px;word-spacing:0.827px"><span id="s174">analyze, very briefly, the structure of the IR and UV res-</span></div>
<div class="x b" style="left:1008.80px;top:761.16px;width:371.00px;word-spacing:1.303px"><span id="s175">onances of CaF<sub>2</sub>. The IR peak, including its temperature</span></div>
<div class="x b" style="left:1008.80px;top:778.52px;width:371.00px;word-spacing:1.766px"><span id="s176">dependence, is analyzed in Sec. II B. The UV peaks are</span></div>
<div class="x b" style="left:1008.80px;top:795.88px;width:371.00px;word-spacing:2.834px"><span id="s177">analyzed in Sec. II C. Results for the temperature- and</span></div>
<div class="x b" style="left:1008.80px;top:813.24px;width:371.00px;word-spacing:1.778px"><span id="s178">frequency-dependent dielectric function are discussed in</span></div>
<div class="x b" style="left:1008.80px;top:830.60px;width:371.00px;word-spacing:1.800px"><span id="s179">Sec. II D. In Sec. III, we provide additional insight into</span></div>
<div class="x b" style="left:1008.80px;top:847.96px;width:371.00px;word-spacing:1.250px"><span id="s180">the UV response of CaF<sub>2</sub> through TDDFT. Atom-surface</span></div>
<div class="x b" style="left:1008.80px;top:865.32px;width:371.00px;word-spacing:2.008px"><span id="s181">potentials are calculated in Sec. IV. Conclusions are re-</span></div>
<div class="x b" style="left:1008.80px;top:882.68px;width:371.00px;word-spacing:2.161px"><span id="s182">served for Sec. V. A statistical analysis of the fit is de-</span></div>
<div class="x b" style="left:1008.80px;top:900.04px;width:371.00px;word-spacing:1.947px"><span id="s183">scribed in Appendix A, and an illustrative discussion of</span></div>
<div class="x b" style="left:1008.80px;top:917.40px;width:371.00px"><span id="s184">the natural cleavage planes is contained in Appendix B.</span></div>
<div class="x h" style="left:1045.30px;top:967.50px;width:296.60px;word-spacing:0.570px"><span id="s185"><span style="display:inline-block;width:33.3px">II.</span>DIELECTRIC FUNCTION OF CaF<sub>2</sub></span></div>
<div class="x h" style="left:1138.50px;top:1005.30px;width:111.50px"><span id="s186"><span style="display:inline-block;width:32.4px">A.</span>Resonances</span></div>
<div class="x b" style="left:1008.80px;top:1043.30px;width:371.00px;padding-left:15.30px;width:355.70px;word-spacing:4.073px"><span id="s187">A careful examination of the experimental data ob-</span></div>
<div class="x b" style="left:1008.80px;top:1060.65px;width:371.00px;word-spacing:0.542px"><span id="s188">tained in Refs. [5–11, 13, 14] reveals the presence of one</span></div>
<div class="x b" style="left:1008.80px;top:1078.00px;width:371.00px;word-spacing:0.483px"><span id="s189">dominant IR resonance and a total of five UV resonances</span></div>
<div class="x c" style="left:1407.00px;top:89.30px;width:371.00px;word-spacing:0.029px"><span id="s190">TABLE III. Parameters for fitting the dielectric function, <i>ϵ</i>(<i>ω</i>)</span></div>
<div class="x c" style="left:1407.00px;top:105.00px;width:371.00px"><span id="s191">against the data from Refs. [7, 10, 14].</span></div>
<div class="x tb" style="left:1413.40px;top:134.00px;width:300.00px"><span id="s192"><i>k</i></span></div>
<div class="x tb" style="left:1436.50px;top:134.00px;width:60.00px;text-align:center"><span id="s193"><i>a<sub>k</sub></i></span></div>
<div class="x tb" style="left:1522.00px;top:134.00px;width:60.00px;text-align:center"><span id="s194"><i>ω<sub>k</sub></i></span></div>
<div class="x tb" style="left:1607.40px;top:134.00px;width:60.00px;text-align:center"><span id="s195"><i>γ<sub>k</sub></i></span></div>
<div class="x tb" style="left:1698.80px;top:134.00px;width:60.00px;text-align:center"><span id="s196"><i>γ</i>′<sub><i>k</i></sub></span></div>
<div class="x tb" style="left:1413.40px;top:157.30px;width:300.00px"><span id="s197">2</span></div>
<div class="x tb" style="left:1427.50px;top:157.30px;width:300.00px"><span id="s198">7.733 × 10<sup>−2</sup></span></div>
<div class="x tb" style="left:1513.50px;top:157.30px;width:300.00px"><span id="s199">4.011 × 10<sup>−1</sup></span></div>
<div class="x tb" style="left:1598.40px;top:157.30px;width:300.00px"><span id="s200">2.047 × 10<sup>−2</sup></span></div>
<div class="x tb" style="left:1671.40px;top:157.30px;width:100.00px;text-align:right"><span id="s201">2.767 × 10<sup>−1</sup></span></div>
<div class="x tb" style="left:1413.40px;top:173.65px;width:300.00px"><span id="s202">3</span></div>
<div class="x tb" style="left:1427.50px;top:173.65px;width:300.00px"><span id="s203">1.264 × 10<sup>−1</sup></span></div>
<div class="x tb" style="left:1513.50px;top:173.65px;width:300.00px"><span id="s204">4.737 × 10<sup>−1</sup></span></div>
<div class="x tb" style="left:1598.40px;top:173.65px;width:300.00px"><span id="s205">2.835 × 10<sup>−2</sup></span></div>
<div class="x tb" style="left:1671.40px;top:173.65px;width:100.00px;text-align:right"><span id="s206">−9.653 × 10<sup>−2</sup></span></div>
<div class="x tb" style="left:1413.40px;top:190.00px;width:300.00px"><span id="s207">4</span></div>
<div class="x tb" style="left:1427.50px;top:190.00px;width:300.00px"><span id="s208">4.704 × 10<sup>−1</sup></span></div>
<div class="x tb" style="left:1513.50px;top:190.00px;width:300.00px"><span id="s209">5.321 × 10<sup>−1</sup></span></div>
<div class="x tb" style="left:1598.40px;top:190.00px;width:300.00px"><span id="s210">1.003 × 10<sup>−1</sup></span></div>
<div class="x tb" style="left:1671.40px;top:190.00px;width:100.00px;text-align:right"><span id="s211">2.151 × 10<sup>−1</sup></span></div>
<div class="x tb" style="left:1413.40px;top:206.35px;width:300.00px"><span id="s212">5</span></div>
<div class="x tb" style="left:1427.50px;top:206.35px;width:300.00px"><span id="s213">3.393 × 10<sup>−1</sup></span></div>
<div class="x tb" style="left:1513.50px;top:206.35px;width:300.00px"><span id="s214">1.043 × 10<sup>0</sup></span></div>
<div class="x tb" style="left:1598.40px;top:206.35px;width:300.00px"><span id="s215">4.762 × 10<sup>−1</sup></span></div>
<div class="x tb" style="left:1671.40px;top:206.35px;width:100.00px;text-align:right"><span id="s216">−4.610 × 10<sup>−1</sup></span></div>
<div class="x tb" style="left:1413.40px;top:222.70px;width:300.00px"><span id="s217">6</span></div>
<div class="x tb" style="left:1427.50px;top:222.70px;width:300.00px"><span id="s218">4.173 × 10<sup>−2</sup></span></div>
<div class="x tb" style="left:1513.50px;top:222.70px;width:300.00px"><span id="s219">1.234 × 10<sup>0</sup></span></div>
<div class="x tb" style="left:1598.40px;top:222.70px;width:300.00px"><span id="s220">9.917 × 10<sup>−2</sup></span></div>
<div class="x tb" style="left:1671.40px;top:222.70px;width:100.00px;text-align:right"><span id="s221">1.813 × 10<sup>0</sup></span></div>
<div class="x c" style="left:1407.00px;top:679.00px;width:371.00px;word-spacing:1.502px"><span id="s222">FIG. 1. Experimental data of the dielectric function of CaF<sub>2</sub></span></div>
<div class="x c" style="left:1407.00px;top:694.80px;width:371.00px;word-spacing:3.690px"><span id="s223">single crystals versus wavelength <i>λ</i> (adapted with permis-</span></div>
<div class="x c" style="left:1407.00px;top:710.60px;width:371.00px;word-spacing:-0.327px"><span id="s224">sion [23] from Fig. 5 of Ref. [14]). Five resonances are clearly</span></div>
<div class="x c" style="left:1407.00px;top:726.40px;width:371.00px;word-spacing:3.920px"><span id="s225">identified. The authors of Ref. [14] use the identification</span></div>
<div class="x c" style="left:1407.00px;top:742.20px;width:371.00px;word-spacing:2.087px"><span id="s226"><i>ε</i><sub>1</sub> ≡ Re(<i>ϵ</i>) and <i>ε</i><sub>2</sub> ≡ Im(<i>ϵ</i>). The extracted purple curve (real</span></div>
<div class="x c" style="left:1407.00px;top:758.00px;width:371.00px;word-spacing:0.482px"><span id="s227">part) and the yellow curve (imaginary part) are superimposed</span></div>
<div class="x c" style="left:1407.00px;top:773.80px;width:371.00px"><span id="s228">on the numerical data of Ref. [14].</span></div>
<div class="x b" style="left:1407.00px;top:836.00px;width:371.00px;word-spacing:3.188px"><span id="s229">(see Fig. 1). The Lorentz–Dirac model is thus used in</span></div>
<div class="x b" style="left:1407.00px;top:853.00px;width:371.00px"><span id="s230">the form (see Refs. [16, 17])</span></div>
<div class="x b" style="left:1465.00px;top:900.80px;width:300.00px"><span id="s231"><i>ϵ</i>(<i>T</i><sub>Δ</sub>, <i>ω</i>) = 1 +</span></div>
<div class="x c" style="left:1556.20px;top:882.20px;width:60.00px;text-align:center"><span id="s232"><i>k</i><sub style="font-size:75%;top:0.2em">max</sub>=6</span></div>
<div class="x c" style="left:1556.20px;top:918.50px;width:60.00px;text-align:center"><span id="s233"><i>k</i>=1</span></div>
<div class="x b" style="left:1601.10px;top:890.70px;width:120.00px;text-align:center"><span id="s234"><i>a<sub>k</sub></i>(<i>ω</i><sup>2</sup><sub style="margin-left:-0.55em"><i>k</i></sub> − i<i>γ</i>′<sub><i>k</i></sub><i>ω</i>)</span></div>
<div class="x b" style="left:1601.10px;top:910.20px;width:120.00px;text-align:center"><span id="s235"><i>ω</i><sup>2</sup><sub style="margin-left:-0.55em"><i>k</i></sub> − <i>ω</i><sup>2</sup> − i<i>ωγ<sub>k</sub></i></span></div>
<div class="x b" style="left:1716.00px;top:900.80px;width:300.00px"><span id="s236">.</span></div>
<div class="x b" style="left:1717.50px;top:900.80px;width:60.00px;text-align:right"><span id="s237">(1)</span></div>
<div class="x b" style="left:1407.00px;top:945.50px;width:371.00px"><span id="s238">Here,</span></div>
<div class="x b" style="left:1532.50px;top:977.00px;width:300.00px"><span id="s239"><i>T</i><sub>Δ</sub> = (<i>T</i> − <i>T</i><sub>0</sub>)/<i>T</i><sub>0</sub></span></div>
<div class="x b" style="left:1717.50px;top:977.00px;width:60.00px;text-align:right"><span id="s240">(2)</span></div>
<div class="x b" style="left:1407.00px;top:1009.10px;width:371.00px;word-spacing:4.243px"><span id="s241">is the reduced temperature. The value of <i>T</i><sub>0</sub> = 293 K</span></div>
<div class="x b" style="left:1407.00px;top:1026.38px;width:371.00px;word-spacing:2.328px"><span id="s242">(as opposed to, say, <i>T</i><sub>0</sub> = 295 K) is used here for room</span></div>
<div class="x b" style="left:1407.00px;top:1043.66px;width:371.00px"><span id="s243">temperature, in accordance with Refs. [16, 17].</span></div>
<div class="x b" style="left:1407.00px;top:1060.94px;width:371.00px;padding-left:15.30px;width:355.70px;word-spacing:2.180px"><span id="s244">The identification is as follows: The <i>ω<sub>k</sub></i> are the reso-</span></div>
<div class="x b" style="left:1407.00px;top:1078.22px;width:371.00px;word-spacing:2.828px"><span id="s245">nance frequencies, the <i>γ<sub>k</sub></i> are the width parameters, the</span></div>
<div class="x pn" style="left:2405.00px;top:39.70px;width:300.00px;text-align:right"><span id="s246">3</span></div>
<div class="x c" style="left:2051.40px;top:350.80px;width:538.20px;word-spacing:3.821px"><span id="s247">FIG. 2. Real part of the dielectric function Re[<i>ϵ</i>(<i>ω</i>)], plotted using the temperature</span></div>
<div class="x c" style="left:2051.40px;top:366.70px;width:538.20px"><span id="s248">coefficients from Table II for the IR resonance and the UV parameters from Table III.</span></div>
<div class="x c" style="left:2086.40px;top:689.90px;width:471.60px;word-spacing:1.411px"><span id="s249">FIG. 3. Same as Fig. 2, but for the imaginary part of the dielectric function.</span></div>
<div class="x b" style="left:1935.80px;top:752.50px;width:371.00px;word-spacing:1.699px"><span id="s250"><i>γ</i>′<sub><i>k</i></sub> are the radiation-reaction parameters, and the param-</span></div>
<div class="x b" style="left:1935.80px;top:769.70px;width:371.00px;word-spacing:4.443px"><span id="s251">eters <i>a<sub>k</sub></i> represent the amplitudes. The relation of the</span></div>
<div class="x b" style="left:1935.80px;top:786.90px;width:371.00px;word-spacing:-0.713px"><span id="s252">generalized Sellmeier model (Lorentz–Dirac model) given</span></div>
<div class="x b" style="left:1935.80px;top:804.10px;width:371.00px;word-spacing:1.118px"><span id="s253">in Eq. (1) to coupled oscillators and radiative reaction is</span></div>
<div class="x b" style="left:1935.80px;top:821.30px;width:371.00px"><span id="s254">discussed in Ref. [19].</span></div>
<div class="x h" style="left:2054.20px;top:881.10px;width:133.80px;word-spacing:-0.444px"><span id="s255"><span style="display:inline-block;width:31.9px">B.</span>Giant IR Peak</span></div>
<div class="x b" style="left:1935.80px;top:921.60px;width:371.00px;padding-left:15.30px;width:355.70px;word-spacing:2.701px"><span id="s256">The very careful investigation in Ref. [6] is our pri-</span></div>
<div class="x b" style="left:1935.80px;top:938.96px;width:371.00px;word-spacing:5.203px"><span id="s257">mary resource for temperature-dependent data on the</span></div>
<div class="x b" style="left:1935.80px;top:956.31px;width:371.00px;word-spacing:4.506px"><span id="s258">frequency-dependent dielectric function around the IR</span></div>
<div class="x b" style="left:1935.80px;top:973.67px;width:371.00px;word-spacing:1.419px"><span id="s259">resonance at <i>ω</i> ≈ 1.18 × 10<sup>−3</sup> a.u.. However, even if one</span></div>
<div class="x b" style="left:1935.80px;top:991.02px;width:371.00px;word-spacing:1.842px"><span id="s260">were to restrict the discussion to the IR region alone, it</span></div>
<div class="x b" style="left:1935.80px;top:1008.38px;width:371.00px;word-spacing:0.762px"><span id="s261">would be inconsistent to obtain the fitting parameters for</span></div>
<div class="x b" style="left:1935.80px;top:1025.74px;width:371.00px;word-spacing:0.240px"><span id="s262">the coupled-oscillator model given in Eq. (1) based on IR</span></div>
<div class="x b" style="left:1935.80px;top:1043.09px;width:371.00px;word-spacing:1.552px"><span id="s263">data alone, because the functional form given in Eq. (1)</span></div>
<div class="x b" style="left:1935.80px;top:1060.45px;width:371.00px;word-spacing:2.653px"><span id="s264">is not restricted to a particular range of frequency val-</span></div>
<div class="x b" style="left:1935.80px;top:1077.80px;width:371.00px;word-spacing:3.325px"><span id="s265">ues, and a change in the fitting parameters for the IR</span></div>
<div class="x b" style="left:2334.00px;top:752.50px;width:371.00px;word-spacing:3.349px"><span id="s266">region may thus influence the behavior of <i>ϵ</i>(<i>ω</i>) in the</span></div>
<div class="x b" style="left:2334.00px;top:769.84px;width:371.00px;word-spacing:1.341px"><span id="s267">UV region as well. Thus, in order to allow for a smooth</span></div>
<div class="x b" style="left:2334.00px;top:787.18px;width:371.00px;word-spacing:4.846px"><span id="s268">transition to the transparent (visible) and UV region,</span></div>
<div class="x b" style="left:2334.00px;top:804.52px;width:371.00px;word-spacing:3.705px"><span id="s269">we use temperature-dependent data from Refs. [6, 11]</span></div>
<div class="x b" style="left:2334.00px;top:821.86px;width:371.00px;word-spacing:2.840px"><span id="s270">in order to fit the IR parameters, <i>i.e.</i>, the temperature-</span></div>
<div class="x b" style="left:2334.00px;top:839.20px;width:371.00px;word-spacing:2.599px"><span id="s271">dependent parameters <i>a</i><sub>1</sub>, <i>ω</i><sub>1</sub>, <i>γ</i><sub>1</sub> and <i>γ</i>′<sub>1</sub>, in the temper-</span></div>
<div class="x b" style="left:2334.00px;top:856.54px;width:371.00px;word-spacing:2.872px"><span id="s272">ature range 22°C &lt; <i>T</i> &lt; 500°C. For room temperature,</span></div>
<div class="x b" style="left:2334.00px;top:873.88px;width:371.00px;word-spacing:2.878px"><span id="s273">we have checked the consistency of the used data sets</span></div>
<div class="x b" style="left:2334.00px;top:891.22px;width:371.00px"><span id="s274">with Refs. [7–10]. Results are communicated in Table I.</span></div>
<div class="x b" style="left:2334.00px;top:919.36px;width:371.00px;padding-left:15.30px;width:355.70px;word-spacing:2.321px"><span id="s275">We define the dimensionless reduced-temperature pa-</span></div>
<div class="x b" style="left:2334.00px;top:936.70px;width:371.00px"><span id="s276">rameter <i>T</i><sub>Δ</sub> as</span></div>
<div class="x b" style="left:2419.40px;top:998.90px;width:300.00px"><span id="s277"><i>T</i><sub>Δ</sub> =</span></div>
<div class="x b" style="left:2450.00px;top:990.00px;width:60.00px;text-align:center"><span id="s278"><i>T</i> − <i>T</i><sub>0</sub></span></div>
<div class="x b" style="left:2450.00px;top:1009.90px;width:60.00px;text-align:center"><span id="s279"><i>T</i><sub>0</sub></span></div>
<div class="x b" style="left:2506.00px;top:998.90px;width:300.00px"><span id="s280">;</span></div>
<div class="x b" style="left:2543.80px;top:998.90px;width:300.00px"><span id="s281"><i>T</i><sub>0</sub> = 293K ,</span></div>
<div class="x b" style="left:2644.00px;top:998.90px;width:60.00px;text-align:right"><span id="s282">(3)</span></div>
<div class="x b" style="left:2334.00px;top:1060.10px;width:371.00px;word-spacing:3.609px"><span id="s283">and find that the IR parameters for different tempera-</span></div>
<div class="x b" style="left:2334.00px;top:1077.50px;width:371.00px;word-spacing:2.721px"><span id="s284">tures can be expressed succinctly with a cubic polyno-</span></div>
<div class="x pn" style="left:3332.00px;top:39.70px;width:300.00px;text-align:right"><span id="s285">4</span></div>
<div class="x c" style="left:2882.70px;top:607.00px;width:730.20px;word-spacing:1.940px"><span id="s286">FIG. 4. The real part of the dielectric function, Re[<i>ϵ</i>(<i>ω</i>)] is shown at different temperatures [panel (a) for <i>T</i> = 22 °C,</span></div>
<div class="x c" style="left:2882.70px;top:622.93px;width:730.20px;word-spacing:1.358px"><span id="s287">panel (b) for <i>T</i> = 100 °C, panel (c) for <i>T</i> = 300 °C, panel (d) for <i>T</i> = 500 °C]. The IR parameters from Table I and the</span></div>
<div class="x c" style="left:2882.70px;top:638.86px;width:730.20px;word-spacing:0.774px"><span id="s288">UV parameters from Table III are employed. The black dashed line represents the fit; the blue, red and green curves are</span></div>
<div class="x c" style="left:2882.70px;top:654.79px;width:730.20px"><span id="s289">from Ref. [6] (Passerat de Silans <i>et al.</i>), Ref. [11] (Zheng <i>et al.</i>), and Ref. [14] (Lemonnier <i>et al.</i>), respectively.</span></div>
<div class="x b" style="left:2862.80px;top:704.00px;width:371.00px"><span id="s290">mial, as follows,</span></div>
<div class="x b" style="left:2884.30px;top:738.30px;width:301.00px;word-spacing:3.087px"><span id="s291"><i>a</i><sub>1</sub> = <i>C</i><sub>0</sub><sup style="top:-0.75em;margin-left:-0.35em">(<i>a</i><sub>1</sub>)</sup> + <i>C</i><sub>1</sub><sup style="top:-0.75em;margin-left:-0.35em">(<i>a</i><sub>1</sub>)</sup> <i>T</i><sub>Δ</sub> + <i>C</i><sub>2</sub><sup style="top:-0.75em;margin-left:-0.35em">(<i>a</i><sub>1</sub>)</sup><i>T</i><sup>2</sup><sub style="margin-left:-0.5em">Δ</sub> + <i>C</i><sub>3</sub><sup style="top:-0.75em;margin-left:-0.35em">(<i>a</i><sub>1</sub>)</sup> <i>T</i><sup>3</sup><sub style="margin-left:-0.5em">Δ</sub> ,</span></div>
<div class="x b" style="left:3174.00px;top:738.30px;width:60.00px;text-align:right"><span id="s292">(4a)</span></div>
<div class="x b" style="left:2884.30px;top:763.20px;width:302.90px;word-spacing:2.171px"><span id="s293"><i>ω</i><sub>1</sub> = <i>C</i><sub>0</sub><sup style="top:-0.75em;margin-left:-0.35em">(<i>ω</i><sub>1</sub>)</sup> + <i>C</i><sub>1</sub><sup style="top:-0.75em;margin-left:-0.35em">(<i>ω</i><sub>1</sub>)</sup> <i>T</i><sub>Δ</sub> + <i>C</i><sub>2</sub><sup style="top:-0.75em;margin-left:-0.35em">(<i>ω</i><sub>1</sub>)</sup><i>T</i><sup>2</sup><sub style="margin-left:-0.5em">Δ</sub> + <i>C</i><sub>3</sub><sup style="top:-0.75em;margin-left:-0.35em">(<i>ω</i><sub>1</sub>)</sup> <i>T</i><sup>3</sup><sub style="margin-left:-0.5em">Δ</sub> ,</span></div>
<div class="x b" style="left:3174.00px;top:763.20px;width:60.00px;text-align:right"><span id="s294">(4b)</span></div>
<div class="x b" style="left:2884.30px;top:789.80px;width:300.20px;word-spacing:3.571px"><span id="s295"><i>γ</i><sub>1</sub> = <i>C</i><sub>0</sub><sup style="top:-0.75em;margin-left:-0.35em">(<i>γ</i><sub>1</sub>)</sup> + <i>C</i><sub>1</sub><sup style="top:-0.75em;margin-left:-0.35em">(<i>γ</i><sub>1</sub>)</sup> <i>T</i><sub>Δ</sub> + <i>C</i><sub>2</sub><sup style="top:-0.75em;margin-left:-0.35em">(<i>γ</i><sub>1</sub>)</sup><i>T</i><sup>2</sup><sub style="margin-left:-0.5em">Δ</sub> + <i>C</i><sub>3</sub><sup style="top:-0.75em;margin-left:-0.35em">(<i>γ</i><sub>1</sub>)</sup> <i>T</i><sup>3</sup><sub style="margin-left:-0.5em">Δ</sub> ,</span></div>
<div class="x b" style="left:3174.00px;top:789.80px;width:60.00px;text-align:right"><span id="s296">(4c)</span></div>
<div class="x b" style="left:2884.30px;top:817.00px;width:297.90px;word-spacing:2.063px"><span id="s297"><i>γ</i>′<sub>1</sub> = <i>C</i><sub>0</sub><sup style="top:-0.75em;margin-left:-0.35em">(<i>γ</i>′<sub>1</sub>)</sup> + <i>C</i><sub>1</sub><sup style="top:-0.75em;margin-left:-0.35em">(<i>γ</i>′<sub>1</sub>)</sup> <i>T</i><sub>Δ</sub> + <i>C</i><sub>2</sub><sup style="top:-0.75em;margin-left:-0.35em">(<i>γ</i>′<sub>1</sub>)</sup><i>T</i><sup>2</sup><sub style="margin-left:-0.5em">Δ</sub> + <i>C</i><sub>3</sub><sup style="top:-0.75em;margin-left:-0.35em">(<i>γ</i>′<sub>1</sub>)</sup> <i>T</i><sup>3</sup><sub style="margin-left:-0.5em">Δ</sub> .</span></div>
<div class="x b" style="left:3174.00px;top:817.00px;width:60.00px;text-align:right"><span id="s298">(4d)</span></div>
<div class="x b" style="left:2862.80px;top:849.00px;width:371.00px;word-spacing:2.658px"><span id="s299">Numerical results are presented in Table II. In contrast</span></div>
<div class="x b" style="left:2862.80px;top:866.35px;width:371.00px;word-spacing:1.970px"><span id="s300">to Refs. [16, 17], we find that quadratic polynomials in</span></div>
<div class="x b" style="left:2862.80px;top:883.70px;width:371.00px;word-spacing:2.915px"><span id="s301"><i>T</i><sub>Δ</sub> are insufficient to capture the observed temperature</span></div>
<div class="x b" style="left:2862.80px;top:901.05px;width:371.00px;word-spacing:3.016px"><span id="s302">dependence; third-order polynomials lead to a satisfac-</span></div>
<div class="x b" style="left:2862.80px;top:918.40px;width:371.00px"><span id="s303">tory fit.</span></div>
<div class="x h" style="left:2909.80px;top:969.10px;width:277.00px;word-spacing:-0.500px"><span id="s304"><span style="display:inline-block;width:32.2px">C.</span>UV Peaks and Transparent Region</span></div>
<div class="x b" style="left:2862.80px;top:1008.10px;width:371.00px;padding-left:15.30px;width:355.70px;word-spacing:3.043px"><span id="s305">For the UV region, the main source of data is from</span></div>
<div class="x b" style="left:2862.80px;top:1025.43px;width:371.00px;word-spacing:3.073px"><span id="s306">Ref. [14] (see also Fig. 1). In the visible (transparent)</span></div>
<div class="x b" style="left:2862.80px;top:1042.76px;width:371.00px;word-spacing:3.074px"><span id="s307">region, there are no discernible resonances. Hence, for</span></div>
<div class="x b" style="left:2862.80px;top:1060.09px;width:371.00px;word-spacing:3.025px"><span id="s308">temperature-dependent high-precision data in the trans-</span></div>
<div class="x b" style="left:2862.80px;top:1077.42px;width:371.00px;word-spacing:0.023px"><span id="s309">parent region, we use the most recent, high-precision data</span></div>
<div class="x b" style="left:3261.00px;top:702.40px;width:371.00px;word-spacing:1.664px"><span id="s310">set from Ref. [11], which is more detailed than the data</span></div>
<div class="x b" style="left:3261.00px;top:719.84px;width:371.00px;word-spacing:0.602px"><span id="s311">set provided in Ref. [5] and, as we have checked, consis-</span></div>
<div class="x b" style="left:3261.00px;top:737.28px;width:371.00px;word-spacing:2.145px"><span id="s312">tent with the data sets of Refs. [7–10], which had been</span></div>
<div class="x b" style="left:3261.00px;top:754.72px;width:371.00px;word-spacing:3.096px"><span id="s313">obtained for temperatures very close to room tempera-</span></div>
<div class="x b" style="left:3261.00px;top:772.16px;width:371.00px;word-spacing:1.333px"><span id="s314">ture. The inclusion of the data sets relevant to the trans-</span></div>
<div class="x b" style="left:3261.00px;top:789.60px;width:371.00px;word-spacing:0.867px"><span id="s315">parent region ensures a smooth transition into the visible</span></div>
<div class="x b" style="left:3261.00px;top:807.04px;width:371.00px;word-spacing:3.200px"><span id="s316">optical range. The coefficients for 2 ≤ <i>k</i> ≤ 6 resulting</span></div>
<div class="x b" style="left:3261.00px;top:824.48px;width:371.00px"><span id="s317">from the nonlinear fit are reported in Table III.</span></div>
<div class="x b" style="left:3261.00px;top:852.10px;width:371.00px;padding-left:15.30px;width:355.70px;word-spacing:9.732px"><span id="s318">For the UV peaks, we assume a temperature-</span></div>
<div class="x b" style="left:3261.00px;top:869.41px;width:371.00px;word-spacing:1.853px"><span id="s319">independent model, for reasons described in the follow-</span></div>
<div class="x b" style="left:3261.00px;top:886.72px;width:371.00px;word-spacing:1.992px"><span id="s320">ing. Temperature-dependent data for the dielectric func-</span></div>
<div class="x b" style="left:3261.00px;top:904.03px;width:371.00px;word-spacing:2.047px"><span id="s321">tion have been obtained in Refs. [10, 11], for the inter-</span></div>
<div class="x b" style="left:3261.00px;top:921.34px;width:371.00px;word-spacing:1.973px"><span id="s322">mediate range corresponding to the visible spectrum. In</span></div>
<div class="x b" style="left:3261.00px;top:938.65px;width:371.00px;word-spacing:1.438px"><span id="s323">this region, CaF<sub>2</sub> is largely transparent. From an inspec-</span></div>
<div class="x b" style="left:3261.00px;top:955.96px;width:371.00px;word-spacing:2.300px"><span id="s324">tion of the data presented in Refs. [10, 11], it becomes</span></div>
<div class="x b" style="left:3261.00px;top:973.27px;width:371.00px;word-spacing:3.334px"><span id="s325">clear that, near the transition to the UV, both the real</span></div>
<div class="x b" style="left:3261.00px;top:990.58px;width:371.00px;word-spacing:1.990px"><span id="s326">as well as the imaginary parts of the dielectric function</span></div>
<div class="x b" style="left:3261.00px;top:1007.89px;width:371.00px;word-spacing:1.536px"><span id="s327">change by less than a percent between 273 K and 773 K</span></div>
<div class="x b" style="left:3261.00px;top:1025.20px;width:371.00px;word-spacing:1.381px"><span id="s328">(0 °C and 500 °C). For the IR and visible range, and the</span></div>
<div class="x b" style="left:3261.00px;top:1042.51px;width:371.00px;word-spacing:1.074px"><span id="s329">transition region to the ultraviolet, we conservatively es-</span></div>
<div class="x b" style="left:3261.00px;top:1059.82px;width:371.00px;word-spacing:1.476px"><span id="s330">timate the general accuracy of our fit to be on the order</span></div>
<div class="x b" style="left:3261.00px;top:1077.13px;width:371.00px;word-spacing:0.258px"><span id="s331">of about 5 %, even if the statistics of our fit in this region</span></div>
<div class="x pn" style="left:4259.00px;top:39.70px;width:300.00px;text-align:right"><span id="s332">5</span></div>
<div class="x c" style="left:3941.50px;top:604.10px;width:465.30px;word-spacing:0.961px"><span id="s333">FIG. 5. Same as Fig. 4, but for the imaginary part of the dielectric function.</span></div>
<div class="x b" style="left:3789.80px;top:655.40px;width:371.00px;word-spacing:0.866px"><span id="s334">would suggest a smaller uncertainty (see Appendices A 1</span></div>
<div class="x b" style="left:3789.80px;top:672.76px;width:371.00px;word-spacing:2.003px"><span id="s335">and A 2, as well as Tables IV and V). The conservative</span></div>
<div class="x b" style="left:3789.80px;top:690.11px;width:371.00px;word-spacing:2.309px"><span id="s336">estimate of a 5 % uncertainty takes care of conceivable</span></div>
<div class="x b" style="left:3789.80px;top:707.47px;width:371.00px;word-spacing:1.526px"><span id="s337">unaccounted systematic effects in the experimental data,</span></div>
<div class="x b" style="left:3789.80px;top:724.83px;width:371.00px;word-spacing:1.748px"><span id="s338">as obtained in the ellipsometry measurements [5, 7–11],</span></div>
<div class="x b" style="left:3789.80px;top:742.18px;width:371.00px;word-spacing:1.892px"><span id="s339">and is in line with typical accuracy limits of ellipsome-</span></div>
<div class="x b" style="left:3789.80px;top:759.54px;width:371.00px;word-spacing:0.864px"><span id="s340">try measurements for comparable materials [16, 17]. The</span></div>
<div class="x b" style="left:3789.80px;top:776.90px;width:371.00px;word-spacing:2.371px"><span id="s341">5 % uncertainty is larger than the observed temperature</span></div>
<div class="x b" style="left:3789.80px;top:794.26px;width:371.00px;word-spacing:4.910px"><span id="s342">variation in that same transition region. We are thus</span></div>
<div class="x b" style="left:3789.80px;top:811.61px;width:371.00px;word-spacing:2.627px"><span id="s343">safe to assume that, within the accuracy of our fit, the</span></div>
<div class="x b" style="left:3789.80px;top:828.97px;width:371.00px;word-spacing:1.717px"><span id="s344">temperature dependence in the UV can be ignored. This</span></div>
<div class="x b" style="left:3789.80px;top:846.33px;width:371.00px;word-spacing:0.528px"><span id="s345">conjecture is tied to the fact that the UV resonances arise</span></div>
<div class="x b" style="left:3789.80px;top:863.68px;width:371.00px;word-spacing:1.605px"><span id="s346">from electronic interband transitions, and it appears that</span></div>
<div class="x b" style="left:3789.80px;top:881.04px;width:371.00px;word-spacing:1.529px"><span id="s347">the band gap is virtually independent of thermal effects.</span></div>
<div class="x b" style="left:3789.80px;top:898.40px;width:371.00px;word-spacing:2.542px"><span id="s348">By contrast, the IR peaks are related to vibrational ex-</span></div>
<div class="x b" style="left:3789.80px;top:915.75px;width:371.00px"><span id="s349">citations of the crystal lattice.</span></div>
<div class="x b" style="left:3789.80px;top:938.50px;width:371.00px;padding-left:15.30px;width:355.70px;word-spacing:-0.325px"><span id="s350">In the fitting, we have been careful to avoid introducing</span></div>
<div class="x b" style="left:3789.80px;top:955.97px;width:371.00px;word-spacing:0.344px"><span id="s351">a conceivable, numerically small spurious negative imag-</span></div>
<div class="x b" style="left:3789.80px;top:973.44px;width:371.00px;word-spacing:3.139px"><span id="s352">inary part of the dielectric function, <i>i.e.</i>, to implement</span></div>
<div class="x b" style="left:3789.80px;top:990.91px;width:371.00px;word-spacing:2.922px"><span id="s353">the condition Im[<i>ϵ</i>(<i>ω</i>)] ≥ 0, especially in the transition</span></div>
<div class="x b" style="left:3789.80px;top:1008.38px;width:371.00px;word-spacing:2.045px"><span id="s354">region between the IR and UV peaks, where the imagi-</span></div>
<div class="x b" style="left:3789.80px;top:1025.85px;width:371.00px;word-spacing:1.710px"><span id="s355">nary (absorptive) part of the dielectric function assumes</span></div>
<div class="x b" style="left:3789.80px;top:1043.32px;width:371.00px;word-spacing:0.510px"><span id="s356">very small numerical values (see also Ref. [17]). The im-</span></div>
<div class="x b" style="left:3789.80px;top:1060.79px;width:371.00px;word-spacing:0.880px"><span id="s357">plementation of this requirement is relatively straightfor-</span></div>
<div class="x b" style="left:3789.80px;top:1078.26px;width:371.00px;word-spacing:1.228px"><span id="s358">ward and can be accomplished by introducing additional</span></div>
<div class="x b" style="left:4188.00px;top:655.40px;width:371.00px"><span id="s359">constraints in the nonlinear fits [24].</span></div>
<div class="x h" style="left:4331.80px;top:708.50px;width:83.80px"><span id="s360"><span style="display:inline-block;width:32.4px">D.</span>Results</span></div>
<div class="x b" style="left:4188.00px;top:747.80px;width:371.00px;padding-left:15.30px;width:355.70px;word-spacing:0.167px"><span id="s361">The fitting procedures outlined in the previous sections</span></div>
<div class="x b" style="left:4188.00px;top:765.16px;width:371.00px;word-spacing:2.932px"><span id="s362">lead to a satisfactory representation of the optical data</span></div>
<div class="x b" style="left:4188.00px;top:782.52px;width:371.00px;word-spacing:3.067px"><span id="s363">for CaF<sub>2</sub> in the temperature range 22°C &lt; <i>T</i> &lt; 500°C.</span></div>
<div class="x b" style="left:4188.00px;top:799.88px;width:371.00px;word-spacing:4.033px"><span id="s364">This corresponds to the range 0 &lt; <i>T</i><sub>Δ</sub> &lt; 1.71 for the</span></div>
<div class="x b" style="left:4188.00px;top:817.24px;width:371.00px;word-spacing:1.203px"><span id="s365">reduced temperature. Following the validation of the ex-</span></div>
<div class="x b" style="left:4188.00px;top:834.60px;width:371.00px;word-spacing:1.184px"><span id="s366">traction procedure for the UV data (see Fig. 1), we refer</span></div>
<div class="x b" style="left:4188.00px;top:851.96px;width:371.00px;word-spacing:1.533px"><span id="s367">to Figs. 2 and 3 for the overall characteristics of the di-</span></div>
<div class="x b" style="left:4188.00px;top:869.32px;width:371.00px;word-spacing:1.195px"><span id="s368">electric functions (real and imaginary parts) in the range</span></div>
<div class="x b" style="left:4188.00px;top:886.68px;width:371.00px;word-spacing:1.189px"><span id="s369">0 &lt; <i>ω</i> &lt; 1.8 a.u., and 0 &lt; <i>T</i><sub>Δ</sub> &lt; 1.71. The real part of the</span></div>
<div class="x b" style="left:4188.00px;top:904.04px;width:371.00px;word-spacing:1.589px"><span id="s370">dielectric function is investigated in Fig. 4 for four spe-</span></div>
<div class="x b" style="left:4188.00px;top:921.40px;width:371.00px;word-spacing:2.303px"><span id="s371">cific temperatures (<i>T</i> = 22 °C, <i>T</i> = 100 °C, <i>T</i> = 300 °C,</span></div>
<div class="x b" style="left:4188.00px;top:938.76px;width:371.00px;word-spacing:2.117px"><span id="s372"><i>T</i> = 400 °C). The same is done in Fig. 5 for the imagi-</span></div>
<div class="x b" style="left:4188.00px;top:956.12px;width:371.00px"><span id="s373">nary part.</span></div>
<div class="x b" style="left:4188.00px;top:973.88px;width:371.00px;padding-left:15.30px;width:355.70px;word-spacing:4.132px"><span id="s374">From Fig. 6, it becomes clear that our fit leads to</span></div>
<div class="x b" style="left:4188.00px;top:991.24px;width:371.00px;word-spacing:4.383px"><span id="s375">a satisfactory description of an excitonic (triple-)peak</span></div>
<div class="x b" style="left:4188.00px;top:1008.60px;width:371.00px;word-spacing:0.201px"><span id="s376">structure found in Re[<i>ϵ</i>(<i>ω</i>)] near photon energies of about</span></div>
<div class="x b" style="left:4188.00px;top:1025.96px;width:371.00px;word-spacing:0.625px"><span id="s377">10.5 eV. This feature is essential for the understanding of</span></div>
<div class="x b" style="left:4188.00px;top:1043.32px;width:371.00px;word-spacing:3.469px"><span id="s378">the excitations inside the crystal, as further elaborated</span></div>
<div class="x b" style="left:4188.00px;top:1060.68px;width:371.00px;word-spacing:1.519px"><span id="s379">in Sec. IV. Finally, let us remark that we shall comment</span></div>
<div class="x b" style="left:4188.00px;top:1078.04px;width:371.00px;word-spacing:2.324px"><span id="s380">on the higher statistical uncertainty assigned to the UV</span></div></div></body></html>
